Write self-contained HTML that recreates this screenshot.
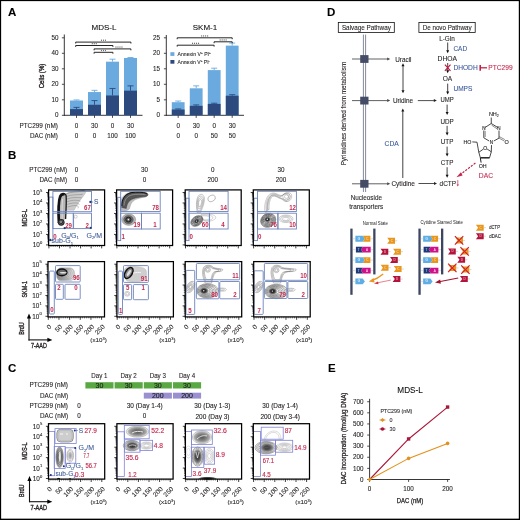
<!DOCTYPE html>
<html><head><meta charset="utf-8"><style>
html,body{margin:0;padding:0;background:#fff;}
#f{position:relative;width:520px;height:520px;overflow:hidden;background:#fff;}
svg{position:absolute;left:0;top:0;font-family:"Liberation Sans", sans-serif;filter:blur(0.3px);}
svg.b{filter:none;}
</style></head><body><div id="f">
<svg width="520" height="520" viewBox="0 0 520 520">
<defs><radialGradient id="gk" cx="50%" cy="50%" r="50%"><stop offset="0" stop-color="#111"/><stop offset="0.45" stop-color="#333"/><stop offset="0.8" stop-color="#888"/><stop offset="1" stop-color="#ccc" stop-opacity="0"/></radialGradient>
<radialGradient id="gm" cx="50%" cy="50%" r="50%"><stop offset="0" stop-color="#444"/><stop offset="0.5" stop-color="#777"/><stop offset="0.85" stop-color="#aaa"/><stop offset="1" stop-color="#ddd" stop-opacity="0"/></radialGradient>
<radialGradient id="gl" cx="50%" cy="50%" r="50%"><stop offset="0" stop-color="#999"/><stop offset="0.6" stop-color="#bbb"/><stop offset="1" stop-color="#eee" stop-opacity="0"/></radialGradient>
<linearGradient id="lgr" x1="0" y1="0" x2="1" y2="0"><stop offset="0" stop-color="#8a8a8a"/><stop offset="0.5" stop-color="#bdbdbd"/><stop offset="1" stop-color="#e6e6e6"/></linearGradient>
</defs>
<text x="8.00" y="15.97" font-size="11.50" fill="#000" font-weight="bold" stroke="#000" stroke-width="0.1">A</text>
<text x="8.00" y="159.47" font-size="11.50" fill="#000" font-weight="bold" stroke="#000" stroke-width="0.1">B</text>
<text x="8.00" y="372.47" font-size="11.50" fill="#000" font-weight="bold" stroke="#000" stroke-width="0.1">C</text>
<text x="327.00" y="15.97" font-size="11.50" fill="#000" font-weight="bold" stroke="#000" stroke-width="0.1">D</text>
<text x="328.00" y="372.47" font-size="11.50" fill="#000" font-weight="bold" stroke="#000" stroke-width="0.1">E</text>
<text x="104.00" y="29.76" font-size="8.00" fill="#111" text-anchor="middle" stroke="#111" stroke-width="0.1">MDS-L</text>
<line x1="64.30" y1="34.50" x2="64.30" y2="115.70" stroke="#231f20" stroke-width="0.9"/>
<line x1="63.90" y1="115.30" x2="142.50" y2="115.30" stroke="#231f20" stroke-width="0.9"/>
<line x1="61.90" y1="115.30" x2="64.30" y2="115.30" stroke="#231f20" stroke-width="0.8"/>
<text x="58.50" y="117.47" font-size="6.30" fill="#231f20" text-anchor="end" stroke="#231f20" stroke-width="0.1">0</text>
<line x1="61.90" y1="99.80" x2="64.30" y2="99.80" stroke="#231f20" stroke-width="0.8"/>
<text x="58.50" y="101.97" font-size="6.30" fill="#231f20" text-anchor="end" stroke="#231f20" stroke-width="0.1">10</text>
<line x1="61.90" y1="84.30" x2="64.30" y2="84.30" stroke="#231f20" stroke-width="0.8"/>
<text x="58.50" y="86.47" font-size="6.30" fill="#231f20" text-anchor="end" stroke="#231f20" stroke-width="0.1">20</text>
<line x1="61.90" y1="68.80" x2="64.30" y2="68.80" stroke="#231f20" stroke-width="0.8"/>
<text x="58.50" y="70.97" font-size="6.30" fill="#231f20" text-anchor="end" stroke="#231f20" stroke-width="0.1">30</text>
<line x1="61.90" y1="53.30" x2="64.30" y2="53.30" stroke="#231f20" stroke-width="0.8"/>
<text x="58.50" y="55.47" font-size="6.30" fill="#231f20" text-anchor="end" stroke="#231f20" stroke-width="0.1">40</text>
<line x1="61.90" y1="37.80" x2="64.30" y2="37.80" stroke="#231f20" stroke-width="0.8"/>
<text x="58.50" y="39.97" font-size="6.30" fill="#231f20" text-anchor="end" stroke="#231f20" stroke-width="0.1">50</text>
<rect x="70.00" y="100.50" width="13.00" height="14.80" fill="#6aaade"/>
<rect x="70.00" y="109.10" width="13.00" height="6.20" fill="#2c4a7e"/>
<line x1="76.50" y1="100.50" x2="76.50" y2="99.95" stroke="#6aaade" stroke-width="0.9"/>
<line x1="73.50" y1="99.95" x2="79.50" y2="99.95" stroke="#6aaade" stroke-width="0.9"/>
<line x1="76.50" y1="109.10" x2="76.50" y2="107.39" stroke="#2c4a7e" stroke-width="0.9"/>
<line x1="73.50" y1="107.39" x2="79.50" y2="107.39" stroke="#2c4a7e" stroke-width="0.9"/>
<line x1="76.50" y1="115.30" x2="76.50" y2="117.90" stroke="#231f20" stroke-width="0.8"/>
<text x="76.50" y="127.67" font-size="6.30" fill="#231f20" text-anchor="middle" stroke="#231f20" stroke-width="0.1">0</text>
<text x="76.50" y="137.77" font-size="6.30" fill="#231f20" text-anchor="middle" stroke="#231f20" stroke-width="0.1">0</text>
<rect x="88.00" y="92.05" width="13.00" height="23.25" fill="#6aaade"/>
<rect x="88.00" y="104.76" width="13.00" height="10.54" fill="#2c4a7e"/>
<line x1="94.50" y1="92.05" x2="94.50" y2="90.34" stroke="#6aaade" stroke-width="0.9"/>
<line x1="91.50" y1="90.34" x2="97.50" y2="90.34" stroke="#6aaade" stroke-width="0.9"/>
<line x1="94.50" y1="104.76" x2="94.50" y2="100.58" stroke="#2c4a7e" stroke-width="0.9"/>
<line x1="91.50" y1="100.58" x2="97.50" y2="100.58" stroke="#2c4a7e" stroke-width="0.9"/>
<line x1="94.50" y1="115.30" x2="94.50" y2="117.90" stroke="#231f20" stroke-width="0.8"/>
<text x="94.50" y="127.67" font-size="6.30" fill="#231f20" text-anchor="middle" stroke="#231f20" stroke-width="0.1">30</text>
<text x="94.50" y="137.77" font-size="6.30" fill="#231f20" text-anchor="middle" stroke="#231f20" stroke-width="0.1">0</text>
<rect x="106.00" y="61.67" width="13.00" height="53.63" fill="#6aaade"/>
<rect x="106.00" y="95.46" width="13.00" height="19.84" fill="#2c4a7e"/>
<line x1="112.50" y1="61.67" x2="112.50" y2="59.19" stroke="#6aaade" stroke-width="0.9"/>
<line x1="109.50" y1="59.19" x2="115.50" y2="59.19" stroke="#6aaade" stroke-width="0.9"/>
<line x1="112.50" y1="95.46" x2="112.50" y2="88.48" stroke="#2c4a7e" stroke-width="0.9"/>
<line x1="109.50" y1="88.48" x2="115.50" y2="88.48" stroke="#2c4a7e" stroke-width="0.9"/>
<line x1="112.50" y1="115.30" x2="112.50" y2="117.90" stroke="#231f20" stroke-width="0.8"/>
<text x="112.50" y="127.67" font-size="6.30" fill="#231f20" text-anchor="middle" stroke="#231f20" stroke-width="0.1">0</text>
<text x="112.50" y="137.77" font-size="6.30" fill="#231f20" text-anchor="middle" stroke="#231f20" stroke-width="0.1">100</text>
<rect x="124.00" y="57.95" width="13.00" height="57.35" fill="#6aaade"/>
<rect x="124.00" y="90.66" width="13.00" height="24.64" fill="#2c4a7e"/>
<line x1="130.50" y1="57.95" x2="130.50" y2="57.48" stroke="#6aaade" stroke-width="0.9"/>
<line x1="127.50" y1="57.48" x2="133.50" y2="57.48" stroke="#6aaade" stroke-width="0.9"/>
<line x1="130.50" y1="90.66" x2="130.50" y2="85.85" stroke="#2c4a7e" stroke-width="0.9"/>
<line x1="127.50" y1="85.85" x2="133.50" y2="85.85" stroke="#2c4a7e" stroke-width="0.9"/>
<line x1="130.50" y1="115.30" x2="130.50" y2="117.90" stroke="#231f20" stroke-width="0.8"/>
<text x="130.50" y="127.67" font-size="6.30" fill="#231f20" text-anchor="middle" stroke="#231f20" stroke-width="0.1">30</text>
<text x="130.50" y="137.77" font-size="6.30" fill="#231f20" text-anchor="middle" stroke="#231f20" stroke-width="0.1">100</text>
<path d="M75.70,43.50 V42.10 H130.90 V43.50" fill="none" stroke="#1a1a1a" stroke-width="0.95"/>
<rect x="100.95" y="39.60" width="1.0" height="1.3" fill="#6a6a6a"/>
<rect x="102.95" y="39.60" width="1.0" height="1.3" fill="#6a6a6a"/>
<rect x="104.95" y="39.60" width="1.0" height="1.3" fill="#6a6a6a"/>
<path d="M75.70,46.90 V45.50 H112.90 V46.90" fill="none" stroke="#1a1a1a" stroke-width="0.95"/>
<rect x="91.75" y="43.00" width="1.0" height="1.3" fill="#6a6a6a"/>
<rect x="93.75" y="43.00" width="1.0" height="1.3" fill="#6a6a6a"/>
<rect x="95.75" y="43.00" width="1.0" height="1.3" fill="#6a6a6a"/>
<path d="M94.10,50.30 V48.90 H130.90 V50.30" fill="none" stroke="#1a1a1a" stroke-width="0.95"/>
<rect x="115.45" y="46.40" width="1.0" height="1.3" fill="#6a6a6a"/>
<rect x="117.45" y="46.40" width="1.0" height="1.3" fill="#6a6a6a"/>
<rect x="119.45" y="46.40" width="1.0" height="1.3" fill="#6a6a6a"/>
<rect x="121.45" y="46.40" width="1.0" height="1.3" fill="#6a6a6a"/>
<path d="M94.10,53.70 V52.30 H112.90 V53.70" fill="none" stroke="#1a1a1a" stroke-width="0.95"/>
<rect x="100.95" y="49.80" width="1.0" height="1.3" fill="#6a6a6a"/>
<rect x="102.95" y="49.80" width="1.0" height="1.3" fill="#6a6a6a"/>
<rect x="104.95" y="49.80" width="1.0" height="1.3" fill="#6a6a6a"/>
<text x="205.00" y="29.76" font-size="8.00" fill="#111" text-anchor="middle" stroke="#111" stroke-width="0.1">SKM-1</text>
<line x1="166.30" y1="35.00" x2="166.30" y2="115.70" stroke="#231f20" stroke-width="0.9"/>
<line x1="165.90" y1="115.30" x2="244.00" y2="115.30" stroke="#231f20" stroke-width="0.9"/>
<line x1="163.90" y1="115.30" x2="166.30" y2="115.30" stroke="#231f20" stroke-width="0.8"/>
<text x="160.00" y="117.47" font-size="6.30" fill="#231f20" text-anchor="end" stroke="#231f20" stroke-width="0.1">0</text>
<line x1="163.90" y1="99.80" x2="166.30" y2="99.80" stroke="#231f20" stroke-width="0.8"/>
<text x="160.00" y="101.97" font-size="6.30" fill="#231f20" text-anchor="end" stroke="#231f20" stroke-width="0.1">5</text>
<line x1="163.90" y1="84.30" x2="166.30" y2="84.30" stroke="#231f20" stroke-width="0.8"/>
<text x="160.00" y="86.47" font-size="6.30" fill="#231f20" text-anchor="end" stroke="#231f20" stroke-width="0.1">10</text>
<line x1="163.90" y1="68.80" x2="166.30" y2="68.80" stroke="#231f20" stroke-width="0.8"/>
<text x="160.00" y="70.97" font-size="6.30" fill="#231f20" text-anchor="end" stroke="#231f20" stroke-width="0.1">15</text>
<line x1="163.90" y1="53.30" x2="166.30" y2="53.30" stroke="#231f20" stroke-width="0.8"/>
<text x="160.00" y="55.47" font-size="6.30" fill="#231f20" text-anchor="end" stroke="#231f20" stroke-width="0.1">20</text>
<line x1="163.90" y1="37.80" x2="166.30" y2="37.80" stroke="#231f20" stroke-width="0.8"/>
<text x="160.00" y="39.97" font-size="6.30" fill="#231f20" text-anchor="end" stroke="#231f20" stroke-width="0.1">25</text>
<rect x="171.80" y="102.19" width="12.80" height="13.11" fill="#6aaade"/>
<rect x="171.80" y="109.50" width="12.80" height="5.80" fill="#2c4a7e"/>
<line x1="178.20" y1="102.19" x2="178.20" y2="101.04" stroke="#6aaade" stroke-width="0.9"/>
<line x1="175.20" y1="101.04" x2="181.20" y2="101.04" stroke="#6aaade" stroke-width="0.9"/>
<line x1="178.20" y1="109.50" x2="178.20" y2="108.94" stroke="#2c4a7e" stroke-width="0.9"/>
<line x1="175.20" y1="108.94" x2="181.20" y2="108.94" stroke="#2c4a7e" stroke-width="0.9"/>
<line x1="178.20" y1="115.30" x2="178.20" y2="117.90" stroke="#231f20" stroke-width="0.8"/>
<text x="178.20" y="127.67" font-size="6.30" fill="#231f20" text-anchor="middle" stroke="#231f20" stroke-width="0.1">0</text>
<text x="178.20" y="137.77" font-size="6.30" fill="#231f20" text-anchor="middle" stroke="#231f20" stroke-width="0.1">0</text>
<rect x="189.80" y="88.30" width="12.80" height="27.00" fill="#6aaade"/>
<rect x="189.80" y="105.81" width="12.80" height="9.49" fill="#2c4a7e"/>
<line x1="196.20" y1="88.30" x2="196.20" y2="85.85" stroke="#6aaade" stroke-width="0.9"/>
<line x1="193.20" y1="85.85" x2="199.20" y2="85.85" stroke="#6aaade" stroke-width="0.9"/>
<line x1="196.20" y1="105.81" x2="196.20" y2="104.91" stroke="#2c4a7e" stroke-width="0.9"/>
<line x1="193.20" y1="104.91" x2="199.20" y2="104.91" stroke="#2c4a7e" stroke-width="0.9"/>
<line x1="196.20" y1="115.30" x2="196.20" y2="117.90" stroke="#231f20" stroke-width="0.8"/>
<text x="196.20" y="127.67" font-size="6.30" fill="#231f20" text-anchor="middle" stroke="#231f20" stroke-width="0.1">30</text>
<text x="196.20" y="137.77" font-size="6.30" fill="#231f20" text-anchor="middle" stroke="#231f20" stroke-width="0.1">0</text>
<rect x="207.80" y="70.10" width="12.80" height="45.20" fill="#6aaade"/>
<rect x="207.80" y="103.89" width="12.80" height="11.41" fill="#2c4a7e"/>
<line x1="214.20" y1="70.10" x2="214.20" y2="68.18" stroke="#6aaade" stroke-width="0.9"/>
<line x1="211.20" y1="68.18" x2="217.20" y2="68.18" stroke="#6aaade" stroke-width="0.9"/>
<line x1="214.20" y1="103.89" x2="214.20" y2="103.21" stroke="#2c4a7e" stroke-width="0.9"/>
<line x1="211.20" y1="103.21" x2="217.20" y2="103.21" stroke="#2c4a7e" stroke-width="0.9"/>
<line x1="214.20" y1="115.30" x2="214.20" y2="117.90" stroke="#231f20" stroke-width="0.8"/>
<text x="214.20" y="127.67" font-size="6.30" fill="#231f20" text-anchor="middle" stroke="#231f20" stroke-width="0.1">0</text>
<text x="214.20" y="137.77" font-size="6.30" fill="#231f20" text-anchor="middle" stroke="#231f20" stroke-width="0.1">50</text>
<rect x="225.80" y="45.61" width="12.80" height="69.69" fill="#6aaade"/>
<rect x="225.80" y="95.71" width="12.80" height="19.59" fill="#2c4a7e"/>
<line x1="232.20" y1="45.61" x2="232.20" y2="43.07" stroke="#6aaade" stroke-width="0.9"/>
<line x1="229.20" y1="43.07" x2="235.20" y2="43.07" stroke="#6aaade" stroke-width="0.9"/>
<line x1="232.20" y1="95.71" x2="232.20" y2="94.69" stroke="#2c4a7e" stroke-width="0.9"/>
<line x1="229.20" y1="94.69" x2="235.20" y2="94.69" stroke="#2c4a7e" stroke-width="0.9"/>
<line x1="232.20" y1="115.30" x2="232.20" y2="117.90" stroke="#231f20" stroke-width="0.8"/>
<text x="232.20" y="127.67" font-size="6.30" fill="#231f20" text-anchor="middle" stroke="#231f20" stroke-width="0.1">30</text>
<text x="232.20" y="137.77" font-size="6.30" fill="#231f20" text-anchor="middle" stroke="#231f20" stroke-width="0.1">50</text>
<path d="M177.20,39.20 V37.80 H232.20 V39.20" fill="none" stroke="#1a1a1a" stroke-width="0.95"/>
<rect x="201.15" y="35.30" width="1.0" height="1.3" fill="#6a6a6a"/>
<rect x="203.15" y="35.30" width="1.0" height="1.3" fill="#6a6a6a"/>
<rect x="205.15" y="35.30" width="1.0" height="1.3" fill="#6a6a6a"/>
<rect x="207.15" y="35.30" width="1.0" height="1.3" fill="#6a6a6a"/>
<path d="M214.10,43.20 V41.80 H232.20 V43.20" fill="none" stroke="#1a1a1a" stroke-width="0.95"/>
<rect x="219.65" y="39.30" width="1.0" height="1.3" fill="#6a6a6a"/>
<rect x="221.65" y="39.30" width="1.0" height="1.3" fill="#6a6a6a"/>
<rect x="223.65" y="39.30" width="1.0" height="1.3" fill="#6a6a6a"/>
<rect x="225.65" y="39.30" width="1.0" height="1.3" fill="#6a6a6a"/>
<path d="M177.20,46.60 V45.20 H214.10 V46.60" fill="none" stroke="#1a1a1a" stroke-width="0.95"/>
<rect x="192.05" y="42.70" width="1.0" height="1.3" fill="#6a6a6a"/>
<rect x="194.05" y="42.70" width="1.0" height="1.3" fill="#6a6a6a"/>
<rect x="196.05" y="42.70" width="1.0" height="1.3" fill="#6a6a6a"/>
<rect x="198.05" y="42.70" width="1.0" height="1.3" fill="#6a6a6a"/>
<text transform="translate(42.00,76.00) rotate(-90)" x="0" y="2.42" font-size="7.00" fill="#231f20" text-anchor="middle" textLength="24.6" lengthAdjust="spacingAndGlyphs" stroke="#231f20" stroke-width="0.35">Cells (%)</text>
<text x="57.90" y="127.67" font-size="6.30" fill="#231f20" text-anchor="end" textLength="38.5" lengthAdjust="spacingAndGlyphs" stroke="#231f20" stroke-width="0.1">PTC299 (nM)</text>
<text x="57.90" y="137.77" font-size="6.30" fill="#231f20" text-anchor="end" textLength="28" lengthAdjust="spacingAndGlyphs" stroke="#231f20" stroke-width="0.1">DAC (nM)</text>
<rect x="170.40" y="52.20" width="4.00" height="3.70" fill="#6aaade"/>
<rect x="170.40" y="60.00" width="4.00" height="3.70" fill="#2c4a7e"/>
<text x="177.60" y="56.07" font-size="6.00" fill="#231f20" textLength="33.2" lengthAdjust="spacingAndGlyphs" stroke="#231f20" stroke-width="0.1">Annexin V<tspan dy="-2.2" font-size="3.6">+</tspan><tspan dy="2.2"> PI</tspan><tspan dy="-2.2" font-size="3.6">+</tspan></text>
<text x="177.60" y="63.87" font-size="6.00" fill="#231f20" textLength="32.0" lengthAdjust="spacingAndGlyphs" stroke="#231f20" stroke-width="0.1">Annexin V<tspan dy="-2.2" font-size="3.6">+</tspan><tspan dy="2.2"> PI</tspan><tspan dy="-2.2" font-size="3.6">-</tspan></text>
<text x="67.00" y="171.67" font-size="6.30" fill="#231f20" text-anchor="end" textLength="37.8" lengthAdjust="spacingAndGlyphs" stroke="#231f20" stroke-width="0.1">PTC299 (nM)</text>
<text x="67.00" y="181.77" font-size="6.30" fill="#231f20" text-anchor="end" textLength="27.6" lengthAdjust="spacingAndGlyphs" stroke="#231f20" stroke-width="0.1">DAC (nM)</text>
<text x="76.50" y="171.57" font-size="6.30" fill="#231f20" text-anchor="middle" stroke="#231f20" stroke-width="0.1">0</text>
<text x="76.50" y="181.77" font-size="6.30" fill="#231f20" text-anchor="middle" stroke="#231f20" stroke-width="0.1">0</text>
<text x="144.60" y="171.57" font-size="6.30" fill="#231f20" text-anchor="middle" stroke="#231f20" stroke-width="0.1">30</text>
<text x="144.60" y="181.77" font-size="6.30" fill="#231f20" text-anchor="middle" stroke="#231f20" stroke-width="0.1">0</text>
<text x="212.80" y="171.57" font-size="6.30" fill="#231f20" text-anchor="middle" stroke="#231f20" stroke-width="0.1">0</text>
<text x="212.80" y="181.77" font-size="6.30" fill="#231f20" text-anchor="middle" stroke="#231f20" stroke-width="0.1">200</text>
<text x="280.90" y="171.57" font-size="6.30" fill="#231f20" text-anchor="middle" stroke="#231f20" stroke-width="0.1">30</text>
<text x="280.90" y="181.77" font-size="6.30" fill="#231f20" text-anchor="middle" stroke="#231f20" stroke-width="0.1">200</text>
<text transform="translate(23.80,217.70) rotate(-90)" x="0" y="2.73" font-size="7.90" fill="#231f20" text-anchor="middle" textLength="17.6" lengthAdjust="spacingAndGlyphs" stroke="#231f20" stroke-width="0.35">MDS-L</text>
<text transform="translate(23.80,289.30) rotate(-90)" x="0" y="2.73" font-size="7.90" fill="#231f20" text-anchor="middle" textLength="16.4" lengthAdjust="spacingAndGlyphs" stroke="#231f20" stroke-width="0.35">SKM-1</text>
<path d="M64.5,201 L66,194 C69,191.5 76,190.8 84.5,190.6 C86.5,191 86,193 83,196.5 C80,200 77,205 74,210.2 L66.5,210.2 Z" fill="#cbcbcb" stroke="#999" stroke-width="0.35"/>
<path d="M66.0,194.0 C71.0,191.5 77.0,192.5 84.0,190.8" fill="none" stroke="#6a6a6a" stroke-width="0.4"/>
<path d="M66.3,196.6 C72.0,194.1 77.5,195.1 82.8,194.3" fill="none" stroke="#6a6a6a" stroke-width="0.4"/>
<path d="M66.6,199.2 C73.0,196.7 78.0,197.7 81.6,197.8" fill="none" stroke="#6a6a6a" stroke-width="0.4"/>
<path d="M66.9,201.8 C74.0,199.3 78.5,200.3 80.4,201.3" fill="none" stroke="#6a6a6a" stroke-width="0.4"/>
<path d="M67.2,204.4 C75.0,201.9 79.0,202.9 79.2,204.8" fill="none" stroke="#6a6a6a" stroke-width="0.4"/>
<path d="M67.5,207.0 C76.0,204.5 79.5,205.5 78.0,208.3" fill="none" stroke="#6a6a6a" stroke-width="0.4"/>
<path d="M58.3,223 C57.6,212 57.8,201 59.6,196 C61,192.8 64.8,192.6 66.0,195.2 C66.6,199 66.2,208 65.6,219" fill="#b8b8b8" stroke="#1a1a1a" stroke-width="1.3"/>
<path d="M59.0,221 C58.6,212 58.8,201 60.4,196.8 C61.4,194.8 63,194.2 64.6,194.6" fill="none" stroke="#111" stroke-width="2.2"/>
<path d="M62.2,219 C62.0,212 62.1,204 62.6,199" fill="none" stroke="#e8e8e8" stroke-width="0.7"/>
<circle cx="61.2" cy="222.3" r="3.4" fill="#222"/>
<circle cx="61.2" cy="222.3" r="2.0" fill="none" stroke="#888" stroke-width="0.5"/>
<circle cx="61.0" cy="222.0" r="0.8" fill="#fff"/>
<circle cx="75.7" cy="216.7" r="1.5" fill="none" stroke="#888" stroke-width="0.4"/>
<path d="M120.4,210 C120,203 121.5,197.5 125,194.5 C129,191.8 136,192 142,192.4 C146,192.7 148.5,193.6 147.8,195.3 C146.5,197.4 141,197.3 135.5,199.6 C131.5,201.5 130.4,205 129.6,208.5 C128.5,211 122,211.5 120.4,210 Z" fill="#bdbdbd" stroke="#888" stroke-width="0.4"/>
<path d="M121.6,207.5 C121.6,199 124.5,194.2 131,192.5 C137,191.5 144,191.8 147.5,193.6 C148.6,195 147.5,196.5 145,196.8 C140,197 134,197.8 130.5,200.2 C127.8,202 126.8,205 126.3,208.5 Z" fill="#555" stroke="#333" stroke-width="0.4"/>
<path d="M121.8,206 C121.8,199 124.6,194.4 131,192.7 C137,191.7 143,191.9 147,193.5" fill="none" stroke="#111" stroke-width="1.0"/>
<path d="M124.0,205.5 C124.3,199.8 127,196.2 132,194.9 C137,194.0 141,194.1 145.5,194.7" fill="none" stroke="#b0b0b0" stroke-width="0.6"/>
<ellipse cx="128.7" cy="219.6" rx="7.0" ry="5.8" fill="#b5b5b5" stroke="#777" stroke-width="0.4"/>
<ellipse cx="128.5" cy="219.6" rx="4.8" ry="4.2" fill="#6a6a6a" stroke="#444" stroke-width="0.4"/>
<ellipse cx="128.4" cy="219.6" rx="2.6" ry="2.4" fill="#555" stroke="#1a1a1a" stroke-width="0.9"/>
<circle cx="128.4" cy="219.6" r="0.8" fill="#eee"/>
<path d="M197.2,212.5 C195.8,205 196.2,197.5 199.2,195 C202.5,193 205,196 204.3,201 C203.6,206 201.5,210 200.3,212.8 Z" fill="none" stroke="#707070" stroke-width="0.400" transform="translate(200,203) scale(1.000) translate(-200,-203)"/>
<path d="M197.2,212.5 C195.8,205 196.2,197.5 199.2,195 C202.5,193 205,196 204.3,201 C203.6,206 201.5,210 200.3,212.8 Z" fill="none" stroke="#707070" stroke-width="0.500" transform="translate(200,203) scale(0.800) translate(-200,-203)"/>
<path d="M197.2,212.5 C195.8,205 196.2,197.5 199.2,195 C202.5,193 205,196 204.3,201 C203.6,206 201.5,210 200.3,212.8 Z" fill="none" stroke="#707070" stroke-width="0.667" transform="translate(200,203) scale(0.600) translate(-200,-203)"/>
<path d="M197.2,212.5 C195.8,205 196.2,197.5 199.2,195 C202.5,193 205,196 204.3,201 C203.6,206 201.5,210 200.3,212.8 Z" fill="none" stroke="#707070" stroke-width="1.000" transform="translate(200,203) scale(0.400) translate(-200,-203)"/>
<ellipse cx="211.6" cy="198.4" rx="3.9" ry="3.0" fill="none" stroke="#777" stroke-width="0.45" transform="rotate(-25 211.6 198.4)"/>
<path d="M201,214.5 C206,213.5 213,214 215.6,216.5 C216.5,219 213,221.2 207,221.4 C203.5,221.5 201,219 201,214.5 Z" fill="none" stroke="#888" stroke-width="0.350" transform="translate(203,218) scale(1.000) translate(-203,-218)"/>
<path d="M201,214.5 C206,213.5 213,214 215.6,216.5 C216.5,219 213,221.2 207,221.4 C203.5,221.5 201,219 201,214.5 Z" fill="none" stroke="#888" stroke-width="0.452" transform="translate(203,218) scale(0.775) translate(-203,-218)"/>
<path d="M201,214.5 C206,213.5 213,214 215.6,216.5 C216.5,219 213,221.2 207,221.4 C203.5,221.5 201,219 201,214.5 Z" fill="none" stroke="#888" stroke-width="0.636" transform="translate(203,218) scale(0.550) translate(-203,-218)"/>
<ellipse cx="196.80" cy="221.00" rx="6.60" ry="4.60" fill="none" stroke="#2a2a2a" stroke-width="0.45" transform="rotate(-35 196.80 221.00)"/>
<ellipse cx="196.80" cy="221.00" rx="5.87" ry="4.09" fill="none" stroke="#2a2a2a" stroke-width="0.45" transform="rotate(-35 196.80 221.00)"/>
<ellipse cx="196.80" cy="221.00" rx="5.15" ry="3.59" fill="none" stroke="#2a2a2a" stroke-width="0.45" transform="rotate(-35 196.80 221.00)"/>
<ellipse cx="196.80" cy="221.00" rx="4.42" ry="3.08" fill="none" stroke="#2a2a2a" stroke-width="0.45" transform="rotate(-35 196.80 221.00)"/>
<ellipse cx="196.80" cy="221.00" rx="3.70" ry="2.58" fill="none" stroke="#2a2a2a" stroke-width="0.45" transform="rotate(-35 196.80 221.00)"/>
<ellipse cx="196.80" cy="221.00" rx="2.97" ry="2.07" fill="none" stroke="#2a2a2a" stroke-width="0.45" transform="rotate(-35 196.80 221.00)"/>
<ellipse cx="196.80" cy="221.00" rx="2.24" ry="1.56" fill="none" stroke="#2a2a2a" stroke-width="0.45" transform="rotate(-35 196.80 221.00)"/>
<ellipse cx="196.80" cy="221.00" rx="1.52" ry="1.06" fill="none" stroke="#2a2a2a" stroke-width="0.45" transform="rotate(-35 196.80 221.00)"/>
<ellipse cx="196.80" cy="221.00" rx="0.79" ry="0.55" fill="none" stroke="#2a2a2a" stroke-width="0.45" transform="rotate(-35 196.80 221.00)"/>
<ellipse cx="196.60" cy="221.10" rx="3.40" ry="2.60" fill="url(#gk)" opacity="1" transform="rotate(-35 196.60 221.10)"/>
<circle cx="196.5" cy="221.1" r="0.7" fill="#eee"/>
<path d="M266.8,212.2 C266.5,206 267.5,200 270,196.5 C272.5,193.8 276,195.5 279,197.2 C282,198.5 284,199 286.5,201.5 C290,202 292.5,198 291.5,194.5 C290,191.8 285.5,192 283.5,194.5 C281.5,196.5 279.5,195 276,193.6 C272,192 268.5,194 266.8,198 C264.5,203 264.3,208 265,212.2 Z" fill="none" stroke="#808080" stroke-width="0.400" transform="translate(277,200) scale(1.000) translate(-277,-200)"/>
<path d="M266.8,212.2 C266.5,206 267.5,200 270,196.5 C272.5,193.8 276,195.5 279,197.2 C282,198.5 284,199 286.5,201.5 C290,202 292.5,198 291.5,194.5 C290,191.8 285.5,192 283.5,194.5 C281.5,196.5 279.5,195 276,193.6 C272,192 268.5,194 266.8,198 C264.5,203 264.3,208 265,212.2 Z" fill="none" stroke="#808080" stroke-width="0.449" transform="translate(277,200) scale(0.890) translate(-277,-200)"/>
<path d="M266.8,212.2 C266.5,206 267.5,200 270,196.5 C272.5,193.8 276,195.5 279,197.2 C282,198.5 284,199 286.5,201.5 C290,202 292.5,198 291.5,194.5 C290,191.8 285.5,192 283.5,194.5 C281.5,196.5 279.5,195 276,193.6 C272,192 268.5,194 266.8,198 C264.5,203 264.3,208 265,212.2 Z" fill="none" stroke="#808080" stroke-width="0.513" transform="translate(277,200) scale(0.780) translate(-277,-200)"/>
<ellipse cx="286.50" cy="196.60" rx="3.80" ry="3.30" fill="none" stroke="#888" stroke-width="0.4" transform="rotate(0 286.50 196.60)"/>
<ellipse cx="286.50" cy="196.60" rx="2.09" ry="1.81" fill="none" stroke="#888" stroke-width="0.4" transform="rotate(0 286.50 196.60)"/>
<ellipse cx="286.00" cy="218.80" rx="7.00" ry="3.80" fill="none" stroke="#888" stroke-width="0.4" transform="rotate(0 286.00 218.80)"/>
<ellipse cx="286.00" cy="218.80" rx="5.48" ry="2.98" fill="none" stroke="#888" stroke-width="0.4" transform="rotate(0 286.00 218.80)"/>
<ellipse cx="286.00" cy="218.80" rx="3.97" ry="2.15" fill="none" stroke="#888" stroke-width="0.4" transform="rotate(0 286.00 218.80)"/>
<ellipse cx="286.00" cy="218.80" rx="2.45" ry="1.33" fill="none" stroke="#888" stroke-width="0.4" transform="rotate(0 286.00 218.80)"/>
<ellipse cx="285.5" cy="218.8" rx="2.2" ry="1.1" fill="#fff"/>
<ellipse cx="268.20" cy="220.30" rx="7.80" ry="6.80" fill="none" stroke="#2a2a2a" stroke-width="0.45" transform="rotate(-30 268.20 220.30)"/>
<ellipse cx="268.12" cy="220.22" rx="7.04" ry="6.14" fill="none" stroke="#2a2a2a" stroke-width="0.45" transform="rotate(-30 268.12 220.22)"/>
<ellipse cx="268.04" cy="220.14" rx="6.27" ry="5.47" fill="none" stroke="#2a2a2a" stroke-width="0.45" transform="rotate(-30 268.04 220.14)"/>
<ellipse cx="267.97" cy="220.07" rx="5.51" ry="4.81" fill="none" stroke="#2a2a2a" stroke-width="0.45" transform="rotate(-30 267.97 220.07)"/>
<ellipse cx="267.89" cy="219.99" rx="4.75" ry="4.14" fill="none" stroke="#2a2a2a" stroke-width="0.45" transform="rotate(-30 267.89 219.99)"/>
<ellipse cx="267.81" cy="219.91" rx="3.99" ry="3.48" fill="none" stroke="#2a2a2a" stroke-width="0.45" transform="rotate(-30 267.81 219.91)"/>
<ellipse cx="267.73" cy="219.83" rx="3.22" ry="2.81" fill="none" stroke="#2a2a2a" stroke-width="0.45" transform="rotate(-30 267.73 219.83)"/>
<ellipse cx="267.65" cy="219.75" rx="2.46" ry="2.15" fill="none" stroke="#2a2a2a" stroke-width="0.45" transform="rotate(-30 267.65 219.75)"/>
<ellipse cx="267.57" cy="219.67" rx="1.70" ry="1.48" fill="none" stroke="#2a2a2a" stroke-width="0.45" transform="rotate(-30 267.57 219.67)"/>
<ellipse cx="267.50" cy="219.60" rx="0.94" ry="0.82" fill="none" stroke="#2a2a2a" stroke-width="0.45" transform="rotate(-30 267.50 219.60)"/>
<ellipse cx="267.40" cy="219.40" rx="3.60" ry="3.00" fill="url(#gk)" opacity="1" transform="rotate(0 267.40 219.40)"/>
<circle cx="267.3" cy="219.3" r="0.75" fill="#eee"/>
<rect x="49.10" y="197.10" width="3.80" height="43.40" fill="none" stroke="#6d85bb" stroke-width="0.9"/>
<rect x="52.90" y="191.40" width="38.60" height="20.30" fill="none" stroke="#6d85bb" stroke-width="0.9"/>
<rect x="52.90" y="213.20" width="20.30" height="15.40" fill="none" stroke="#6d85bb" stroke-width="0.9"/>
<rect x="73.60" y="213.20" width="17.90" height="15.40" fill="none" stroke="#6d85bb" stroke-width="0.9"/>
<rect x="117.80" y="197.30" width="2.90" height="43.30" fill="none" stroke="#6d85bb" stroke-width="0.9"/>
<rect x="120.70" y="191.30" width="39.50" height="20.20" fill="none" stroke="#6d85bb" stroke-width="0.9"/>
<rect x="120.70" y="213.20" width="20.80" height="15.80" fill="none" stroke="#6d85bb" stroke-width="0.9"/>
<rect x="141.50" y="213.20" width="18.70" height="15.80" fill="none" stroke="#6d85bb" stroke-width="0.9"/>
<rect x="186.00" y="198.20" width="3.00" height="42.40" fill="none" stroke="#6d85bb" stroke-width="0.9"/>
<rect x="189.00" y="191.30" width="39.10" height="20.20" fill="none" stroke="#6d85bb" stroke-width="0.9"/>
<rect x="189.00" y="213.20" width="20.40" height="15.80" fill="none" stroke="#6d85bb" stroke-width="0.9"/>
<rect x="209.40" y="213.20" width="18.70" height="15.80" fill="none" stroke="#6d85bb" stroke-width="0.9"/>
<rect x="254.00" y="198.20" width="3.50" height="42.40" fill="none" stroke="#6d85bb" stroke-width="0.9"/>
<rect x="257.50" y="191.30" width="38.90" height="20.20" fill="none" stroke="#6d85bb" stroke-width="0.9"/>
<rect x="257.50" y="213.20" width="20.40" height="15.80" fill="none" stroke="#6d85bb" stroke-width="0.9"/>
<rect x="277.90" y="213.20" width="18.50" height="15.80" fill="none" stroke="#6d85bb" stroke-width="0.9"/>
<rect x="48.60" y="189.90" width="56.00" height="55.60" fill="none" stroke="#000" stroke-width="1.25"/>
<line x1="46.00" y1="244.90" x2="48.60" y2="244.90" stroke="#000" stroke-width="0.75"/>
<line x1="47.20" y1="241.75" x2="48.60" y2="241.75" stroke="#000" stroke-width="0.5"/>
<line x1="47.20" y1="239.90" x2="48.60" y2="239.90" stroke="#000" stroke-width="0.5"/>
<line x1="47.20" y1="238.59" x2="48.60" y2="238.59" stroke="#000" stroke-width="0.5"/>
<line x1="47.20" y1="237.57" x2="48.60" y2="237.57" stroke="#000" stroke-width="0.5"/>
<line x1="47.20" y1="236.74" x2="48.60" y2="236.74" stroke="#000" stroke-width="0.5"/>
<line x1="47.20" y1="236.04" x2="48.60" y2="236.04" stroke="#000" stroke-width="0.5"/>
<line x1="47.20" y1="235.44" x2="48.60" y2="235.44" stroke="#000" stroke-width="0.5"/>
<line x1="47.20" y1="234.90" x2="48.60" y2="234.90" stroke="#000" stroke-width="0.5"/>
<text x="39.90" y="247.41" font-size="6.40" fill="#231f20" text-anchor="end" stroke="#231f20" stroke-width="0.1">10</text>
<text x="40.00" y="244.01" font-size="4.10" fill="#231f20" stroke="#231f20" stroke-width="0.1">0</text>
<line x1="46.00" y1="234.42" x2="48.60" y2="234.42" stroke="#000" stroke-width="0.75"/>
<line x1="47.20" y1="231.27" x2="48.60" y2="231.27" stroke="#000" stroke-width="0.5"/>
<line x1="47.20" y1="229.42" x2="48.60" y2="229.42" stroke="#000" stroke-width="0.5"/>
<line x1="47.20" y1="228.11" x2="48.60" y2="228.11" stroke="#000" stroke-width="0.5"/>
<line x1="47.20" y1="227.09" x2="48.60" y2="227.09" stroke="#000" stroke-width="0.5"/>
<line x1="47.20" y1="226.26" x2="48.60" y2="226.26" stroke="#000" stroke-width="0.5"/>
<line x1="47.20" y1="225.56" x2="48.60" y2="225.56" stroke="#000" stroke-width="0.5"/>
<line x1="47.20" y1="224.96" x2="48.60" y2="224.96" stroke="#000" stroke-width="0.5"/>
<line x1="47.20" y1="224.42" x2="48.60" y2="224.42" stroke="#000" stroke-width="0.5"/>
<text x="39.90" y="236.93" font-size="6.40" fill="#231f20" text-anchor="end" stroke="#231f20" stroke-width="0.1">10</text>
<text x="40.00" y="233.53" font-size="4.10" fill="#231f20" stroke="#231f20" stroke-width="0.1">1</text>
<line x1="46.00" y1="223.94" x2="48.60" y2="223.94" stroke="#000" stroke-width="0.75"/>
<line x1="47.20" y1="220.79" x2="48.60" y2="220.79" stroke="#000" stroke-width="0.5"/>
<line x1="47.20" y1="218.94" x2="48.60" y2="218.94" stroke="#000" stroke-width="0.5"/>
<line x1="47.20" y1="217.63" x2="48.60" y2="217.63" stroke="#000" stroke-width="0.5"/>
<line x1="47.20" y1="216.61" x2="48.60" y2="216.61" stroke="#000" stroke-width="0.5"/>
<line x1="47.20" y1="215.78" x2="48.60" y2="215.78" stroke="#000" stroke-width="0.5"/>
<line x1="47.20" y1="215.08" x2="48.60" y2="215.08" stroke="#000" stroke-width="0.5"/>
<line x1="47.20" y1="214.48" x2="48.60" y2="214.48" stroke="#000" stroke-width="0.5"/>
<line x1="47.20" y1="213.94" x2="48.60" y2="213.94" stroke="#000" stroke-width="0.5"/>
<text x="39.90" y="226.45" font-size="6.40" fill="#231f20" text-anchor="end" stroke="#231f20" stroke-width="0.1">10</text>
<text x="40.00" y="223.05" font-size="4.10" fill="#231f20" stroke="#231f20" stroke-width="0.1">2</text>
<line x1="46.00" y1="213.46" x2="48.60" y2="213.46" stroke="#000" stroke-width="0.75"/>
<line x1="47.20" y1="210.31" x2="48.60" y2="210.31" stroke="#000" stroke-width="0.5"/>
<line x1="47.20" y1="208.46" x2="48.60" y2="208.46" stroke="#000" stroke-width="0.5"/>
<line x1="47.20" y1="207.15" x2="48.60" y2="207.15" stroke="#000" stroke-width="0.5"/>
<line x1="47.20" y1="206.13" x2="48.60" y2="206.13" stroke="#000" stroke-width="0.5"/>
<line x1="47.20" y1="205.30" x2="48.60" y2="205.30" stroke="#000" stroke-width="0.5"/>
<line x1="47.20" y1="204.60" x2="48.60" y2="204.60" stroke="#000" stroke-width="0.5"/>
<line x1="47.20" y1="204.00" x2="48.60" y2="204.00" stroke="#000" stroke-width="0.5"/>
<line x1="47.20" y1="203.46" x2="48.60" y2="203.46" stroke="#000" stroke-width="0.5"/>
<text x="39.90" y="215.97" font-size="6.40" fill="#231f20" text-anchor="end" stroke="#231f20" stroke-width="0.1">10</text>
<text x="40.00" y="212.57" font-size="4.10" fill="#231f20" stroke="#231f20" stroke-width="0.1">3</text>
<line x1="46.00" y1="202.98" x2="48.60" y2="202.98" stroke="#000" stroke-width="0.75"/>
<line x1="47.20" y1="199.83" x2="48.60" y2="199.83" stroke="#000" stroke-width="0.5"/>
<line x1="47.20" y1="197.98" x2="48.60" y2="197.98" stroke="#000" stroke-width="0.5"/>
<line x1="47.20" y1="196.67" x2="48.60" y2="196.67" stroke="#000" stroke-width="0.5"/>
<line x1="47.20" y1="195.65" x2="48.60" y2="195.65" stroke="#000" stroke-width="0.5"/>
<line x1="47.20" y1="194.82" x2="48.60" y2="194.82" stroke="#000" stroke-width="0.5"/>
<line x1="47.20" y1="194.12" x2="48.60" y2="194.12" stroke="#000" stroke-width="0.5"/>
<line x1="47.20" y1="193.52" x2="48.60" y2="193.52" stroke="#000" stroke-width="0.5"/>
<line x1="47.20" y1="192.98" x2="48.60" y2="192.98" stroke="#000" stroke-width="0.5"/>
<text x="39.90" y="205.49" font-size="6.40" fill="#231f20" text-anchor="end" stroke="#231f20" stroke-width="0.1">10</text>
<text x="40.00" y="202.09" font-size="4.10" fill="#231f20" stroke="#231f20" stroke-width="0.1">4</text>
<line x1="46.00" y1="192.50" x2="48.60" y2="192.50" stroke="#000" stroke-width="0.75"/>
<text x="39.90" y="195.01" font-size="6.40" fill="#231f20" text-anchor="end" stroke="#231f20" stroke-width="0.1">10</text>
<text x="40.00" y="191.61" font-size="4.10" fill="#231f20" stroke="#231f20" stroke-width="0.1">5</text>
<line x1="48.90" y1="245.50" x2="48.90" y2="248.40" stroke="#000" stroke-width="0.75"/>
<line x1="51.01" y1="245.50" x2="51.01" y2="247.00" stroke="#000" stroke-width="0.5"/>
<line x1="53.12" y1="245.50" x2="53.12" y2="247.00" stroke="#000" stroke-width="0.5"/>
<line x1="55.24" y1="245.50" x2="55.24" y2="247.00" stroke="#000" stroke-width="0.5"/>
<line x1="57.35" y1="245.50" x2="57.35" y2="247.00" stroke="#000" stroke-width="0.5"/>
<line x1="59.46" y1="245.50" x2="59.46" y2="248.40" stroke="#000" stroke-width="0.75"/>
<line x1="61.57" y1="245.50" x2="61.57" y2="247.00" stroke="#000" stroke-width="0.5"/>
<line x1="63.68" y1="245.50" x2="63.68" y2="247.00" stroke="#000" stroke-width="0.5"/>
<line x1="65.80" y1="245.50" x2="65.80" y2="247.00" stroke="#000" stroke-width="0.5"/>
<line x1="67.91" y1="245.50" x2="67.91" y2="247.00" stroke="#000" stroke-width="0.5"/>
<line x1="70.02" y1="245.50" x2="70.02" y2="248.40" stroke="#000" stroke-width="0.75"/>
<line x1="72.13" y1="245.50" x2="72.13" y2="247.00" stroke="#000" stroke-width="0.5"/>
<line x1="74.24" y1="245.50" x2="74.24" y2="247.00" stroke="#000" stroke-width="0.5"/>
<line x1="76.36" y1="245.50" x2="76.36" y2="247.00" stroke="#000" stroke-width="0.5"/>
<line x1="78.47" y1="245.50" x2="78.47" y2="247.00" stroke="#000" stroke-width="0.5"/>
<line x1="80.58" y1="245.50" x2="80.58" y2="248.40" stroke="#000" stroke-width="0.75"/>
<line x1="82.69" y1="245.50" x2="82.69" y2="247.00" stroke="#000" stroke-width="0.5"/>
<line x1="84.80" y1="245.50" x2="84.80" y2="247.00" stroke="#000" stroke-width="0.5"/>
<line x1="86.92" y1="245.50" x2="86.92" y2="247.00" stroke="#000" stroke-width="0.5"/>
<line x1="89.03" y1="245.50" x2="89.03" y2="247.00" stroke="#000" stroke-width="0.5"/>
<line x1="91.14" y1="245.50" x2="91.14" y2="248.40" stroke="#000" stroke-width="0.75"/>
<line x1="93.25" y1="245.50" x2="93.25" y2="247.00" stroke="#000" stroke-width="0.5"/>
<line x1="95.36" y1="245.50" x2="95.36" y2="247.00" stroke="#000" stroke-width="0.5"/>
<line x1="97.48" y1="245.50" x2="97.48" y2="247.00" stroke="#000" stroke-width="0.5"/>
<line x1="99.59" y1="245.50" x2="99.59" y2="247.00" stroke="#000" stroke-width="0.5"/>
<line x1="101.70" y1="245.50" x2="101.70" y2="248.40" stroke="#000" stroke-width="0.75"/>
<rect x="116.60" y="189.90" width="56.00" height="55.60" fill="none" stroke="#000" stroke-width="1.25"/>
<line x1="114.00" y1="244.90" x2="116.60" y2="244.90" stroke="#000" stroke-width="0.75"/>
<line x1="115.20" y1="241.75" x2="116.60" y2="241.75" stroke="#000" stroke-width="0.5"/>
<line x1="115.20" y1="239.90" x2="116.60" y2="239.90" stroke="#000" stroke-width="0.5"/>
<line x1="115.20" y1="238.59" x2="116.60" y2="238.59" stroke="#000" stroke-width="0.5"/>
<line x1="115.20" y1="237.57" x2="116.60" y2="237.57" stroke="#000" stroke-width="0.5"/>
<line x1="115.20" y1="236.74" x2="116.60" y2="236.74" stroke="#000" stroke-width="0.5"/>
<line x1="115.20" y1="236.04" x2="116.60" y2="236.04" stroke="#000" stroke-width="0.5"/>
<line x1="115.20" y1="235.44" x2="116.60" y2="235.44" stroke="#000" stroke-width="0.5"/>
<line x1="115.20" y1="234.90" x2="116.60" y2="234.90" stroke="#000" stroke-width="0.5"/>
<line x1="114.00" y1="234.42" x2="116.60" y2="234.42" stroke="#000" stroke-width="0.75"/>
<line x1="115.20" y1="231.27" x2="116.60" y2="231.27" stroke="#000" stroke-width="0.5"/>
<line x1="115.20" y1="229.42" x2="116.60" y2="229.42" stroke="#000" stroke-width="0.5"/>
<line x1="115.20" y1="228.11" x2="116.60" y2="228.11" stroke="#000" stroke-width="0.5"/>
<line x1="115.20" y1="227.09" x2="116.60" y2="227.09" stroke="#000" stroke-width="0.5"/>
<line x1="115.20" y1="226.26" x2="116.60" y2="226.26" stroke="#000" stroke-width="0.5"/>
<line x1="115.20" y1="225.56" x2="116.60" y2="225.56" stroke="#000" stroke-width="0.5"/>
<line x1="115.20" y1="224.96" x2="116.60" y2="224.96" stroke="#000" stroke-width="0.5"/>
<line x1="115.20" y1="224.42" x2="116.60" y2="224.42" stroke="#000" stroke-width="0.5"/>
<line x1="114.00" y1="223.94" x2="116.60" y2="223.94" stroke="#000" stroke-width="0.75"/>
<line x1="115.20" y1="220.79" x2="116.60" y2="220.79" stroke="#000" stroke-width="0.5"/>
<line x1="115.20" y1="218.94" x2="116.60" y2="218.94" stroke="#000" stroke-width="0.5"/>
<line x1="115.20" y1="217.63" x2="116.60" y2="217.63" stroke="#000" stroke-width="0.5"/>
<line x1="115.20" y1="216.61" x2="116.60" y2="216.61" stroke="#000" stroke-width="0.5"/>
<line x1="115.20" y1="215.78" x2="116.60" y2="215.78" stroke="#000" stroke-width="0.5"/>
<line x1="115.20" y1="215.08" x2="116.60" y2="215.08" stroke="#000" stroke-width="0.5"/>
<line x1="115.20" y1="214.48" x2="116.60" y2="214.48" stroke="#000" stroke-width="0.5"/>
<line x1="115.20" y1="213.94" x2="116.60" y2="213.94" stroke="#000" stroke-width="0.5"/>
<line x1="114.00" y1="213.46" x2="116.60" y2="213.46" stroke="#000" stroke-width="0.75"/>
<line x1="115.20" y1="210.31" x2="116.60" y2="210.31" stroke="#000" stroke-width="0.5"/>
<line x1="115.20" y1="208.46" x2="116.60" y2="208.46" stroke="#000" stroke-width="0.5"/>
<line x1="115.20" y1="207.15" x2="116.60" y2="207.15" stroke="#000" stroke-width="0.5"/>
<line x1="115.20" y1="206.13" x2="116.60" y2="206.13" stroke="#000" stroke-width="0.5"/>
<line x1="115.20" y1="205.30" x2="116.60" y2="205.30" stroke="#000" stroke-width="0.5"/>
<line x1="115.20" y1="204.60" x2="116.60" y2="204.60" stroke="#000" stroke-width="0.5"/>
<line x1="115.20" y1="204.00" x2="116.60" y2="204.00" stroke="#000" stroke-width="0.5"/>
<line x1="115.20" y1="203.46" x2="116.60" y2="203.46" stroke="#000" stroke-width="0.5"/>
<line x1="114.00" y1="202.98" x2="116.60" y2="202.98" stroke="#000" stroke-width="0.75"/>
<line x1="115.20" y1="199.83" x2="116.60" y2="199.83" stroke="#000" stroke-width="0.5"/>
<line x1="115.20" y1="197.98" x2="116.60" y2="197.98" stroke="#000" stroke-width="0.5"/>
<line x1="115.20" y1="196.67" x2="116.60" y2="196.67" stroke="#000" stroke-width="0.5"/>
<line x1="115.20" y1="195.65" x2="116.60" y2="195.65" stroke="#000" stroke-width="0.5"/>
<line x1="115.20" y1="194.82" x2="116.60" y2="194.82" stroke="#000" stroke-width="0.5"/>
<line x1="115.20" y1="194.12" x2="116.60" y2="194.12" stroke="#000" stroke-width="0.5"/>
<line x1="115.20" y1="193.52" x2="116.60" y2="193.52" stroke="#000" stroke-width="0.5"/>
<line x1="115.20" y1="192.98" x2="116.60" y2="192.98" stroke="#000" stroke-width="0.5"/>
<line x1="114.00" y1="192.50" x2="116.60" y2="192.50" stroke="#000" stroke-width="0.75"/>
<line x1="116.90" y1="245.50" x2="116.90" y2="248.40" stroke="#000" stroke-width="0.75"/>
<line x1="119.01" y1="245.50" x2="119.01" y2="247.00" stroke="#000" stroke-width="0.5"/>
<line x1="121.12" y1="245.50" x2="121.12" y2="247.00" stroke="#000" stroke-width="0.5"/>
<line x1="123.24" y1="245.50" x2="123.24" y2="247.00" stroke="#000" stroke-width="0.5"/>
<line x1="125.35" y1="245.50" x2="125.35" y2="247.00" stroke="#000" stroke-width="0.5"/>
<line x1="127.46" y1="245.50" x2="127.46" y2="248.40" stroke="#000" stroke-width="0.75"/>
<line x1="129.57" y1="245.50" x2="129.57" y2="247.00" stroke="#000" stroke-width="0.5"/>
<line x1="131.68" y1="245.50" x2="131.68" y2="247.00" stroke="#000" stroke-width="0.5"/>
<line x1="133.80" y1="245.50" x2="133.80" y2="247.00" stroke="#000" stroke-width="0.5"/>
<line x1="135.91" y1="245.50" x2="135.91" y2="247.00" stroke="#000" stroke-width="0.5"/>
<line x1="138.02" y1="245.50" x2="138.02" y2="248.40" stroke="#000" stroke-width="0.75"/>
<line x1="140.13" y1="245.50" x2="140.13" y2="247.00" stroke="#000" stroke-width="0.5"/>
<line x1="142.24" y1="245.50" x2="142.24" y2="247.00" stroke="#000" stroke-width="0.5"/>
<line x1="144.36" y1="245.50" x2="144.36" y2="247.00" stroke="#000" stroke-width="0.5"/>
<line x1="146.47" y1="245.50" x2="146.47" y2="247.00" stroke="#000" stroke-width="0.5"/>
<line x1="148.58" y1="245.50" x2="148.58" y2="248.40" stroke="#000" stroke-width="0.75"/>
<line x1="150.69" y1="245.50" x2="150.69" y2="247.00" stroke="#000" stroke-width="0.5"/>
<line x1="152.80" y1="245.50" x2="152.80" y2="247.00" stroke="#000" stroke-width="0.5"/>
<line x1="154.92" y1="245.50" x2="154.92" y2="247.00" stroke="#000" stroke-width="0.5"/>
<line x1="157.03" y1="245.50" x2="157.03" y2="247.00" stroke="#000" stroke-width="0.5"/>
<line x1="159.14" y1="245.50" x2="159.14" y2="248.40" stroke="#000" stroke-width="0.75"/>
<line x1="161.25" y1="245.50" x2="161.25" y2="247.00" stroke="#000" stroke-width="0.5"/>
<line x1="163.36" y1="245.50" x2="163.36" y2="247.00" stroke="#000" stroke-width="0.5"/>
<line x1="165.48" y1="245.50" x2="165.48" y2="247.00" stroke="#000" stroke-width="0.5"/>
<line x1="167.59" y1="245.50" x2="167.59" y2="247.00" stroke="#000" stroke-width="0.5"/>
<line x1="169.70" y1="245.50" x2="169.70" y2="248.40" stroke="#000" stroke-width="0.75"/>
<rect x="185.20" y="189.90" width="56.00" height="55.60" fill="none" stroke="#000" stroke-width="1.25"/>
<line x1="182.60" y1="244.90" x2="185.20" y2="244.90" stroke="#000" stroke-width="0.75"/>
<line x1="183.80" y1="241.75" x2="185.20" y2="241.75" stroke="#000" stroke-width="0.5"/>
<line x1="183.80" y1="239.90" x2="185.20" y2="239.90" stroke="#000" stroke-width="0.5"/>
<line x1="183.80" y1="238.59" x2="185.20" y2="238.59" stroke="#000" stroke-width="0.5"/>
<line x1="183.80" y1="237.57" x2="185.20" y2="237.57" stroke="#000" stroke-width="0.5"/>
<line x1="183.80" y1="236.74" x2="185.20" y2="236.74" stroke="#000" stroke-width="0.5"/>
<line x1="183.80" y1="236.04" x2="185.20" y2="236.04" stroke="#000" stroke-width="0.5"/>
<line x1="183.80" y1="235.44" x2="185.20" y2="235.44" stroke="#000" stroke-width="0.5"/>
<line x1="183.80" y1="234.90" x2="185.20" y2="234.90" stroke="#000" stroke-width="0.5"/>
<line x1="182.60" y1="234.42" x2="185.20" y2="234.42" stroke="#000" stroke-width="0.75"/>
<line x1="183.80" y1="231.27" x2="185.20" y2="231.27" stroke="#000" stroke-width="0.5"/>
<line x1="183.80" y1="229.42" x2="185.20" y2="229.42" stroke="#000" stroke-width="0.5"/>
<line x1="183.80" y1="228.11" x2="185.20" y2="228.11" stroke="#000" stroke-width="0.5"/>
<line x1="183.80" y1="227.09" x2="185.20" y2="227.09" stroke="#000" stroke-width="0.5"/>
<line x1="183.80" y1="226.26" x2="185.20" y2="226.26" stroke="#000" stroke-width="0.5"/>
<line x1="183.80" y1="225.56" x2="185.20" y2="225.56" stroke="#000" stroke-width="0.5"/>
<line x1="183.80" y1="224.96" x2="185.20" y2="224.96" stroke="#000" stroke-width="0.5"/>
<line x1="183.80" y1="224.42" x2="185.20" y2="224.42" stroke="#000" stroke-width="0.5"/>
<line x1="182.60" y1="223.94" x2="185.20" y2="223.94" stroke="#000" stroke-width="0.75"/>
<line x1="183.80" y1="220.79" x2="185.20" y2="220.79" stroke="#000" stroke-width="0.5"/>
<line x1="183.80" y1="218.94" x2="185.20" y2="218.94" stroke="#000" stroke-width="0.5"/>
<line x1="183.80" y1="217.63" x2="185.20" y2="217.63" stroke="#000" stroke-width="0.5"/>
<line x1="183.80" y1="216.61" x2="185.20" y2="216.61" stroke="#000" stroke-width="0.5"/>
<line x1="183.80" y1="215.78" x2="185.20" y2="215.78" stroke="#000" stroke-width="0.5"/>
<line x1="183.80" y1="215.08" x2="185.20" y2="215.08" stroke="#000" stroke-width="0.5"/>
<line x1="183.80" y1="214.48" x2="185.20" y2="214.48" stroke="#000" stroke-width="0.5"/>
<line x1="183.80" y1="213.94" x2="185.20" y2="213.94" stroke="#000" stroke-width="0.5"/>
<line x1="182.60" y1="213.46" x2="185.20" y2="213.46" stroke="#000" stroke-width="0.75"/>
<line x1="183.80" y1="210.31" x2="185.20" y2="210.31" stroke="#000" stroke-width="0.5"/>
<line x1="183.80" y1="208.46" x2="185.20" y2="208.46" stroke="#000" stroke-width="0.5"/>
<line x1="183.80" y1="207.15" x2="185.20" y2="207.15" stroke="#000" stroke-width="0.5"/>
<line x1="183.80" y1="206.13" x2="185.20" y2="206.13" stroke="#000" stroke-width="0.5"/>
<line x1="183.80" y1="205.30" x2="185.20" y2="205.30" stroke="#000" stroke-width="0.5"/>
<line x1="183.80" y1="204.60" x2="185.20" y2="204.60" stroke="#000" stroke-width="0.5"/>
<line x1="183.80" y1="204.00" x2="185.20" y2="204.00" stroke="#000" stroke-width="0.5"/>
<line x1="183.80" y1="203.46" x2="185.20" y2="203.46" stroke="#000" stroke-width="0.5"/>
<line x1="182.60" y1="202.98" x2="185.20" y2="202.98" stroke="#000" stroke-width="0.75"/>
<line x1="183.80" y1="199.83" x2="185.20" y2="199.83" stroke="#000" stroke-width="0.5"/>
<line x1="183.80" y1="197.98" x2="185.20" y2="197.98" stroke="#000" stroke-width="0.5"/>
<line x1="183.80" y1="196.67" x2="185.20" y2="196.67" stroke="#000" stroke-width="0.5"/>
<line x1="183.80" y1="195.65" x2="185.20" y2="195.65" stroke="#000" stroke-width="0.5"/>
<line x1="183.80" y1="194.82" x2="185.20" y2="194.82" stroke="#000" stroke-width="0.5"/>
<line x1="183.80" y1="194.12" x2="185.20" y2="194.12" stroke="#000" stroke-width="0.5"/>
<line x1="183.80" y1="193.52" x2="185.20" y2="193.52" stroke="#000" stroke-width="0.5"/>
<line x1="183.80" y1="192.98" x2="185.20" y2="192.98" stroke="#000" stroke-width="0.5"/>
<line x1="182.60" y1="192.50" x2="185.20" y2="192.50" stroke="#000" stroke-width="0.75"/>
<line x1="185.50" y1="245.50" x2="185.50" y2="248.40" stroke="#000" stroke-width="0.75"/>
<line x1="187.61" y1="245.50" x2="187.61" y2="247.00" stroke="#000" stroke-width="0.5"/>
<line x1="189.72" y1="245.50" x2="189.72" y2="247.00" stroke="#000" stroke-width="0.5"/>
<line x1="191.84" y1="245.50" x2="191.84" y2="247.00" stroke="#000" stroke-width="0.5"/>
<line x1="193.95" y1="245.50" x2="193.95" y2="247.00" stroke="#000" stroke-width="0.5"/>
<line x1="196.06" y1="245.50" x2="196.06" y2="248.40" stroke="#000" stroke-width="0.75"/>
<line x1="198.17" y1="245.50" x2="198.17" y2="247.00" stroke="#000" stroke-width="0.5"/>
<line x1="200.28" y1="245.50" x2="200.28" y2="247.00" stroke="#000" stroke-width="0.5"/>
<line x1="202.40" y1="245.50" x2="202.40" y2="247.00" stroke="#000" stroke-width="0.5"/>
<line x1="204.51" y1="245.50" x2="204.51" y2="247.00" stroke="#000" stroke-width="0.5"/>
<line x1="206.62" y1="245.50" x2="206.62" y2="248.40" stroke="#000" stroke-width="0.75"/>
<line x1="208.73" y1="245.50" x2="208.73" y2="247.00" stroke="#000" stroke-width="0.5"/>
<line x1="210.84" y1="245.50" x2="210.84" y2="247.00" stroke="#000" stroke-width="0.5"/>
<line x1="212.96" y1="245.50" x2="212.96" y2="247.00" stroke="#000" stroke-width="0.5"/>
<line x1="215.07" y1="245.50" x2="215.07" y2="247.00" stroke="#000" stroke-width="0.5"/>
<line x1="217.18" y1="245.50" x2="217.18" y2="248.40" stroke="#000" stroke-width="0.75"/>
<line x1="219.29" y1="245.50" x2="219.29" y2="247.00" stroke="#000" stroke-width="0.5"/>
<line x1="221.40" y1="245.50" x2="221.40" y2="247.00" stroke="#000" stroke-width="0.5"/>
<line x1="223.52" y1="245.50" x2="223.52" y2="247.00" stroke="#000" stroke-width="0.5"/>
<line x1="225.63" y1="245.50" x2="225.63" y2="247.00" stroke="#000" stroke-width="0.5"/>
<line x1="227.74" y1="245.50" x2="227.74" y2="248.40" stroke="#000" stroke-width="0.75"/>
<line x1="229.85" y1="245.50" x2="229.85" y2="247.00" stroke="#000" stroke-width="0.5"/>
<line x1="231.96" y1="245.50" x2="231.96" y2="247.00" stroke="#000" stroke-width="0.5"/>
<line x1="234.08" y1="245.50" x2="234.08" y2="247.00" stroke="#000" stroke-width="0.5"/>
<line x1="236.19" y1="245.50" x2="236.19" y2="247.00" stroke="#000" stroke-width="0.5"/>
<line x1="238.30" y1="245.50" x2="238.30" y2="248.40" stroke="#000" stroke-width="0.75"/>
<rect x="253.30" y="189.90" width="56.00" height="55.60" fill="none" stroke="#000" stroke-width="1.25"/>
<line x1="250.70" y1="244.90" x2="253.30" y2="244.90" stroke="#000" stroke-width="0.75"/>
<line x1="251.90" y1="241.75" x2="253.30" y2="241.75" stroke="#000" stroke-width="0.5"/>
<line x1="251.90" y1="239.90" x2="253.30" y2="239.90" stroke="#000" stroke-width="0.5"/>
<line x1="251.90" y1="238.59" x2="253.30" y2="238.59" stroke="#000" stroke-width="0.5"/>
<line x1="251.90" y1="237.57" x2="253.30" y2="237.57" stroke="#000" stroke-width="0.5"/>
<line x1="251.90" y1="236.74" x2="253.30" y2="236.74" stroke="#000" stroke-width="0.5"/>
<line x1="251.90" y1="236.04" x2="253.30" y2="236.04" stroke="#000" stroke-width="0.5"/>
<line x1="251.90" y1="235.44" x2="253.30" y2="235.44" stroke="#000" stroke-width="0.5"/>
<line x1="251.90" y1="234.90" x2="253.30" y2="234.90" stroke="#000" stroke-width="0.5"/>
<line x1="250.70" y1="234.42" x2="253.30" y2="234.42" stroke="#000" stroke-width="0.75"/>
<line x1="251.90" y1="231.27" x2="253.30" y2="231.27" stroke="#000" stroke-width="0.5"/>
<line x1="251.90" y1="229.42" x2="253.30" y2="229.42" stroke="#000" stroke-width="0.5"/>
<line x1="251.90" y1="228.11" x2="253.30" y2="228.11" stroke="#000" stroke-width="0.5"/>
<line x1="251.90" y1="227.09" x2="253.30" y2="227.09" stroke="#000" stroke-width="0.5"/>
<line x1="251.90" y1="226.26" x2="253.30" y2="226.26" stroke="#000" stroke-width="0.5"/>
<line x1="251.90" y1="225.56" x2="253.30" y2="225.56" stroke="#000" stroke-width="0.5"/>
<line x1="251.90" y1="224.96" x2="253.30" y2="224.96" stroke="#000" stroke-width="0.5"/>
<line x1="251.90" y1="224.42" x2="253.30" y2="224.42" stroke="#000" stroke-width="0.5"/>
<line x1="250.70" y1="223.94" x2="253.30" y2="223.94" stroke="#000" stroke-width="0.75"/>
<line x1="251.90" y1="220.79" x2="253.30" y2="220.79" stroke="#000" stroke-width="0.5"/>
<line x1="251.90" y1="218.94" x2="253.30" y2="218.94" stroke="#000" stroke-width="0.5"/>
<line x1="251.90" y1="217.63" x2="253.30" y2="217.63" stroke="#000" stroke-width="0.5"/>
<line x1="251.90" y1="216.61" x2="253.30" y2="216.61" stroke="#000" stroke-width="0.5"/>
<line x1="251.90" y1="215.78" x2="253.30" y2="215.78" stroke="#000" stroke-width="0.5"/>
<line x1="251.90" y1="215.08" x2="253.30" y2="215.08" stroke="#000" stroke-width="0.5"/>
<line x1="251.90" y1="214.48" x2="253.30" y2="214.48" stroke="#000" stroke-width="0.5"/>
<line x1="251.90" y1="213.94" x2="253.30" y2="213.94" stroke="#000" stroke-width="0.5"/>
<line x1="250.70" y1="213.46" x2="253.30" y2="213.46" stroke="#000" stroke-width="0.75"/>
<line x1="251.90" y1="210.31" x2="253.30" y2="210.31" stroke="#000" stroke-width="0.5"/>
<line x1="251.90" y1="208.46" x2="253.30" y2="208.46" stroke="#000" stroke-width="0.5"/>
<line x1="251.90" y1="207.15" x2="253.30" y2="207.15" stroke="#000" stroke-width="0.5"/>
<line x1="251.90" y1="206.13" x2="253.30" y2="206.13" stroke="#000" stroke-width="0.5"/>
<line x1="251.90" y1="205.30" x2="253.30" y2="205.30" stroke="#000" stroke-width="0.5"/>
<line x1="251.90" y1="204.60" x2="253.30" y2="204.60" stroke="#000" stroke-width="0.5"/>
<line x1="251.90" y1="204.00" x2="253.30" y2="204.00" stroke="#000" stroke-width="0.5"/>
<line x1="251.90" y1="203.46" x2="253.30" y2="203.46" stroke="#000" stroke-width="0.5"/>
<line x1="250.70" y1="202.98" x2="253.30" y2="202.98" stroke="#000" stroke-width="0.75"/>
<line x1="251.90" y1="199.83" x2="253.30" y2="199.83" stroke="#000" stroke-width="0.5"/>
<line x1="251.90" y1="197.98" x2="253.30" y2="197.98" stroke="#000" stroke-width="0.5"/>
<line x1="251.90" y1="196.67" x2="253.30" y2="196.67" stroke="#000" stroke-width="0.5"/>
<line x1="251.90" y1="195.65" x2="253.30" y2="195.65" stroke="#000" stroke-width="0.5"/>
<line x1="251.90" y1="194.82" x2="253.30" y2="194.82" stroke="#000" stroke-width="0.5"/>
<line x1="251.90" y1="194.12" x2="253.30" y2="194.12" stroke="#000" stroke-width="0.5"/>
<line x1="251.90" y1="193.52" x2="253.30" y2="193.52" stroke="#000" stroke-width="0.5"/>
<line x1="251.90" y1="192.98" x2="253.30" y2="192.98" stroke="#000" stroke-width="0.5"/>
<line x1="250.70" y1="192.50" x2="253.30" y2="192.50" stroke="#000" stroke-width="0.75"/>
<line x1="253.60" y1="245.50" x2="253.60" y2="248.40" stroke="#000" stroke-width="0.75"/>
<line x1="255.71" y1="245.50" x2="255.71" y2="247.00" stroke="#000" stroke-width="0.5"/>
<line x1="257.82" y1="245.50" x2="257.82" y2="247.00" stroke="#000" stroke-width="0.5"/>
<line x1="259.94" y1="245.50" x2="259.94" y2="247.00" stroke="#000" stroke-width="0.5"/>
<line x1="262.05" y1="245.50" x2="262.05" y2="247.00" stroke="#000" stroke-width="0.5"/>
<line x1="264.16" y1="245.50" x2="264.16" y2="248.40" stroke="#000" stroke-width="0.75"/>
<line x1="266.27" y1="245.50" x2="266.27" y2="247.00" stroke="#000" stroke-width="0.5"/>
<line x1="268.38" y1="245.50" x2="268.38" y2="247.00" stroke="#000" stroke-width="0.5"/>
<line x1="270.50" y1="245.50" x2="270.50" y2="247.00" stroke="#000" stroke-width="0.5"/>
<line x1="272.61" y1="245.50" x2="272.61" y2="247.00" stroke="#000" stroke-width="0.5"/>
<line x1="274.72" y1="245.50" x2="274.72" y2="248.40" stroke="#000" stroke-width="0.75"/>
<line x1="276.83" y1="245.50" x2="276.83" y2="247.00" stroke="#000" stroke-width="0.5"/>
<line x1="278.94" y1="245.50" x2="278.94" y2="247.00" stroke="#000" stroke-width="0.5"/>
<line x1="281.06" y1="245.50" x2="281.06" y2="247.00" stroke="#000" stroke-width="0.5"/>
<line x1="283.17" y1="245.50" x2="283.17" y2="247.00" stroke="#000" stroke-width="0.5"/>
<line x1="285.28" y1="245.50" x2="285.28" y2="248.40" stroke="#000" stroke-width="0.75"/>
<line x1="287.39" y1="245.50" x2="287.39" y2="247.00" stroke="#000" stroke-width="0.5"/>
<line x1="289.50" y1="245.50" x2="289.50" y2="247.00" stroke="#000" stroke-width="0.5"/>
<line x1="291.62" y1="245.50" x2="291.62" y2="247.00" stroke="#000" stroke-width="0.5"/>
<line x1="293.73" y1="245.50" x2="293.73" y2="247.00" stroke="#000" stroke-width="0.5"/>
<line x1="295.84" y1="245.50" x2="295.84" y2="248.40" stroke="#000" stroke-width="0.75"/>
<line x1="297.95" y1="245.50" x2="297.95" y2="247.00" stroke="#000" stroke-width="0.5"/>
<line x1="300.06" y1="245.50" x2="300.06" y2="247.00" stroke="#000" stroke-width="0.5"/>
<line x1="302.18" y1="245.50" x2="302.18" y2="247.00" stroke="#000" stroke-width="0.5"/>
<line x1="304.29" y1="245.50" x2="304.29" y2="247.00" stroke="#000" stroke-width="0.5"/>
<line x1="306.40" y1="245.50" x2="306.40" y2="248.40" stroke="#000" stroke-width="0.75"/>
<text x="90.90" y="209.75" font-size="6.80" fill="#c42a4f" text-anchor="end" font-weight="bold" textLength="6.81" lengthAdjust="spacingAndGlyphs">67</text>
<text x="72.00" y="227.55" font-size="6.80" fill="#c42a4f" text-anchor="end" font-weight="bold" textLength="6.81" lengthAdjust="spacingAndGlyphs">29</text>
<text x="88.90" y="227.55" font-size="6.80" fill="#c42a4f" text-anchor="end" font-weight="bold" textLength="3.4" lengthAdjust="spacingAndGlyphs">2</text>
<text x="53.20" y="238.75" font-size="6.80" fill="#c42a4f" font-weight="bold" textLength="3.4" lengthAdjust="spacingAndGlyphs">0</text>
<text x="159.00" y="209.65" font-size="6.80" fill="#c42a4f" text-anchor="end" font-weight="bold" textLength="6.81" lengthAdjust="spacingAndGlyphs">78</text>
<text x="140.30" y="227.35" font-size="6.80" fill="#c42a4f" text-anchor="end" font-weight="bold" textLength="6.81" lengthAdjust="spacingAndGlyphs">19</text>
<text x="156.60" y="227.35" font-size="6.80" fill="#c42a4f" text-anchor="end" font-weight="bold" textLength="3.4" lengthAdjust="spacingAndGlyphs">1</text>
<text x="121.60" y="238.55" font-size="6.80" fill="#c42a4f" font-weight="bold" textLength="3.4" lengthAdjust="spacingAndGlyphs">1</text>
<text x="227.00" y="209.65" font-size="6.80" fill="#c42a4f" text-anchor="end" font-weight="bold" textLength="6.81" lengthAdjust="spacingAndGlyphs">14</text>
<text x="208.60" y="227.35" font-size="6.80" fill="#c42a4f" text-anchor="end" font-weight="bold" textLength="6.81" lengthAdjust="spacingAndGlyphs">60</text>
<text x="224.60" y="227.35" font-size="6.80" fill="#c42a4f" text-anchor="end" font-weight="bold" textLength="3.4" lengthAdjust="spacingAndGlyphs">4</text>
<text x="189.50" y="238.55" font-size="6.80" fill="#c42a4f" font-weight="bold" textLength="3.4" lengthAdjust="spacingAndGlyphs">0</text>
<text x="296.00" y="209.65" font-size="6.80" fill="#c42a4f" text-anchor="end" font-weight="bold" textLength="6.81" lengthAdjust="spacingAndGlyphs">12</text>
<text x="277.00" y="227.35" font-size="6.80" fill="#c42a4f" text-anchor="end" font-weight="bold" textLength="6.81" lengthAdjust="spacingAndGlyphs">76</text>
<text x="296.00" y="227.35" font-size="6.80" fill="#c42a4f" text-anchor="end" font-weight="bold" textLength="6.81" lengthAdjust="spacingAndGlyphs">10</text>
<text x="258.00" y="238.55" font-size="6.80" fill="#c42a4f" font-weight="bold" textLength="3.4" lengthAdjust="spacingAndGlyphs">0</text>
<circle cx="90.4" cy="202.0" r="1.15" fill="#1f3a78"/>
<line x1="91.40" y1="202.00" x2="93.20" y2="202.00" stroke="#3f5c97" stroke-width="0.6"/>
<text x="94.00" y="204.28" font-size="6.60" fill="#3f5c97" stroke="#3f5c97" stroke-width="0.1">S</text>
<circle cx="64.7" cy="228.1" r="1.15" fill="#1f3a78"/>
<circle cx="90.6" cy="227.8" r="1.15" fill="#1f3a78"/>
<circle cx="50.3" cy="240.0" r="1.15" fill="#1f3a78"/>
<text x="61.30" y="237.72" font-size="7.00" fill="#3f5c97" stroke="#3f5c97" stroke-width="0.1">G<tspan dy="1.7" font-size="4.3">0</tspan><tspan dy="-1.7">/G</tspan><tspan dy="1.7" font-size="4.3">1</tspan></text>
<text x="86.50" y="237.72" font-size="7.00" fill="#3f5c97" stroke="#3f5c97" stroke-width="0.1">G<tspan dy="1.7" font-size="4.3">2</tspan><tspan dy="-1.7">/M</tspan></text>
<text x="51.60" y="243.22" font-size="7.00" fill="#3f5c97" stroke="#3f5c97" stroke-width="0.1">sub-G<tspan dy="1.7" font-size="4.3">1</tspan></text>
<rect x="56.6" y="267.8" width="17.8" height="13.0" rx="4.5" fill="url(#lgr)" stroke="#aaa" stroke-width="0.4"/>
<path d="M58,270 C60,268.5 66,268.3 71,268.8 C74,269.5 74.5,273 73.6,276 C72.5,279.5 67,280 62,279.6 C58.5,279.3 57.2,276 57.4,273 Z" fill="none" stroke="#777" stroke-width="0.350" transform="translate(62,273) scale(1.000) translate(-62,-273)"/>
<path d="M58,270 C60,268.5 66,268.3 71,268.8 C74,269.5 74.5,273 73.6,276 C72.5,279.5 67,280 62,279.6 C58.5,279.3 57.2,276 57.4,273 Z" fill="none" stroke="#777" stroke-width="0.412" transform="translate(62,273) scale(0.850) translate(-62,-273)"/>
<path d="M58,270 C60,268.5 66,268.3 71,268.8 C74,269.5 74.5,273 73.6,276 C72.5,279.5 67,280 62,279.6 C58.5,279.3 57.2,276 57.4,273 Z" fill="none" stroke="#777" stroke-width="0.500" transform="translate(62,273) scale(0.700) translate(-62,-273)"/>
<path d="M58,270 C60,268.5 66,268.3 71,268.8 C74,269.5 74.5,273 73.6,276 C72.5,279.5 67,280 62,279.6 C58.5,279.3 57.2,276 57.4,273 Z" fill="none" stroke="#777" stroke-width="0.636" transform="translate(62,273) scale(0.550) translate(-62,-273)"/>
<ellipse cx="61.9" cy="272.4" rx="5.0" ry="3.3" fill="#6a6a6a" stroke="#111" stroke-width="1.5"/>
<ellipse cx="63.2" cy="272.7" rx="3.6" ry="0.75" fill="#eaeaea"/>
<path d="M124.3,272 C124,267.5 127,266.3 132,266.4 C138,266.5 144,267 146,270 C147,273 146.5,278.5 144,280.5 C140,282 132,281.8 127.5,281 C125,280 124.5,276 124.3,272 Z" fill="#cfcfcf" stroke="#aaa" stroke-width="0.4"/>
<ellipse cx="128.7" cy="273.0" rx="3.4" ry="6.0" fill="#8a8a8a" stroke="#111" stroke-width="1.6" transform="rotate(32 128.7 273)"/>
<ellipse cx="128.9" cy="273.0" rx="1.2" ry="3.4" fill="#e0e0e0" transform="rotate(32 128.9 273)"/>
<path d="M133,273.2 C136,272.4 139,272.2 141,272.6" fill="none" stroke="#f4f4f4" stroke-width="1.0"/>
<ellipse cx="127.20" cy="293.80" rx="2.60" ry="2.40" fill="none" stroke="#999" stroke-width="0.5" transform="rotate(0 127.20 293.80)"/>
<ellipse cx="127.20" cy="293.80" rx="1.43" ry="1.32" fill="none" stroke="#999" stroke-width="0.5" transform="rotate(0 127.20 293.80)"/>
<ellipse cx="207.50" cy="290.90" rx="11.00" ry="7.20" fill="none" stroke="#2e2e2e" stroke-width="0.4" transform="rotate(0 207.50 290.90)"/>
<ellipse cx="207.15" cy="290.89" rx="9.90" ry="6.48" fill="none" stroke="#2e2e2e" stroke-width="0.4" transform="rotate(0 207.15 290.89)"/>
<ellipse cx="206.80" cy="290.88" rx="8.80" ry="5.76" fill="none" stroke="#2e2e2e" stroke-width="0.4" transform="rotate(0 206.80 290.88)"/>
<ellipse cx="206.45" cy="290.87" rx="7.70" ry="5.04" fill="none" stroke="#2e2e2e" stroke-width="0.4" transform="rotate(0 206.45 290.87)"/>
<ellipse cx="206.10" cy="290.86" rx="6.60" ry="4.32" fill="none" stroke="#2e2e2e" stroke-width="0.4" transform="rotate(0 206.10 290.86)"/>
<ellipse cx="205.75" cy="290.85" rx="5.50" ry="3.60" fill="none" stroke="#2e2e2e" stroke-width="0.4" transform="rotate(0 205.75 290.85)"/>
<ellipse cx="205.40" cy="290.84" rx="4.40" ry="2.88" fill="none" stroke="#2e2e2e" stroke-width="0.4" transform="rotate(0 205.40 290.84)"/>
<ellipse cx="205.05" cy="290.83" rx="3.30" ry="2.16" fill="none" stroke="#2e2e2e" stroke-width="0.4" transform="rotate(0 205.05 290.83)"/>
<ellipse cx="204.70" cy="290.82" rx="2.20" ry="1.44" fill="none" stroke="#2e2e2e" stroke-width="0.4" transform="rotate(0 204.70 290.82)"/>
<ellipse cx="204.35" cy="290.81" rx="1.10" ry="0.72" fill="none" stroke="#2e2e2e" stroke-width="0.4" transform="rotate(0 204.35 290.81)"/>
<ellipse cx="204.00" cy="290.80" rx="4.60" ry="3.60" fill="url(#gk)" opacity="1" transform="rotate(0 204.00 290.80)"/>
<circle cx="203.8" cy="290.7" r="0.7" fill="#eee"/>
<ellipse cx="222.00" cy="289.60" rx="4.50" ry="1.60" fill="none" stroke="#777" stroke-width="0.4" transform="rotate(0 222.00 289.60)"/>
<ellipse cx="222.00" cy="289.60" rx="2.25" ry="0.80" fill="none" stroke="#777" stroke-width="0.4" transform="rotate(0 222.00 289.60)"/>
<ellipse cx="190.40" cy="287.00" rx="3.60" ry="6.20" fill="none" stroke="#666" stroke-width="0.4" transform="rotate(30 190.40 287.00)"/>
<ellipse cx="190.40" cy="287.00" rx="2.76" ry="4.75" fill="none" stroke="#666" stroke-width="0.4" transform="rotate(30 190.40 287.00)"/>
<ellipse cx="190.40" cy="287.00" rx="1.92" ry="3.31" fill="none" stroke="#666" stroke-width="0.4" transform="rotate(30 190.40 287.00)"/>
<ellipse cx="190.40" cy="287.00" rx="1.08" ry="1.86" fill="none" stroke="#666" stroke-width="0.4" transform="rotate(30 190.40 287.00)"/>
<path d="M205.2,283 C203,278 201.5,272 203.5,267.5 C205.5,264.5 211,264.5 213.5,267.5 C216,268.5 219,268.5 222.5,269.2 C223.5,270.5 221,271.8 217.5,271.6 C215.5,272 214.5,273.5 213.5,276 C212.5,279 212,281.5 211.6,283 Z" fill="none" stroke="#666" stroke-width="0.420" transform="translate(209,271) scale(1.000) translate(-209,-271)"/>
<path d="M205.2,283 C203,278 201.5,272 203.5,267.5 C205.5,264.5 211,264.5 213.5,267.5 C216,268.5 219,268.5 222.5,269.2 C223.5,270.5 221,271.8 217.5,271.6 C215.5,272 214.5,273.5 213.5,276 C212.5,279 212,281.5 211.6,283 Z" fill="none" stroke="#666" stroke-width="0.488" transform="translate(209,271) scale(0.860) translate(-209,-271)"/>
<path d="M205.2,283 C203,278 201.5,272 203.5,267.5 C205.5,264.5 211,264.5 213.5,267.5 C216,268.5 219,268.5 222.5,269.2 C223.5,270.5 221,271.8 217.5,271.6 C215.5,272 214.5,273.5 213.5,276 C212.5,279 212,281.5 211.6,283 Z" fill="none" stroke="#666" stroke-width="0.583" transform="translate(209,271) scale(0.720) translate(-209,-271)"/>
<ellipse cx="207.80" cy="269.80" rx="2.60" ry="2.40" fill="none" stroke="#666" stroke-width="0.4" transform="rotate(0 207.80 269.80)"/>
<ellipse cx="207.80" cy="269.80" rx="1.43" ry="1.32" fill="none" stroke="#666" stroke-width="0.4" transform="rotate(0 207.80 269.80)"/>
<ellipse cx="276.30" cy="291.50" rx="11.50" ry="7.20" fill="none" stroke="#2e2e2e" stroke-width="0.4" transform="rotate(0 276.30 291.50)"/>
<ellipse cx="275.93" cy="291.47" rx="10.35" ry="6.48" fill="none" stroke="#2e2e2e" stroke-width="0.4" transform="rotate(0 275.93 291.47)"/>
<ellipse cx="275.56" cy="291.44" rx="9.20" ry="5.76" fill="none" stroke="#2e2e2e" stroke-width="0.4" transform="rotate(0 275.56 291.44)"/>
<ellipse cx="275.19" cy="291.41" rx="8.05" ry="5.04" fill="none" stroke="#2e2e2e" stroke-width="0.4" transform="rotate(0 275.19 291.41)"/>
<ellipse cx="274.82" cy="291.38" rx="6.90" ry="4.32" fill="none" stroke="#2e2e2e" stroke-width="0.4" transform="rotate(0 274.82 291.38)"/>
<ellipse cx="274.45" cy="291.35" rx="5.75" ry="3.60" fill="none" stroke="#2e2e2e" stroke-width="0.4" transform="rotate(0 274.45 291.35)"/>
<ellipse cx="274.08" cy="291.32" rx="4.60" ry="2.88" fill="none" stroke="#2e2e2e" stroke-width="0.4" transform="rotate(0 274.08 291.32)"/>
<ellipse cx="273.71" cy="291.29" rx="3.45" ry="2.16" fill="none" stroke="#2e2e2e" stroke-width="0.4" transform="rotate(0 273.71 291.29)"/>
<ellipse cx="273.34" cy="291.26" rx="2.30" ry="1.44" fill="none" stroke="#2e2e2e" stroke-width="0.4" transform="rotate(0 273.34 291.26)"/>
<ellipse cx="272.97" cy="291.23" rx="1.15" ry="0.72" fill="none" stroke="#2e2e2e" stroke-width="0.4" transform="rotate(0 272.97 291.23)"/>
<ellipse cx="272.60" cy="291.20" rx="4.60" ry="3.60" fill="url(#gk)" opacity="1" transform="rotate(0 272.60 291.20)"/>
<circle cx="272.4" cy="291.1" r="0.7" fill="#eee"/>
<ellipse cx="290.80" cy="289.80" rx="4.50" ry="1.60" fill="none" stroke="#777" stroke-width="0.4" transform="rotate(0 290.80 289.80)"/>
<ellipse cx="290.80" cy="289.80" rx="2.25" ry="0.80" fill="none" stroke="#777" stroke-width="0.4" transform="rotate(0 290.80 289.80)"/>
<ellipse cx="258.60" cy="287.00" rx="3.60" ry="6.20" fill="none" stroke="#666" stroke-width="0.4" transform="rotate(30 258.60 287.00)"/>
<ellipse cx="258.60" cy="287.00" rx="2.76" ry="4.75" fill="none" stroke="#666" stroke-width="0.4" transform="rotate(30 258.60 287.00)"/>
<ellipse cx="258.60" cy="287.00" rx="1.92" ry="3.31" fill="none" stroke="#666" stroke-width="0.4" transform="rotate(30 258.60 287.00)"/>
<ellipse cx="258.60" cy="287.00" rx="1.08" ry="1.86" fill="none" stroke="#666" stroke-width="0.4" transform="rotate(30 258.60 287.00)"/>
<path d="M273.5,283 C271.5,278 270,272 272,267.5 C274,264.5 279.5,264.5 282,267.5 C285,268.5 290,268.2 296,269.2 C297,270.5 294.5,271.8 289,271.6 C285.5,272 283.5,273.5 282.5,276 C281.5,279 281,281.5 280.6,283 Z" fill="none" stroke="#666" stroke-width="0.420" transform="translate(278,271) scale(1.000) translate(-278,-271)"/>
<path d="M273.5,283 C271.5,278 270,272 272,267.5 C274,264.5 279.5,264.5 282,267.5 C285,268.5 290,268.2 296,269.2 C297,270.5 294.5,271.8 289,271.6 C285.5,272 283.5,273.5 282.5,276 C281.5,279 281,281.5 280.6,283 Z" fill="none" stroke="#666" stroke-width="0.488" transform="translate(278,271) scale(0.860) translate(-278,-271)"/>
<path d="M273.5,283 C271.5,278 270,272 272,267.5 C274,264.5 279.5,264.5 282,267.5 C285,268.5 290,268.2 296,269.2 C297,270.5 294.5,271.8 289,271.6 C285.5,272 283.5,273.5 282.5,276 C281.5,279 281,281.5 280.6,283 Z" fill="none" stroke="#666" stroke-width="0.583" transform="translate(278,271) scale(0.720) translate(-278,-271)"/>
<ellipse cx="276.40" cy="270.20" rx="2.60" ry="2.40" fill="none" stroke="#666" stroke-width="0.4" transform="rotate(0 276.40 270.20)"/>
<ellipse cx="276.40" cy="270.20" rx="1.43" ry="1.32" fill="none" stroke="#666" stroke-width="0.4" transform="rotate(0 276.40 270.20)"/>
<rect x="49.40" y="271.10" width="4.90" height="42.90" fill="none" stroke="#6d85bb" stroke-width="0.9" rx="0.8"/>
<rect x="55.50" y="265.60" width="24.70" height="16.40" fill="none" stroke="#6d85bb" stroke-width="0.9" rx="0.8"/>
<rect x="55.50" y="284.30" width="7.80" height="15.00" fill="none" stroke="#6d85bb" stroke-width="0.9" rx="0.8"/>
<rect x="65.00" y="284.30" width="15.20" height="15.00" fill="none" stroke="#6d85bb" stroke-width="0.9" rx="0.8"/>
<rect x="118.30" y="271.10" width="4.20" height="43.30" fill="none" stroke="#6d85bb" stroke-width="0.9" rx="0.8"/>
<rect x="123.50" y="265.60" width="24.90" height="16.80" fill="none" stroke="#6d85bb" stroke-width="0.9" rx="0.8"/>
<rect x="123.50" y="284.60" width="8.10" height="15.10" fill="none" stroke="#6d85bb" stroke-width="0.9" rx="0.8"/>
<rect x="133.40" y="284.60" width="15.00" height="15.10" fill="none" stroke="#6d85bb" stroke-width="0.9" rx="0.8"/>
<rect x="186.00" y="270.40" width="8.70" height="44.00" fill="none" stroke="#6d85bb" stroke-width="0.9" rx="0.8"/>
<rect x="196.40" y="263.50" width="43.30" height="16.30" fill="none" stroke="#6d85bb" stroke-width="0.9" rx="0.8"/>
<rect x="196.40" y="281.50" width="22.50" height="17.30" fill="none" stroke="#6d85bb" stroke-width="0.9" rx="0.8"/>
<rect x="219.80" y="281.50" width="19.90" height="17.30" fill="none" stroke="#6d85bb" stroke-width="0.9" rx="0.8"/>
<rect x="254.00" y="270.80" width="9.20" height="43.60" fill="none" stroke="#6d85bb" stroke-width="0.9" rx="0.8"/>
<rect x="264.40" y="263.50" width="43.30" height="16.80" fill="none" stroke="#6d85bb" stroke-width="0.9" rx="0.8"/>
<rect x="264.40" y="281.50" width="22.50" height="17.00" fill="none" stroke="#6d85bb" stroke-width="0.9" rx="0.8"/>
<rect x="287.90" y="281.50" width="19.80" height="17.00" fill="none" stroke="#6d85bb" stroke-width="0.9" rx="0.8"/>
<rect x="48.00" y="261.60" width="56.50" height="55.30" fill="none" stroke="#000" stroke-width="1.25"/>
<line x1="45.40" y1="316.30" x2="48.00" y2="316.30" stroke="#000" stroke-width="0.75"/>
<line x1="46.60" y1="313.16" x2="48.00" y2="313.16" stroke="#000" stroke-width="0.5"/>
<line x1="46.60" y1="311.33" x2="48.00" y2="311.33" stroke="#000" stroke-width="0.5"/>
<line x1="46.60" y1="310.03" x2="48.00" y2="310.03" stroke="#000" stroke-width="0.5"/>
<line x1="46.60" y1="309.02" x2="48.00" y2="309.02" stroke="#000" stroke-width="0.5"/>
<line x1="46.60" y1="308.19" x2="48.00" y2="308.19" stroke="#000" stroke-width="0.5"/>
<line x1="46.60" y1="307.49" x2="48.00" y2="307.49" stroke="#000" stroke-width="0.5"/>
<line x1="46.60" y1="306.89" x2="48.00" y2="306.89" stroke="#000" stroke-width="0.5"/>
<line x1="46.60" y1="306.36" x2="48.00" y2="306.36" stroke="#000" stroke-width="0.5"/>
<text x="39.30" y="318.81" font-size="6.40" fill="#231f20" text-anchor="end" stroke="#231f20" stroke-width="0.1">10</text>
<text x="39.40" y="315.41" font-size="4.10" fill="#231f20" stroke="#231f20" stroke-width="0.1">0</text>
<line x1="45.40" y1="305.88" x2="48.00" y2="305.88" stroke="#000" stroke-width="0.75"/>
<line x1="46.60" y1="302.74" x2="48.00" y2="302.74" stroke="#000" stroke-width="0.5"/>
<line x1="46.60" y1="300.91" x2="48.00" y2="300.91" stroke="#000" stroke-width="0.5"/>
<line x1="46.60" y1="299.61" x2="48.00" y2="299.61" stroke="#000" stroke-width="0.5"/>
<line x1="46.60" y1="298.60" x2="48.00" y2="298.60" stroke="#000" stroke-width="0.5"/>
<line x1="46.60" y1="297.77" x2="48.00" y2="297.77" stroke="#000" stroke-width="0.5"/>
<line x1="46.60" y1="297.07" x2="48.00" y2="297.07" stroke="#000" stroke-width="0.5"/>
<line x1="46.60" y1="296.47" x2="48.00" y2="296.47" stroke="#000" stroke-width="0.5"/>
<line x1="46.60" y1="295.94" x2="48.00" y2="295.94" stroke="#000" stroke-width="0.5"/>
<text x="39.30" y="308.39" font-size="6.40" fill="#231f20" text-anchor="end" stroke="#231f20" stroke-width="0.1">10</text>
<text x="39.40" y="304.99" font-size="4.10" fill="#231f20" stroke="#231f20" stroke-width="0.1">1</text>
<line x1="45.40" y1="295.46" x2="48.00" y2="295.46" stroke="#000" stroke-width="0.75"/>
<line x1="46.60" y1="292.32" x2="48.00" y2="292.32" stroke="#000" stroke-width="0.5"/>
<line x1="46.60" y1="290.49" x2="48.00" y2="290.49" stroke="#000" stroke-width="0.5"/>
<line x1="46.60" y1="289.19" x2="48.00" y2="289.19" stroke="#000" stroke-width="0.5"/>
<line x1="46.60" y1="288.18" x2="48.00" y2="288.18" stroke="#000" stroke-width="0.5"/>
<line x1="46.60" y1="287.35" x2="48.00" y2="287.35" stroke="#000" stroke-width="0.5"/>
<line x1="46.60" y1="286.65" x2="48.00" y2="286.65" stroke="#000" stroke-width="0.5"/>
<line x1="46.60" y1="286.05" x2="48.00" y2="286.05" stroke="#000" stroke-width="0.5"/>
<line x1="46.60" y1="285.52" x2="48.00" y2="285.52" stroke="#000" stroke-width="0.5"/>
<text x="39.30" y="297.97" font-size="6.40" fill="#231f20" text-anchor="end" stroke="#231f20" stroke-width="0.1">10</text>
<text x="39.40" y="294.57" font-size="4.10" fill="#231f20" stroke="#231f20" stroke-width="0.1">2</text>
<line x1="45.40" y1="285.04" x2="48.00" y2="285.04" stroke="#000" stroke-width="0.75"/>
<line x1="46.60" y1="281.90" x2="48.00" y2="281.90" stroke="#000" stroke-width="0.5"/>
<line x1="46.60" y1="280.07" x2="48.00" y2="280.07" stroke="#000" stroke-width="0.5"/>
<line x1="46.60" y1="278.77" x2="48.00" y2="278.77" stroke="#000" stroke-width="0.5"/>
<line x1="46.60" y1="277.76" x2="48.00" y2="277.76" stroke="#000" stroke-width="0.5"/>
<line x1="46.60" y1="276.93" x2="48.00" y2="276.93" stroke="#000" stroke-width="0.5"/>
<line x1="46.60" y1="276.23" x2="48.00" y2="276.23" stroke="#000" stroke-width="0.5"/>
<line x1="46.60" y1="275.63" x2="48.00" y2="275.63" stroke="#000" stroke-width="0.5"/>
<line x1="46.60" y1="275.10" x2="48.00" y2="275.10" stroke="#000" stroke-width="0.5"/>
<text x="39.30" y="287.55" font-size="6.40" fill="#231f20" text-anchor="end" stroke="#231f20" stroke-width="0.1">10</text>
<text x="39.40" y="284.15" font-size="4.10" fill="#231f20" stroke="#231f20" stroke-width="0.1">3</text>
<line x1="45.40" y1="274.62" x2="48.00" y2="274.62" stroke="#000" stroke-width="0.75"/>
<line x1="46.60" y1="271.48" x2="48.00" y2="271.48" stroke="#000" stroke-width="0.5"/>
<line x1="46.60" y1="269.65" x2="48.00" y2="269.65" stroke="#000" stroke-width="0.5"/>
<line x1="46.60" y1="268.35" x2="48.00" y2="268.35" stroke="#000" stroke-width="0.5"/>
<line x1="46.60" y1="267.34" x2="48.00" y2="267.34" stroke="#000" stroke-width="0.5"/>
<line x1="46.60" y1="266.51" x2="48.00" y2="266.51" stroke="#000" stroke-width="0.5"/>
<line x1="46.60" y1="265.81" x2="48.00" y2="265.81" stroke="#000" stroke-width="0.5"/>
<line x1="46.60" y1="265.21" x2="48.00" y2="265.21" stroke="#000" stroke-width="0.5"/>
<line x1="46.60" y1="264.68" x2="48.00" y2="264.68" stroke="#000" stroke-width="0.5"/>
<text x="39.30" y="277.13" font-size="6.40" fill="#231f20" text-anchor="end" stroke="#231f20" stroke-width="0.1">10</text>
<text x="39.40" y="273.73" font-size="4.10" fill="#231f20" stroke="#231f20" stroke-width="0.1">4</text>
<line x1="45.40" y1="264.20" x2="48.00" y2="264.20" stroke="#000" stroke-width="0.75"/>
<text x="39.30" y="266.71" font-size="6.40" fill="#231f20" text-anchor="end" stroke="#231f20" stroke-width="0.1">10</text>
<text x="39.40" y="263.31" font-size="4.10" fill="#231f20" stroke="#231f20" stroke-width="0.1">5</text>
<line x1="48.30" y1="316.90" x2="48.30" y2="319.80" stroke="#000" stroke-width="0.75"/>
<line x1="50.43" y1="316.90" x2="50.43" y2="318.40" stroke="#000" stroke-width="0.5"/>
<line x1="52.56" y1="316.90" x2="52.56" y2="318.40" stroke="#000" stroke-width="0.5"/>
<line x1="54.70" y1="316.90" x2="54.70" y2="318.40" stroke="#000" stroke-width="0.5"/>
<line x1="56.83" y1="316.90" x2="56.83" y2="318.40" stroke="#000" stroke-width="0.5"/>
<text transform="translate(51.90,327.30) rotate(-45)" x="0" y="0" font-size="6.5" text-anchor="end" fill="#231f20" stroke="#231f20" stroke-width="0.1">0</text>
<line x1="58.96" y1="316.90" x2="58.96" y2="319.80" stroke="#000" stroke-width="0.75"/>
<line x1="61.09" y1="316.90" x2="61.09" y2="318.40" stroke="#000" stroke-width="0.5"/>
<line x1="63.22" y1="316.90" x2="63.22" y2="318.40" stroke="#000" stroke-width="0.5"/>
<line x1="65.36" y1="316.90" x2="65.36" y2="318.40" stroke="#000" stroke-width="0.5"/>
<line x1="67.49" y1="316.90" x2="67.49" y2="318.40" stroke="#000" stroke-width="0.5"/>
<text transform="translate(62.56,327.30) rotate(-45)" x="0" y="0" font-size="6.5" text-anchor="end" fill="#231f20" stroke="#231f20" stroke-width="0.1">50</text>
<line x1="69.62" y1="316.90" x2="69.62" y2="319.80" stroke="#000" stroke-width="0.75"/>
<line x1="71.75" y1="316.90" x2="71.75" y2="318.40" stroke="#000" stroke-width="0.5"/>
<line x1="73.88" y1="316.90" x2="73.88" y2="318.40" stroke="#000" stroke-width="0.5"/>
<line x1="76.02" y1="316.90" x2="76.02" y2="318.40" stroke="#000" stroke-width="0.5"/>
<line x1="78.15" y1="316.90" x2="78.15" y2="318.40" stroke="#000" stroke-width="0.5"/>
<text transform="translate(73.22,327.30) rotate(-45)" x="0" y="0" font-size="6.5" text-anchor="end" fill="#231f20" stroke="#231f20" stroke-width="0.1">100</text>
<line x1="80.28" y1="316.90" x2="80.28" y2="319.80" stroke="#000" stroke-width="0.75"/>
<line x1="82.41" y1="316.90" x2="82.41" y2="318.40" stroke="#000" stroke-width="0.5"/>
<line x1="84.54" y1="316.90" x2="84.54" y2="318.40" stroke="#000" stroke-width="0.5"/>
<line x1="86.68" y1="316.90" x2="86.68" y2="318.40" stroke="#000" stroke-width="0.5"/>
<line x1="88.81" y1="316.90" x2="88.81" y2="318.40" stroke="#000" stroke-width="0.5"/>
<text transform="translate(83.88,327.30) rotate(-45)" x="0" y="0" font-size="6.5" text-anchor="end" fill="#231f20" stroke="#231f20" stroke-width="0.1">150</text>
<line x1="90.94" y1="316.90" x2="90.94" y2="319.80" stroke="#000" stroke-width="0.75"/>
<line x1="93.07" y1="316.90" x2="93.07" y2="318.40" stroke="#000" stroke-width="0.5"/>
<line x1="95.20" y1="316.90" x2="95.20" y2="318.40" stroke="#000" stroke-width="0.5"/>
<line x1="97.34" y1="316.90" x2="97.34" y2="318.40" stroke="#000" stroke-width="0.5"/>
<line x1="99.47" y1="316.90" x2="99.47" y2="318.40" stroke="#000" stroke-width="0.5"/>
<text transform="translate(94.54,327.30) rotate(-45)" x="0" y="0" font-size="6.5" text-anchor="end" fill="#231f20" stroke="#231f20" stroke-width="0.1">200</text>
<line x1="101.60" y1="316.90" x2="101.60" y2="319.80" stroke="#000" stroke-width="0.75"/>
<text transform="translate(105.20,327.30) rotate(-45)" x="0" y="0" font-size="6.5" text-anchor="end" fill="#231f20" stroke="#231f20" stroke-width="0.1">250</text>
<text x="106.70" y="342.24" font-size="6.20" fill="#231f20" text-anchor="end" stroke="#231f20" stroke-width="0.1">(x10<tspan dy="-2.4" font-size="4.0">3</tspan><tspan dy="2.4">)</tspan></text>
<rect x="116.90" y="261.60" width="56.50" height="55.30" fill="none" stroke="#000" stroke-width="1.25"/>
<line x1="114.30" y1="316.30" x2="116.90" y2="316.30" stroke="#000" stroke-width="0.75"/>
<line x1="115.50" y1="313.16" x2="116.90" y2="313.16" stroke="#000" stroke-width="0.5"/>
<line x1="115.50" y1="311.33" x2="116.90" y2="311.33" stroke="#000" stroke-width="0.5"/>
<line x1="115.50" y1="310.03" x2="116.90" y2="310.03" stroke="#000" stroke-width="0.5"/>
<line x1="115.50" y1="309.02" x2="116.90" y2="309.02" stroke="#000" stroke-width="0.5"/>
<line x1="115.50" y1="308.19" x2="116.90" y2="308.19" stroke="#000" stroke-width="0.5"/>
<line x1="115.50" y1="307.49" x2="116.90" y2="307.49" stroke="#000" stroke-width="0.5"/>
<line x1="115.50" y1="306.89" x2="116.90" y2="306.89" stroke="#000" stroke-width="0.5"/>
<line x1="115.50" y1="306.36" x2="116.90" y2="306.36" stroke="#000" stroke-width="0.5"/>
<line x1="114.30" y1="305.88" x2="116.90" y2="305.88" stroke="#000" stroke-width="0.75"/>
<line x1="115.50" y1="302.74" x2="116.90" y2="302.74" stroke="#000" stroke-width="0.5"/>
<line x1="115.50" y1="300.91" x2="116.90" y2="300.91" stroke="#000" stroke-width="0.5"/>
<line x1="115.50" y1="299.61" x2="116.90" y2="299.61" stroke="#000" stroke-width="0.5"/>
<line x1="115.50" y1="298.60" x2="116.90" y2="298.60" stroke="#000" stroke-width="0.5"/>
<line x1="115.50" y1="297.77" x2="116.90" y2="297.77" stroke="#000" stroke-width="0.5"/>
<line x1="115.50" y1="297.07" x2="116.90" y2="297.07" stroke="#000" stroke-width="0.5"/>
<line x1="115.50" y1="296.47" x2="116.90" y2="296.47" stroke="#000" stroke-width="0.5"/>
<line x1="115.50" y1="295.94" x2="116.90" y2="295.94" stroke="#000" stroke-width="0.5"/>
<line x1="114.30" y1="295.46" x2="116.90" y2="295.46" stroke="#000" stroke-width="0.75"/>
<line x1="115.50" y1="292.32" x2="116.90" y2="292.32" stroke="#000" stroke-width="0.5"/>
<line x1="115.50" y1="290.49" x2="116.90" y2="290.49" stroke="#000" stroke-width="0.5"/>
<line x1="115.50" y1="289.19" x2="116.90" y2="289.19" stroke="#000" stroke-width="0.5"/>
<line x1="115.50" y1="288.18" x2="116.90" y2="288.18" stroke="#000" stroke-width="0.5"/>
<line x1="115.50" y1="287.35" x2="116.90" y2="287.35" stroke="#000" stroke-width="0.5"/>
<line x1="115.50" y1="286.65" x2="116.90" y2="286.65" stroke="#000" stroke-width="0.5"/>
<line x1="115.50" y1="286.05" x2="116.90" y2="286.05" stroke="#000" stroke-width="0.5"/>
<line x1="115.50" y1="285.52" x2="116.90" y2="285.52" stroke="#000" stroke-width="0.5"/>
<line x1="114.30" y1="285.04" x2="116.90" y2="285.04" stroke="#000" stroke-width="0.75"/>
<line x1="115.50" y1="281.90" x2="116.90" y2="281.90" stroke="#000" stroke-width="0.5"/>
<line x1="115.50" y1="280.07" x2="116.90" y2="280.07" stroke="#000" stroke-width="0.5"/>
<line x1="115.50" y1="278.77" x2="116.90" y2="278.77" stroke="#000" stroke-width="0.5"/>
<line x1="115.50" y1="277.76" x2="116.90" y2="277.76" stroke="#000" stroke-width="0.5"/>
<line x1="115.50" y1="276.93" x2="116.90" y2="276.93" stroke="#000" stroke-width="0.5"/>
<line x1="115.50" y1="276.23" x2="116.90" y2="276.23" stroke="#000" stroke-width="0.5"/>
<line x1="115.50" y1="275.63" x2="116.90" y2="275.63" stroke="#000" stroke-width="0.5"/>
<line x1="115.50" y1="275.10" x2="116.90" y2="275.10" stroke="#000" stroke-width="0.5"/>
<line x1="114.30" y1="274.62" x2="116.90" y2="274.62" stroke="#000" stroke-width="0.75"/>
<line x1="115.50" y1="271.48" x2="116.90" y2="271.48" stroke="#000" stroke-width="0.5"/>
<line x1="115.50" y1="269.65" x2="116.90" y2="269.65" stroke="#000" stroke-width="0.5"/>
<line x1="115.50" y1="268.35" x2="116.90" y2="268.35" stroke="#000" stroke-width="0.5"/>
<line x1="115.50" y1="267.34" x2="116.90" y2="267.34" stroke="#000" stroke-width="0.5"/>
<line x1="115.50" y1="266.51" x2="116.90" y2="266.51" stroke="#000" stroke-width="0.5"/>
<line x1="115.50" y1="265.81" x2="116.90" y2="265.81" stroke="#000" stroke-width="0.5"/>
<line x1="115.50" y1="265.21" x2="116.90" y2="265.21" stroke="#000" stroke-width="0.5"/>
<line x1="115.50" y1="264.68" x2="116.90" y2="264.68" stroke="#000" stroke-width="0.5"/>
<line x1="114.30" y1="264.20" x2="116.90" y2="264.20" stroke="#000" stroke-width="0.75"/>
<line x1="117.20" y1="316.90" x2="117.20" y2="319.80" stroke="#000" stroke-width="0.75"/>
<line x1="119.33" y1="316.90" x2="119.33" y2="318.40" stroke="#000" stroke-width="0.5"/>
<line x1="121.46" y1="316.90" x2="121.46" y2="318.40" stroke="#000" stroke-width="0.5"/>
<line x1="123.60" y1="316.90" x2="123.60" y2="318.40" stroke="#000" stroke-width="0.5"/>
<line x1="125.73" y1="316.90" x2="125.73" y2="318.40" stroke="#000" stroke-width="0.5"/>
<text transform="translate(120.80,327.30) rotate(-45)" x="0" y="0" font-size="6.5" text-anchor="end" fill="#231f20" stroke="#231f20" stroke-width="0.1">0</text>
<line x1="127.86" y1="316.90" x2="127.86" y2="319.80" stroke="#000" stroke-width="0.75"/>
<line x1="129.99" y1="316.90" x2="129.99" y2="318.40" stroke="#000" stroke-width="0.5"/>
<line x1="132.12" y1="316.90" x2="132.12" y2="318.40" stroke="#000" stroke-width="0.5"/>
<line x1="134.26" y1="316.90" x2="134.26" y2="318.40" stroke="#000" stroke-width="0.5"/>
<line x1="136.39" y1="316.90" x2="136.39" y2="318.40" stroke="#000" stroke-width="0.5"/>
<text transform="translate(131.46,327.30) rotate(-45)" x="0" y="0" font-size="6.5" text-anchor="end" fill="#231f20" stroke="#231f20" stroke-width="0.1">50</text>
<line x1="138.52" y1="316.90" x2="138.52" y2="319.80" stroke="#000" stroke-width="0.75"/>
<line x1="140.65" y1="316.90" x2="140.65" y2="318.40" stroke="#000" stroke-width="0.5"/>
<line x1="142.78" y1="316.90" x2="142.78" y2="318.40" stroke="#000" stroke-width="0.5"/>
<line x1="144.92" y1="316.90" x2="144.92" y2="318.40" stroke="#000" stroke-width="0.5"/>
<line x1="147.05" y1="316.90" x2="147.05" y2="318.40" stroke="#000" stroke-width="0.5"/>
<text transform="translate(142.12,327.30) rotate(-45)" x="0" y="0" font-size="6.5" text-anchor="end" fill="#231f20" stroke="#231f20" stroke-width="0.1">100</text>
<line x1="149.18" y1="316.90" x2="149.18" y2="319.80" stroke="#000" stroke-width="0.75"/>
<line x1="151.31" y1="316.90" x2="151.31" y2="318.40" stroke="#000" stroke-width="0.5"/>
<line x1="153.44" y1="316.90" x2="153.44" y2="318.40" stroke="#000" stroke-width="0.5"/>
<line x1="155.58" y1="316.90" x2="155.58" y2="318.40" stroke="#000" stroke-width="0.5"/>
<line x1="157.71" y1="316.90" x2="157.71" y2="318.40" stroke="#000" stroke-width="0.5"/>
<text transform="translate(152.78,327.30) rotate(-45)" x="0" y="0" font-size="6.5" text-anchor="end" fill="#231f20" stroke="#231f20" stroke-width="0.1">150</text>
<line x1="159.84" y1="316.90" x2="159.84" y2="319.80" stroke="#000" stroke-width="0.75"/>
<line x1="161.97" y1="316.90" x2="161.97" y2="318.40" stroke="#000" stroke-width="0.5"/>
<line x1="164.10" y1="316.90" x2="164.10" y2="318.40" stroke="#000" stroke-width="0.5"/>
<line x1="166.24" y1="316.90" x2="166.24" y2="318.40" stroke="#000" stroke-width="0.5"/>
<line x1="168.37" y1="316.90" x2="168.37" y2="318.40" stroke="#000" stroke-width="0.5"/>
<text transform="translate(163.44,327.30) rotate(-45)" x="0" y="0" font-size="6.5" text-anchor="end" fill="#231f20" stroke="#231f20" stroke-width="0.1">200</text>
<line x1="170.50" y1="316.90" x2="170.50" y2="319.80" stroke="#000" stroke-width="0.75"/>
<text transform="translate(174.10,327.30) rotate(-45)" x="0" y="0" font-size="6.5" text-anchor="end" fill="#231f20" stroke="#231f20" stroke-width="0.1">250</text>
<text x="175.60" y="342.24" font-size="6.20" fill="#231f20" text-anchor="end" stroke="#231f20" stroke-width="0.1">(x10<tspan dy="-2.4" font-size="4.0">3</tspan><tspan dy="2.4">)</tspan></text>
<rect x="185.20" y="261.60" width="56.50" height="55.30" fill="none" stroke="#000" stroke-width="1.25"/>
<line x1="182.60" y1="316.30" x2="185.20" y2="316.30" stroke="#000" stroke-width="0.75"/>
<line x1="183.80" y1="313.16" x2="185.20" y2="313.16" stroke="#000" stroke-width="0.5"/>
<line x1="183.80" y1="311.33" x2="185.20" y2="311.33" stroke="#000" stroke-width="0.5"/>
<line x1="183.80" y1="310.03" x2="185.20" y2="310.03" stroke="#000" stroke-width="0.5"/>
<line x1="183.80" y1="309.02" x2="185.20" y2="309.02" stroke="#000" stroke-width="0.5"/>
<line x1="183.80" y1="308.19" x2="185.20" y2="308.19" stroke="#000" stroke-width="0.5"/>
<line x1="183.80" y1="307.49" x2="185.20" y2="307.49" stroke="#000" stroke-width="0.5"/>
<line x1="183.80" y1="306.89" x2="185.20" y2="306.89" stroke="#000" stroke-width="0.5"/>
<line x1="183.80" y1="306.36" x2="185.20" y2="306.36" stroke="#000" stroke-width="0.5"/>
<line x1="182.60" y1="305.88" x2="185.20" y2="305.88" stroke="#000" stroke-width="0.75"/>
<line x1="183.80" y1="302.74" x2="185.20" y2="302.74" stroke="#000" stroke-width="0.5"/>
<line x1="183.80" y1="300.91" x2="185.20" y2="300.91" stroke="#000" stroke-width="0.5"/>
<line x1="183.80" y1="299.61" x2="185.20" y2="299.61" stroke="#000" stroke-width="0.5"/>
<line x1="183.80" y1="298.60" x2="185.20" y2="298.60" stroke="#000" stroke-width="0.5"/>
<line x1="183.80" y1="297.77" x2="185.20" y2="297.77" stroke="#000" stroke-width="0.5"/>
<line x1="183.80" y1="297.07" x2="185.20" y2="297.07" stroke="#000" stroke-width="0.5"/>
<line x1="183.80" y1="296.47" x2="185.20" y2="296.47" stroke="#000" stroke-width="0.5"/>
<line x1="183.80" y1="295.94" x2="185.20" y2="295.94" stroke="#000" stroke-width="0.5"/>
<line x1="182.60" y1="295.46" x2="185.20" y2="295.46" stroke="#000" stroke-width="0.75"/>
<line x1="183.80" y1="292.32" x2="185.20" y2="292.32" stroke="#000" stroke-width="0.5"/>
<line x1="183.80" y1="290.49" x2="185.20" y2="290.49" stroke="#000" stroke-width="0.5"/>
<line x1="183.80" y1="289.19" x2="185.20" y2="289.19" stroke="#000" stroke-width="0.5"/>
<line x1="183.80" y1="288.18" x2="185.20" y2="288.18" stroke="#000" stroke-width="0.5"/>
<line x1="183.80" y1="287.35" x2="185.20" y2="287.35" stroke="#000" stroke-width="0.5"/>
<line x1="183.80" y1="286.65" x2="185.20" y2="286.65" stroke="#000" stroke-width="0.5"/>
<line x1="183.80" y1="286.05" x2="185.20" y2="286.05" stroke="#000" stroke-width="0.5"/>
<line x1="183.80" y1="285.52" x2="185.20" y2="285.52" stroke="#000" stroke-width="0.5"/>
<line x1="182.60" y1="285.04" x2="185.20" y2="285.04" stroke="#000" stroke-width="0.75"/>
<line x1="183.80" y1="281.90" x2="185.20" y2="281.90" stroke="#000" stroke-width="0.5"/>
<line x1="183.80" y1="280.07" x2="185.20" y2="280.07" stroke="#000" stroke-width="0.5"/>
<line x1="183.80" y1="278.77" x2="185.20" y2="278.77" stroke="#000" stroke-width="0.5"/>
<line x1="183.80" y1="277.76" x2="185.20" y2="277.76" stroke="#000" stroke-width="0.5"/>
<line x1="183.80" y1="276.93" x2="185.20" y2="276.93" stroke="#000" stroke-width="0.5"/>
<line x1="183.80" y1="276.23" x2="185.20" y2="276.23" stroke="#000" stroke-width="0.5"/>
<line x1="183.80" y1="275.63" x2="185.20" y2="275.63" stroke="#000" stroke-width="0.5"/>
<line x1="183.80" y1="275.10" x2="185.20" y2="275.10" stroke="#000" stroke-width="0.5"/>
<line x1="182.60" y1="274.62" x2="185.20" y2="274.62" stroke="#000" stroke-width="0.75"/>
<line x1="183.80" y1="271.48" x2="185.20" y2="271.48" stroke="#000" stroke-width="0.5"/>
<line x1="183.80" y1="269.65" x2="185.20" y2="269.65" stroke="#000" stroke-width="0.5"/>
<line x1="183.80" y1="268.35" x2="185.20" y2="268.35" stroke="#000" stroke-width="0.5"/>
<line x1="183.80" y1="267.34" x2="185.20" y2="267.34" stroke="#000" stroke-width="0.5"/>
<line x1="183.80" y1="266.51" x2="185.20" y2="266.51" stroke="#000" stroke-width="0.5"/>
<line x1="183.80" y1="265.81" x2="185.20" y2="265.81" stroke="#000" stroke-width="0.5"/>
<line x1="183.80" y1="265.21" x2="185.20" y2="265.21" stroke="#000" stroke-width="0.5"/>
<line x1="183.80" y1="264.68" x2="185.20" y2="264.68" stroke="#000" stroke-width="0.5"/>
<line x1="182.60" y1="264.20" x2="185.20" y2="264.20" stroke="#000" stroke-width="0.75"/>
<line x1="185.50" y1="316.90" x2="185.50" y2="319.80" stroke="#000" stroke-width="0.75"/>
<line x1="187.63" y1="316.90" x2="187.63" y2="318.40" stroke="#000" stroke-width="0.5"/>
<line x1="189.76" y1="316.90" x2="189.76" y2="318.40" stroke="#000" stroke-width="0.5"/>
<line x1="191.90" y1="316.90" x2="191.90" y2="318.40" stroke="#000" stroke-width="0.5"/>
<line x1="194.03" y1="316.90" x2="194.03" y2="318.40" stroke="#000" stroke-width="0.5"/>
<text transform="translate(189.10,327.30) rotate(-45)" x="0" y="0" font-size="6.5" text-anchor="end" fill="#231f20" stroke="#231f20" stroke-width="0.1">0</text>
<line x1="196.16" y1="316.90" x2="196.16" y2="319.80" stroke="#000" stroke-width="0.75"/>
<line x1="198.29" y1="316.90" x2="198.29" y2="318.40" stroke="#000" stroke-width="0.5"/>
<line x1="200.42" y1="316.90" x2="200.42" y2="318.40" stroke="#000" stroke-width="0.5"/>
<line x1="202.56" y1="316.90" x2="202.56" y2="318.40" stroke="#000" stroke-width="0.5"/>
<line x1="204.69" y1="316.90" x2="204.69" y2="318.40" stroke="#000" stroke-width="0.5"/>
<text transform="translate(199.76,327.30) rotate(-45)" x="0" y="0" font-size="6.5" text-anchor="end" fill="#231f20" stroke="#231f20" stroke-width="0.1">50</text>
<line x1="206.82" y1="316.90" x2="206.82" y2="319.80" stroke="#000" stroke-width="0.75"/>
<line x1="208.95" y1="316.90" x2="208.95" y2="318.40" stroke="#000" stroke-width="0.5"/>
<line x1="211.08" y1="316.90" x2="211.08" y2="318.40" stroke="#000" stroke-width="0.5"/>
<line x1="213.22" y1="316.90" x2="213.22" y2="318.40" stroke="#000" stroke-width="0.5"/>
<line x1="215.35" y1="316.90" x2="215.35" y2="318.40" stroke="#000" stroke-width="0.5"/>
<text transform="translate(210.42,327.30) rotate(-45)" x="0" y="0" font-size="6.5" text-anchor="end" fill="#231f20" stroke="#231f20" stroke-width="0.1">100</text>
<line x1="217.48" y1="316.90" x2="217.48" y2="319.80" stroke="#000" stroke-width="0.75"/>
<line x1="219.61" y1="316.90" x2="219.61" y2="318.40" stroke="#000" stroke-width="0.5"/>
<line x1="221.74" y1="316.90" x2="221.74" y2="318.40" stroke="#000" stroke-width="0.5"/>
<line x1="223.88" y1="316.90" x2="223.88" y2="318.40" stroke="#000" stroke-width="0.5"/>
<line x1="226.01" y1="316.90" x2="226.01" y2="318.40" stroke="#000" stroke-width="0.5"/>
<text transform="translate(221.08,327.30) rotate(-45)" x="0" y="0" font-size="6.5" text-anchor="end" fill="#231f20" stroke="#231f20" stroke-width="0.1">150</text>
<line x1="228.14" y1="316.90" x2="228.14" y2="319.80" stroke="#000" stroke-width="0.75"/>
<line x1="230.27" y1="316.90" x2="230.27" y2="318.40" stroke="#000" stroke-width="0.5"/>
<line x1="232.40" y1="316.90" x2="232.40" y2="318.40" stroke="#000" stroke-width="0.5"/>
<line x1="234.54" y1="316.90" x2="234.54" y2="318.40" stroke="#000" stroke-width="0.5"/>
<line x1="236.67" y1="316.90" x2="236.67" y2="318.40" stroke="#000" stroke-width="0.5"/>
<text transform="translate(231.74,327.30) rotate(-45)" x="0" y="0" font-size="6.5" text-anchor="end" fill="#231f20" stroke="#231f20" stroke-width="0.1">200</text>
<line x1="238.80" y1="316.90" x2="238.80" y2="319.80" stroke="#000" stroke-width="0.75"/>
<text transform="translate(242.40,327.30) rotate(-45)" x="0" y="0" font-size="6.5" text-anchor="end" fill="#231f20" stroke="#231f20" stroke-width="0.1">250</text>
<text x="243.90" y="342.24" font-size="6.20" fill="#231f20" text-anchor="end" stroke="#231f20" stroke-width="0.1">(x10<tspan dy="-2.4" font-size="4.0">3</tspan><tspan dy="2.4">)</tspan></text>
<rect x="253.70" y="261.60" width="56.50" height="55.30" fill="none" stroke="#000" stroke-width="1.25"/>
<line x1="251.10" y1="316.30" x2="253.70" y2="316.30" stroke="#000" stroke-width="0.75"/>
<line x1="252.30" y1="313.16" x2="253.70" y2="313.16" stroke="#000" stroke-width="0.5"/>
<line x1="252.30" y1="311.33" x2="253.70" y2="311.33" stroke="#000" stroke-width="0.5"/>
<line x1="252.30" y1="310.03" x2="253.70" y2="310.03" stroke="#000" stroke-width="0.5"/>
<line x1="252.30" y1="309.02" x2="253.70" y2="309.02" stroke="#000" stroke-width="0.5"/>
<line x1="252.30" y1="308.19" x2="253.70" y2="308.19" stroke="#000" stroke-width="0.5"/>
<line x1="252.30" y1="307.49" x2="253.70" y2="307.49" stroke="#000" stroke-width="0.5"/>
<line x1="252.30" y1="306.89" x2="253.70" y2="306.89" stroke="#000" stroke-width="0.5"/>
<line x1="252.30" y1="306.36" x2="253.70" y2="306.36" stroke="#000" stroke-width="0.5"/>
<line x1="251.10" y1="305.88" x2="253.70" y2="305.88" stroke="#000" stroke-width="0.75"/>
<line x1="252.30" y1="302.74" x2="253.70" y2="302.74" stroke="#000" stroke-width="0.5"/>
<line x1="252.30" y1="300.91" x2="253.70" y2="300.91" stroke="#000" stroke-width="0.5"/>
<line x1="252.30" y1="299.61" x2="253.70" y2="299.61" stroke="#000" stroke-width="0.5"/>
<line x1="252.30" y1="298.60" x2="253.70" y2="298.60" stroke="#000" stroke-width="0.5"/>
<line x1="252.30" y1="297.77" x2="253.70" y2="297.77" stroke="#000" stroke-width="0.5"/>
<line x1="252.30" y1="297.07" x2="253.70" y2="297.07" stroke="#000" stroke-width="0.5"/>
<line x1="252.30" y1="296.47" x2="253.70" y2="296.47" stroke="#000" stroke-width="0.5"/>
<line x1="252.30" y1="295.94" x2="253.70" y2="295.94" stroke="#000" stroke-width="0.5"/>
<line x1="251.10" y1="295.46" x2="253.70" y2="295.46" stroke="#000" stroke-width="0.75"/>
<line x1="252.30" y1="292.32" x2="253.70" y2="292.32" stroke="#000" stroke-width="0.5"/>
<line x1="252.30" y1="290.49" x2="253.70" y2="290.49" stroke="#000" stroke-width="0.5"/>
<line x1="252.30" y1="289.19" x2="253.70" y2="289.19" stroke="#000" stroke-width="0.5"/>
<line x1="252.30" y1="288.18" x2="253.70" y2="288.18" stroke="#000" stroke-width="0.5"/>
<line x1="252.30" y1="287.35" x2="253.70" y2="287.35" stroke="#000" stroke-width="0.5"/>
<line x1="252.30" y1="286.65" x2="253.70" y2="286.65" stroke="#000" stroke-width="0.5"/>
<line x1="252.30" y1="286.05" x2="253.70" y2="286.05" stroke="#000" stroke-width="0.5"/>
<line x1="252.30" y1="285.52" x2="253.70" y2="285.52" stroke="#000" stroke-width="0.5"/>
<line x1="251.10" y1="285.04" x2="253.70" y2="285.04" stroke="#000" stroke-width="0.75"/>
<line x1="252.30" y1="281.90" x2="253.70" y2="281.90" stroke="#000" stroke-width="0.5"/>
<line x1="252.30" y1="280.07" x2="253.70" y2="280.07" stroke="#000" stroke-width="0.5"/>
<line x1="252.30" y1="278.77" x2="253.70" y2="278.77" stroke="#000" stroke-width="0.5"/>
<line x1="252.30" y1="277.76" x2="253.70" y2="277.76" stroke="#000" stroke-width="0.5"/>
<line x1="252.30" y1="276.93" x2="253.70" y2="276.93" stroke="#000" stroke-width="0.5"/>
<line x1="252.30" y1="276.23" x2="253.70" y2="276.23" stroke="#000" stroke-width="0.5"/>
<line x1="252.30" y1="275.63" x2="253.70" y2="275.63" stroke="#000" stroke-width="0.5"/>
<line x1="252.30" y1="275.10" x2="253.70" y2="275.10" stroke="#000" stroke-width="0.5"/>
<line x1="251.10" y1="274.62" x2="253.70" y2="274.62" stroke="#000" stroke-width="0.75"/>
<line x1="252.30" y1="271.48" x2="253.70" y2="271.48" stroke="#000" stroke-width="0.5"/>
<line x1="252.30" y1="269.65" x2="253.70" y2="269.65" stroke="#000" stroke-width="0.5"/>
<line x1="252.30" y1="268.35" x2="253.70" y2="268.35" stroke="#000" stroke-width="0.5"/>
<line x1="252.30" y1="267.34" x2="253.70" y2="267.34" stroke="#000" stroke-width="0.5"/>
<line x1="252.30" y1="266.51" x2="253.70" y2="266.51" stroke="#000" stroke-width="0.5"/>
<line x1="252.30" y1="265.81" x2="253.70" y2="265.81" stroke="#000" stroke-width="0.5"/>
<line x1="252.30" y1="265.21" x2="253.70" y2="265.21" stroke="#000" stroke-width="0.5"/>
<line x1="252.30" y1="264.68" x2="253.70" y2="264.68" stroke="#000" stroke-width="0.5"/>
<line x1="251.10" y1="264.20" x2="253.70" y2="264.20" stroke="#000" stroke-width="0.75"/>
<line x1="254.00" y1="316.90" x2="254.00" y2="319.80" stroke="#000" stroke-width="0.75"/>
<line x1="256.13" y1="316.90" x2="256.13" y2="318.40" stroke="#000" stroke-width="0.5"/>
<line x1="258.26" y1="316.90" x2="258.26" y2="318.40" stroke="#000" stroke-width="0.5"/>
<line x1="260.40" y1="316.90" x2="260.40" y2="318.40" stroke="#000" stroke-width="0.5"/>
<line x1="262.53" y1="316.90" x2="262.53" y2="318.40" stroke="#000" stroke-width="0.5"/>
<text transform="translate(257.60,327.30) rotate(-45)" x="0" y="0" font-size="6.5" text-anchor="end" fill="#231f20" stroke="#231f20" stroke-width="0.1">0</text>
<line x1="264.66" y1="316.90" x2="264.66" y2="319.80" stroke="#000" stroke-width="0.75"/>
<line x1="266.79" y1="316.90" x2="266.79" y2="318.40" stroke="#000" stroke-width="0.5"/>
<line x1="268.92" y1="316.90" x2="268.92" y2="318.40" stroke="#000" stroke-width="0.5"/>
<line x1="271.06" y1="316.90" x2="271.06" y2="318.40" stroke="#000" stroke-width="0.5"/>
<line x1="273.19" y1="316.90" x2="273.19" y2="318.40" stroke="#000" stroke-width="0.5"/>
<text transform="translate(268.26,327.30) rotate(-45)" x="0" y="0" font-size="6.5" text-anchor="end" fill="#231f20" stroke="#231f20" stroke-width="0.1">50</text>
<line x1="275.32" y1="316.90" x2="275.32" y2="319.80" stroke="#000" stroke-width="0.75"/>
<line x1="277.45" y1="316.90" x2="277.45" y2="318.40" stroke="#000" stroke-width="0.5"/>
<line x1="279.58" y1="316.90" x2="279.58" y2="318.40" stroke="#000" stroke-width="0.5"/>
<line x1="281.72" y1="316.90" x2="281.72" y2="318.40" stroke="#000" stroke-width="0.5"/>
<line x1="283.85" y1="316.90" x2="283.85" y2="318.40" stroke="#000" stroke-width="0.5"/>
<text transform="translate(278.92,327.30) rotate(-45)" x="0" y="0" font-size="6.5" text-anchor="end" fill="#231f20" stroke="#231f20" stroke-width="0.1">100</text>
<line x1="285.98" y1="316.90" x2="285.98" y2="319.80" stroke="#000" stroke-width="0.75"/>
<line x1="288.11" y1="316.90" x2="288.11" y2="318.40" stroke="#000" stroke-width="0.5"/>
<line x1="290.24" y1="316.90" x2="290.24" y2="318.40" stroke="#000" stroke-width="0.5"/>
<line x1="292.38" y1="316.90" x2="292.38" y2="318.40" stroke="#000" stroke-width="0.5"/>
<line x1="294.51" y1="316.90" x2="294.51" y2="318.40" stroke="#000" stroke-width="0.5"/>
<text transform="translate(289.58,327.30) rotate(-45)" x="0" y="0" font-size="6.5" text-anchor="end" fill="#231f20" stroke="#231f20" stroke-width="0.1">150</text>
<line x1="296.64" y1="316.90" x2="296.64" y2="319.80" stroke="#000" stroke-width="0.75"/>
<line x1="298.77" y1="316.90" x2="298.77" y2="318.40" stroke="#000" stroke-width="0.5"/>
<line x1="300.90" y1="316.90" x2="300.90" y2="318.40" stroke="#000" stroke-width="0.5"/>
<line x1="303.04" y1="316.90" x2="303.04" y2="318.40" stroke="#000" stroke-width="0.5"/>
<line x1="305.17" y1="316.90" x2="305.17" y2="318.40" stroke="#000" stroke-width="0.5"/>
<text transform="translate(300.24,327.30) rotate(-45)" x="0" y="0" font-size="6.5" text-anchor="end" fill="#231f20" stroke="#231f20" stroke-width="0.1">200</text>
<line x1="307.30" y1="316.90" x2="307.30" y2="319.80" stroke="#000" stroke-width="0.75"/>
<text transform="translate(310.90,327.30) rotate(-45)" x="0" y="0" font-size="6.5" text-anchor="end" fill="#231f20" stroke="#231f20" stroke-width="0.1">250</text>
<text x="312.40" y="342.24" font-size="6.20" fill="#231f20" text-anchor="end" stroke="#231f20" stroke-width="0.1">(x10<tspan dy="-2.4" font-size="4.0">3</tspan><tspan dy="2.4">)</tspan></text>
<text x="79.70" y="280.35" font-size="6.80" fill="#c42a4f" text-anchor="end" font-weight="bold" textLength="6.81" lengthAdjust="spacingAndGlyphs">96</text>
<text x="57.20" y="290.35" font-size="6.80" fill="#c42a4f" font-weight="bold" textLength="3.4" lengthAdjust="spacingAndGlyphs">2</text>
<text x="74.20" y="290.35" font-size="6.80" fill="#c42a4f" font-weight="bold" textLength="3.4" lengthAdjust="spacingAndGlyphs">0</text>
<text x="50.30" y="312.05" font-size="6.80" fill="#c42a4f" font-weight="bold" textLength="3.4" lengthAdjust="spacingAndGlyphs">0</text>
<text x="147.60" y="280.95" font-size="6.80" fill="#c42a4f" text-anchor="end" font-weight="bold" textLength="6.81" lengthAdjust="spacingAndGlyphs">91</text>
<text x="125.90" y="290.05" font-size="6.80" fill="#c42a4f" font-weight="bold" textLength="3.4" lengthAdjust="spacingAndGlyphs">5</text>
<text x="145.00" y="290.05" font-size="6.80" fill="#c42a4f" text-anchor="end" font-weight="bold" textLength="3.4" lengthAdjust="spacingAndGlyphs">1</text>
<text x="119.00" y="312.55" font-size="6.80" fill="#c42a4f" font-weight="bold" textLength="3.4" lengthAdjust="spacingAndGlyphs">1</text>
<text x="238.60" y="278.35" font-size="6.80" fill="#c42a4f" text-anchor="end" font-weight="bold" textLength="6.47" lengthAdjust="spacingAndGlyphs">11</text>
<text x="218.00" y="297.05" font-size="6.80" fill="#c42a4f" text-anchor="end" font-weight="bold" textLength="6.81" lengthAdjust="spacingAndGlyphs">80</text>
<text x="236.60" y="297.05" font-size="6.80" fill="#c42a4f" text-anchor="end" font-weight="bold" textLength="3.4" lengthAdjust="spacingAndGlyphs">2</text>
<text x="188.30" y="312.55" font-size="6.80" fill="#c42a4f" font-weight="bold" textLength="3.4" lengthAdjust="spacingAndGlyphs">5</text>
<text x="307.00" y="278.35" font-size="6.80" fill="#c42a4f" text-anchor="end" font-weight="bold" textLength="6.81" lengthAdjust="spacingAndGlyphs">10</text>
<text x="286.00" y="297.05" font-size="6.80" fill="#c42a4f" text-anchor="end" font-weight="bold" textLength="6.81" lengthAdjust="spacingAndGlyphs">79</text>
<text x="305.00" y="297.05" font-size="6.80" fill="#c42a4f" text-anchor="end" font-weight="bold" textLength="3.4" lengthAdjust="spacingAndGlyphs">2</text>
<text x="257.50" y="312.55" font-size="6.80" fill="#c42a4f" font-weight="bold" textLength="3.4" lengthAdjust="spacingAndGlyphs">7</text>
<line x1="29.00" y1="317.60" x2="29.00" y2="340.40" stroke="#111" stroke-width="1.1"/>
<line x1="28.50" y1="339.90" x2="48.40" y2="339.90" stroke="#111" stroke-width="1.1"/>
<path d="M26.9,318.6 L29.0,313.6 L31.1,318.6 Z" fill="#000"/>
<path d="M47.4,337.79999999999995 L52.4,339.9 L47.4,342.0 Z" fill="#000"/>
<text transform="translate(21.20,328.50) rotate(-90)" x="0" y="2.59" font-size="7.50" fill="#231f20" text-anchor="middle" textLength="12.4" lengthAdjust="spacingAndGlyphs" stroke="#231f20" stroke-width="0.35">BrdU</text>
<text x="38.90" y="347.85" font-size="7.40" fill="#231f20" text-anchor="middle" textLength="16.0" lengthAdjust="spacingAndGlyphs" stroke="#231f20" stroke-width="0.35">7-AAD</text>
<text x="99.40" y="377.76" font-size="7.13" fill="#231f20" text-anchor="middle" textLength="16.2" lengthAdjust="spacingAndGlyphs" stroke="#231f20" stroke-width="0.1">Day 1</text>
<rect x="85.40" y="382.20" width="28.10" height="6.30" fill="#5aa843"/>
<text x="99.40" y="387.81" font-size="7.00" fill="#1a1a1a" text-anchor="middle" stroke="#1a1a1a" stroke-width="0.1">30</text>
<text x="128.60" y="377.76" font-size="7.13" fill="#231f20" text-anchor="middle" textLength="16.2" lengthAdjust="spacingAndGlyphs" stroke="#231f20" stroke-width="0.1">Day 2</text>
<rect x="114.60" y="382.20" width="28.10" height="6.30" fill="#5aa843"/>
<text x="128.60" y="387.81" font-size="7.00" fill="#1a1a1a" text-anchor="middle" stroke="#1a1a1a" stroke-width="0.1">30</text>
<text x="157.80" y="377.76" font-size="7.13" fill="#231f20" text-anchor="middle" textLength="16.2" lengthAdjust="spacingAndGlyphs" stroke="#231f20" stroke-width="0.1">Day 3</text>
<rect x="143.80" y="382.20" width="28.10" height="6.30" fill="#5aa843"/>
<text x="157.80" y="387.81" font-size="7.00" fill="#1a1a1a" text-anchor="middle" stroke="#1a1a1a" stroke-width="0.1">30</text>
<rect x="143.80" y="392.70" width="28.10" height="5.90" fill="#9a90d0"/>
<text x="157.80" y="398.12" font-size="7.00" fill="#1a1a1a" text-anchor="middle" stroke="#1a1a1a" stroke-width="0.1">200</text>
<text x="187.00" y="377.76" font-size="7.13" fill="#231f20" text-anchor="middle" textLength="16.2" lengthAdjust="spacingAndGlyphs" stroke="#231f20" stroke-width="0.1">Day 4</text>
<rect x="173.00" y="382.20" width="28.10" height="6.30" fill="#5aa843"/>
<text x="187.00" y="387.81" font-size="7.00" fill="#1a1a1a" text-anchor="middle" stroke="#1a1a1a" stroke-width="0.1">30</text>
<rect x="173.00" y="392.70" width="28.10" height="5.90" fill="#9a90d0"/>
<text x="187.00" y="398.12" font-size="7.00" fill="#1a1a1a" text-anchor="middle" stroke="#1a1a1a" stroke-width="0.1">200</text>
<text x="68.00" y="387.37" font-size="6.30" fill="#231f20" text-anchor="end" textLength="38.6" lengthAdjust="spacingAndGlyphs" stroke="#231f20" stroke-width="0.1">PTC299 (nM)</text>
<text x="68.00" y="397.97" font-size="6.30" fill="#231f20" text-anchor="end" textLength="28.0" lengthAdjust="spacingAndGlyphs" stroke="#231f20" stroke-width="0.1">DAC (nM)</text>
<text x="68.00" y="408.07" font-size="6.30" fill="#231f20" text-anchor="end" textLength="38.6" lengthAdjust="spacingAndGlyphs" stroke="#231f20" stroke-width="0.1">PTC299 (nM)</text>
<text x="68.00" y="418.47" font-size="6.30" fill="#231f20" text-anchor="end" textLength="28.0" lengthAdjust="spacingAndGlyphs" stroke="#231f20" stroke-width="0.1">DAC (nM)</text>
<text x="79.00" y="408.07" font-size="6.30" fill="#231f20" text-anchor="middle" stroke="#231f20" stroke-width="0.1">0</text>
<text x="79.00" y="418.47" font-size="6.30" fill="#231f20" text-anchor="middle" stroke="#231f20" stroke-width="0.1">0</text>
<text x="144.70" y="408.37" font-size="6.30" fill="#231f20" text-anchor="middle" textLength="36.0" lengthAdjust="spacingAndGlyphs" stroke="#231f20" stroke-width="0.1">30 (Day 1-4)</text>
<text x="144.40" y="418.47" font-size="6.30" fill="#231f20" text-anchor="middle" stroke="#231f20" stroke-width="0.1">0</text>
<text x="212.30" y="408.47" font-size="6.30" fill="#231f20" text-anchor="middle" textLength="36.2" lengthAdjust="spacingAndGlyphs" stroke="#231f20" stroke-width="0.1">30 (Day 1-3)</text>
<text x="212.50" y="418.67" font-size="6.30" fill="#231f20" text-anchor="middle" textLength="34.0" lengthAdjust="spacingAndGlyphs" stroke="#231f20" stroke-width="0.1">200 (Day 3)</text>
<text x="280.10" y="408.47" font-size="6.30" fill="#231f20" text-anchor="middle" textLength="35.6" lengthAdjust="spacingAndGlyphs" stroke="#231f20" stroke-width="0.1">30 (Day 1-4)</text>
<text x="280.20" y="418.67" font-size="6.30" fill="#231f20" text-anchor="middle" textLength="39.6" lengthAdjust="spacingAndGlyphs" stroke="#231f20" stroke-width="0.1">200 (Day 3-4)</text>
<text transform="translate(23.80,451.10) rotate(-90)" x="0" y="2.73" font-size="7.90" fill="#231f20" text-anchor="middle" textLength="17.4" lengthAdjust="spacingAndGlyphs" stroke="#231f20" stroke-width="0.35">MDS-L</text>
<rect x="56.8" y="429.2" width="16.5" height="12.8" rx="4" fill="#d6d6d6" stroke="#555" stroke-width="0.55" opacity="1"/>
<rect x="58.0" y="430.3" width="14.1" height="10.6" rx="3.5" fill="#cdcdcd" stroke="#999" stroke-width="0.35" opacity="1"/>
<path d="M60,434 h3 M66,434 h2" stroke="#fff" stroke-width="0.9"/>
<ellipse cx="59.6" cy="457.2" rx="3.8" ry="10.4" fill="#c2c2c2" stroke="#666" stroke-width="0.5"/>
<ellipse cx="59.60" cy="457.20" rx="3.00" ry="9.00" fill="none" stroke="#333" stroke-width="0.45" transform="rotate(0 59.60 457.20)"/>
<ellipse cx="59.60" cy="457.20" rx="2.45" ry="7.35" fill="none" stroke="#333" stroke-width="0.45" transform="rotate(0 59.60 457.20)"/>
<ellipse cx="59.60" cy="457.20" rx="1.90" ry="5.70" fill="none" stroke="#333" stroke-width="0.45" transform="rotate(0 59.60 457.20)"/>
<ellipse cx="59.60" cy="457.20" rx="1.35" ry="4.05" fill="none" stroke="#333" stroke-width="0.45" transform="rotate(0 59.60 457.20)"/>
<ellipse cx="59.9" cy="456.5" rx="0.8" ry="5.0" fill="#eee"/>
<ellipse cx="70.20" cy="455.60" rx="3.40" ry="6.40" fill="none" stroke="#777" stroke-width="0.4" transform="rotate(0 70.20 455.60)"/>
<ellipse cx="70.20" cy="455.60" rx="2.66" ry="5.01" fill="none" stroke="#777" stroke-width="0.4" transform="rotate(0 70.20 455.60)"/>
<ellipse cx="70.20" cy="455.60" rx="1.93" ry="3.63" fill="none" stroke="#777" stroke-width="0.4" transform="rotate(0 70.20 455.60)"/>
<ellipse cx="70.20" cy="455.60" rx="1.19" ry="2.24" fill="none" stroke="#777" stroke-width="0.4" transform="rotate(0 70.20 455.60)"/>
<ellipse cx="70.20" cy="455.60" rx="2.40" ry="5.00" fill="url(#gl)" opacity="1" transform="rotate(0 70.20 455.60)"/>
<ellipse cx="58.60" cy="478.40" rx="2.00" ry="1.00" fill="url(#gk)" opacity="1" transform="rotate(0 58.60 478.40)"/>
<ellipse cx="70.00" cy="478.70" rx="1.60" ry="0.90" fill="url(#gm)" opacity="1" transform="rotate(0 70.00 478.70)"/>
<ellipse cx="137.50" cy="431.60" rx="11.20" ry="5.60" fill="none" stroke="#666" stroke-width="0.4" transform="rotate(0 137.50 431.60)"/>
<ellipse cx="137.50" cy="431.60" rx="9.63" ry="4.82" fill="none" stroke="#666" stroke-width="0.4" transform="rotate(0 137.50 431.60)"/>
<ellipse cx="137.50" cy="431.60" rx="8.06" ry="4.03" fill="none" stroke="#666" stroke-width="0.4" transform="rotate(0 137.50 431.60)"/>
<ellipse cx="137.50" cy="431.60" rx="6.50" ry="3.25" fill="none" stroke="#666" stroke-width="0.4" transform="rotate(0 137.50 431.60)"/>
<ellipse cx="137.50" cy="431.60" rx="4.93" ry="2.46" fill="none" stroke="#666" stroke-width="0.4" transform="rotate(0 137.50 431.60)"/>
<ellipse cx="137.50" cy="431.60" rx="3.36" ry="1.68" fill="none" stroke="#666" stroke-width="0.4" transform="rotate(0 137.50 431.60)"/>
<ellipse cx="137.50" cy="431.60" rx="10.50" ry="5.20" fill="url(#gm)" opacity="0.9" transform="rotate(0 137.50 431.60)"/>
<path d="M132,433 C135,431 140,431 143,432" stroke="#f4f4f4" stroke-width="0.9" fill="none"/>
<ellipse cx="146.50" cy="445.60" rx="6.50" ry="3.60" fill="none" stroke="#888" stroke-width="0.35" transform="rotate(0 146.50 445.60)"/>
<ellipse cx="146.50" cy="445.60" rx="5.20" ry="2.88" fill="none" stroke="#888" stroke-width="0.35" transform="rotate(0 146.50 445.60)"/>
<ellipse cx="146.50" cy="445.60" rx="3.90" ry="2.16" fill="none" stroke="#888" stroke-width="0.35" transform="rotate(0 146.50 445.60)"/>
<ellipse cx="146.50" cy="445.60" rx="2.60" ry="1.44" fill="none" stroke="#888" stroke-width="0.35" transform="rotate(0 146.50 445.60)"/>
<ellipse cx="131.80" cy="445.60" rx="8.50" ry="5.20" fill="none" stroke="#333" stroke-width="0.4" transform="rotate(0 131.80 445.60)"/>
<ellipse cx="131.80" cy="445.60" rx="7.44" ry="4.55" fill="none" stroke="#333" stroke-width="0.4" transform="rotate(0 131.80 445.60)"/>
<ellipse cx="131.80" cy="445.60" rx="6.38" ry="3.90" fill="none" stroke="#333" stroke-width="0.4" transform="rotate(0 131.80 445.60)"/>
<ellipse cx="131.80" cy="445.60" rx="5.31" ry="3.25" fill="none" stroke="#333" stroke-width="0.4" transform="rotate(0 131.80 445.60)"/>
<ellipse cx="131.80" cy="445.60" rx="4.25" ry="2.60" fill="none" stroke="#333" stroke-width="0.4" transform="rotate(0 131.80 445.60)"/>
<ellipse cx="131.80" cy="445.60" rx="3.19" ry="1.95" fill="none" stroke="#333" stroke-width="0.4" transform="rotate(0 131.80 445.60)"/>
<ellipse cx="131.80" cy="445.60" rx="2.12" ry="1.30" fill="none" stroke="#333" stroke-width="0.4" transform="rotate(0 131.80 445.60)"/>
<ellipse cx="132.30" cy="445.60" rx="6.50" ry="4.00" fill="url(#gk)" opacity="0.85" transform="rotate(0 132.30 445.60)"/>
<path d="M129,446 C131,444.5 134,444.5 136,446" stroke="#eee" stroke-width="0.8" fill="none"/>
<ellipse cx="202.00" cy="437.20" rx="9.60" ry="6.60" fill="none" stroke="#666" stroke-width="0.4" transform="rotate(0 202.00 437.20)"/>
<ellipse cx="202.00" cy="437.20" rx="8.26" ry="5.68" fill="none" stroke="#666" stroke-width="0.4" transform="rotate(0 202.00 437.20)"/>
<ellipse cx="202.00" cy="437.20" rx="6.91" ry="4.75" fill="none" stroke="#666" stroke-width="0.4" transform="rotate(0 202.00 437.20)"/>
<ellipse cx="202.00" cy="437.20" rx="5.57" ry="3.83" fill="none" stroke="#666" stroke-width="0.4" transform="rotate(0 202.00 437.20)"/>
<ellipse cx="202.00" cy="437.20" rx="4.22" ry="2.90" fill="none" stroke="#666" stroke-width="0.4" transform="rotate(0 202.00 437.20)"/>
<ellipse cx="202.00" cy="437.20" rx="2.88" ry="1.98" fill="none" stroke="#666" stroke-width="0.4" transform="rotate(0 202.00 437.20)"/>
<ellipse cx="202.00" cy="437.20" rx="9.00" ry="6.00" fill="url(#gm)" opacity="0.9" transform="rotate(0 202.00 437.20)"/>
<path d="M197,439 C200,436 204,435 207,436" stroke="#f4f4f4" stroke-width="0.8" fill="none"/>
<ellipse cx="188.50" cy="452.00" rx="3.20" ry="6.00" fill="none" stroke="#aaa" stroke-width="0.35" transform="rotate(0 188.50 452.00)"/>
<ellipse cx="188.50" cy="452.00" rx="1.92" ry="3.60" fill="none" stroke="#aaa" stroke-width="0.35" transform="rotate(0 188.50 452.00)"/>
<ellipse cx="209.30" cy="456.00" rx="5.00" ry="7.40" fill="none" stroke="#888" stroke-width="0.35" transform="rotate(0 209.30 456.00)"/>
<ellipse cx="209.30" cy="456.00" rx="3.92" ry="5.80" fill="none" stroke="#888" stroke-width="0.35" transform="rotate(0 209.30 456.00)"/>
<ellipse cx="209.30" cy="456.00" rx="2.83" ry="4.19" fill="none" stroke="#888" stroke-width="0.35" transform="rotate(0 209.30 456.00)"/>
<ellipse cx="209.30" cy="456.00" rx="1.75" ry="2.59" fill="none" stroke="#888" stroke-width="0.35" transform="rotate(0 209.30 456.00)"/>
<ellipse cx="197.60" cy="456.60" rx="6.00" ry="9.60" fill="none" stroke="#333" stroke-width="0.4" transform="rotate(0 197.60 456.60)"/>
<ellipse cx="197.60" cy="456.60" rx="5.25" ry="8.40" fill="none" stroke="#333" stroke-width="0.4" transform="rotate(0 197.60 456.60)"/>
<ellipse cx="197.60" cy="456.60" rx="4.50" ry="7.20" fill="none" stroke="#333" stroke-width="0.4" transform="rotate(0 197.60 456.60)"/>
<ellipse cx="197.60" cy="456.60" rx="3.75" ry="6.00" fill="none" stroke="#333" stroke-width="0.4" transform="rotate(0 197.60 456.60)"/>
<ellipse cx="197.60" cy="456.60" rx="3.00" ry="4.80" fill="none" stroke="#333" stroke-width="0.4" transform="rotate(0 197.60 456.60)"/>
<ellipse cx="197.60" cy="456.60" rx="2.25" ry="3.60" fill="none" stroke="#333" stroke-width="0.4" transform="rotate(0 197.60 456.60)"/>
<ellipse cx="197.60" cy="456.60" rx="1.50" ry="2.40" fill="none" stroke="#333" stroke-width="0.4" transform="rotate(0 197.60 456.60)"/>
<ellipse cx="197.60" cy="456.60" rx="4.60" ry="8.00" fill="url(#gk)" opacity="0.8" transform="rotate(0 197.60 456.60)"/>
<path d="M196,452 L197.5,458 L199,452" stroke="#eee" stroke-width="0.7" fill="none"/>
<ellipse cx="207.50" cy="478.30" rx="10.00" ry="1.60" fill="url(#gk)" opacity="1" transform="rotate(0 207.50 478.30)"/>
<path d="M264,440 C265,434 270,431 274,431 C279,431 281,435 281,440" fill="none" stroke="#999" stroke-width="0.350" transform="translate(272,438) scale(1.000) translate(-272,-438)"/>
<path d="M264,440 C265,434 270,431 274,431 C279,431 281,435 281,440" fill="none" stroke="#999" stroke-width="0.437" transform="translate(272,438) scale(0.800) translate(-272,-438)"/>
<ellipse cx="284.50" cy="447.20" rx="8.50" ry="4.20" fill="none" stroke="#888" stroke-width="0.35" transform="rotate(0 284.50 447.20)"/>
<ellipse cx="284.50" cy="447.20" rx="7.01" ry="3.46" fill="none" stroke="#888" stroke-width="0.35" transform="rotate(0 284.50 447.20)"/>
<ellipse cx="284.50" cy="447.20" rx="5.53" ry="2.73" fill="none" stroke="#888" stroke-width="0.35" transform="rotate(0 284.50 447.20)"/>
<ellipse cx="284.50" cy="447.20" rx="4.04" ry="2.00" fill="none" stroke="#888" stroke-width="0.35" transform="rotate(0 284.50 447.20)"/>
<ellipse cx="284.50" cy="447.20" rx="2.55" ry="1.26" fill="none" stroke="#888" stroke-width="0.35" transform="rotate(0 284.50 447.20)"/>
<ellipse cx="266.00" cy="447.60" rx="11.00" ry="6.20" fill="none" stroke="#333" stroke-width="0.4" transform="rotate(0 266.00 447.60)"/>
<ellipse cx="266.11" cy="447.60" rx="9.74" ry="5.49" fill="none" stroke="#333" stroke-width="0.4" transform="rotate(0 266.11 447.60)"/>
<ellipse cx="266.23" cy="447.60" rx="8.49" ry="4.78" fill="none" stroke="#333" stroke-width="0.4" transform="rotate(0 266.23 447.60)"/>
<ellipse cx="266.34" cy="447.60" rx="7.23" ry="4.07" fill="none" stroke="#333" stroke-width="0.4" transform="rotate(0 266.34 447.60)"/>
<ellipse cx="266.46" cy="447.60" rx="5.97" ry="3.37" fill="none" stroke="#333" stroke-width="0.4" transform="rotate(0 266.46 447.60)"/>
<ellipse cx="266.57" cy="447.60" rx="4.71" ry="2.66" fill="none" stroke="#333" stroke-width="0.4" transform="rotate(0 266.57 447.60)"/>
<ellipse cx="266.69" cy="447.60" rx="3.46" ry="1.95" fill="none" stroke="#333" stroke-width="0.4" transform="rotate(0 266.69 447.60)"/>
<ellipse cx="266.80" cy="447.60" rx="2.20" ry="1.24" fill="none" stroke="#333" stroke-width="0.4" transform="rotate(0 266.80 447.60)"/>
<ellipse cx="267.00" cy="447.60" rx="7.50" ry="4.60" fill="url(#gk)" opacity="0.75" transform="rotate(0 267.00 447.60)"/>
<rect x="48.60" y="431.50" width="6.00" height="44.20" fill="none" stroke="#7f84d2" stroke-width="0.8"/>
<rect x="55.00" y="428.60" width="21.20" height="14.80" fill="none" stroke="#7f84d2" stroke-width="0.8"/>
<rect x="54.20" y="446.50" width="11.00" height="21.90" fill="none" stroke="#7f84d2" stroke-width="0.8"/>
<rect x="65.20" y="447.80" width="10.60" height="15.40" fill="none" stroke="#7f84d2" stroke-width="0.8"/>
<rect x="117.00" y="431.80" width="7.30" height="44.70" fill="none" stroke="#7f84d2" stroke-width="0.8"/>
<rect x="124.30" y="425.40" width="24.90" height="13.40" fill="none" stroke="#7f84d2" stroke-width="0.8"/>
<rect x="124.60" y="439.80" width="15.40" height="12.40" fill="none" stroke="#7f84d2" stroke-width="0.8"/>
<rect x="140.00" y="440.30" width="12.60" height="10.30" fill="none" stroke="#7f84d2" stroke-width="0.8"/>
<rect x="185.50" y="431.50" width="6.00" height="45.00" fill="none" stroke="#7f84d2" stroke-width="0.8"/>
<rect x="191.50" y="430.00" width="20.80" height="14.50" fill="none" stroke="#7f84d2" stroke-width="0.8"/>
<rect x="191.50" y="447.20" width="12.30" height="20.30" fill="none" stroke="#7f84d2" stroke-width="0.8"/>
<rect x="204.30" y="447.20" width="10.30" height="17.00" fill="none" stroke="#7f84d2" stroke-width="0.8"/>
<rect x="253.30" y="431.50" width="7.10" height="45.00" fill="none" stroke="#7f84d2" stroke-width="0.8"/>
<rect x="261.20" y="427.20" width="22.00" height="12.00" fill="none" stroke="#7f84d2" stroke-width="0.8"/>
<rect x="260.40" y="440.30" width="15.10" height="14.90" fill="none" stroke="#7f84d2" stroke-width="0.8"/>
<rect x="275.50" y="440.30" width="17.20" height="11.90" fill="none" stroke="#7f84d2" stroke-width="0.8"/>
<rect x="48.50" y="423.70" width="56.20" height="55.40" fill="none" stroke="#000" stroke-width="1.25"/>
<line x1="45.90" y1="478.50" x2="48.50" y2="478.50" stroke="#000" stroke-width="0.75"/>
<line x1="47.10" y1="475.36" x2="48.50" y2="475.36" stroke="#000" stroke-width="0.5"/>
<line x1="47.10" y1="473.52" x2="48.50" y2="473.52" stroke="#000" stroke-width="0.5"/>
<line x1="47.10" y1="472.21" x2="48.50" y2="472.21" stroke="#000" stroke-width="0.5"/>
<line x1="47.10" y1="471.20" x2="48.50" y2="471.20" stroke="#000" stroke-width="0.5"/>
<line x1="47.10" y1="470.38" x2="48.50" y2="470.38" stroke="#000" stroke-width="0.5"/>
<line x1="47.10" y1="469.68" x2="48.50" y2="469.68" stroke="#000" stroke-width="0.5"/>
<line x1="47.10" y1="469.07" x2="48.50" y2="469.07" stroke="#000" stroke-width="0.5"/>
<line x1="47.10" y1="468.54" x2="48.50" y2="468.54" stroke="#000" stroke-width="0.5"/>
<text x="39.80" y="481.01" font-size="6.40" fill="#231f20" text-anchor="end" stroke="#231f20" stroke-width="0.1">10</text>
<text x="39.90" y="477.61" font-size="4.10" fill="#231f20" stroke="#231f20" stroke-width="0.1">0</text>
<line x1="45.90" y1="468.06" x2="48.50" y2="468.06" stroke="#000" stroke-width="0.75"/>
<line x1="47.10" y1="464.92" x2="48.50" y2="464.92" stroke="#000" stroke-width="0.5"/>
<line x1="47.10" y1="463.08" x2="48.50" y2="463.08" stroke="#000" stroke-width="0.5"/>
<line x1="47.10" y1="461.77" x2="48.50" y2="461.77" stroke="#000" stroke-width="0.5"/>
<line x1="47.10" y1="460.76" x2="48.50" y2="460.76" stroke="#000" stroke-width="0.5"/>
<line x1="47.10" y1="459.94" x2="48.50" y2="459.94" stroke="#000" stroke-width="0.5"/>
<line x1="47.10" y1="459.24" x2="48.50" y2="459.24" stroke="#000" stroke-width="0.5"/>
<line x1="47.10" y1="458.63" x2="48.50" y2="458.63" stroke="#000" stroke-width="0.5"/>
<line x1="47.10" y1="458.10" x2="48.50" y2="458.10" stroke="#000" stroke-width="0.5"/>
<text x="39.80" y="470.57" font-size="6.40" fill="#231f20" text-anchor="end" stroke="#231f20" stroke-width="0.1">10</text>
<text x="39.90" y="467.17" font-size="4.10" fill="#231f20" stroke="#231f20" stroke-width="0.1">1</text>
<line x1="45.90" y1="457.62" x2="48.50" y2="457.62" stroke="#000" stroke-width="0.75"/>
<line x1="47.10" y1="454.48" x2="48.50" y2="454.48" stroke="#000" stroke-width="0.5"/>
<line x1="47.10" y1="452.64" x2="48.50" y2="452.64" stroke="#000" stroke-width="0.5"/>
<line x1="47.10" y1="451.33" x2="48.50" y2="451.33" stroke="#000" stroke-width="0.5"/>
<line x1="47.10" y1="450.32" x2="48.50" y2="450.32" stroke="#000" stroke-width="0.5"/>
<line x1="47.10" y1="449.50" x2="48.50" y2="449.50" stroke="#000" stroke-width="0.5"/>
<line x1="47.10" y1="448.80" x2="48.50" y2="448.80" stroke="#000" stroke-width="0.5"/>
<line x1="47.10" y1="448.19" x2="48.50" y2="448.19" stroke="#000" stroke-width="0.5"/>
<line x1="47.10" y1="447.66" x2="48.50" y2="447.66" stroke="#000" stroke-width="0.5"/>
<text x="39.80" y="460.13" font-size="6.40" fill="#231f20" text-anchor="end" stroke="#231f20" stroke-width="0.1">10</text>
<text x="39.90" y="456.73" font-size="4.10" fill="#231f20" stroke="#231f20" stroke-width="0.1">2</text>
<line x1="45.90" y1="447.18" x2="48.50" y2="447.18" stroke="#000" stroke-width="0.75"/>
<line x1="47.10" y1="444.04" x2="48.50" y2="444.04" stroke="#000" stroke-width="0.5"/>
<line x1="47.10" y1="442.20" x2="48.50" y2="442.20" stroke="#000" stroke-width="0.5"/>
<line x1="47.10" y1="440.89" x2="48.50" y2="440.89" stroke="#000" stroke-width="0.5"/>
<line x1="47.10" y1="439.88" x2="48.50" y2="439.88" stroke="#000" stroke-width="0.5"/>
<line x1="47.10" y1="439.06" x2="48.50" y2="439.06" stroke="#000" stroke-width="0.5"/>
<line x1="47.10" y1="438.36" x2="48.50" y2="438.36" stroke="#000" stroke-width="0.5"/>
<line x1="47.10" y1="437.75" x2="48.50" y2="437.75" stroke="#000" stroke-width="0.5"/>
<line x1="47.10" y1="437.22" x2="48.50" y2="437.22" stroke="#000" stroke-width="0.5"/>
<text x="39.80" y="449.69" font-size="6.40" fill="#231f20" text-anchor="end" stroke="#231f20" stroke-width="0.1">10</text>
<text x="39.90" y="446.29" font-size="4.10" fill="#231f20" stroke="#231f20" stroke-width="0.1">3</text>
<line x1="45.90" y1="436.74" x2="48.50" y2="436.74" stroke="#000" stroke-width="0.75"/>
<line x1="47.10" y1="433.60" x2="48.50" y2="433.60" stroke="#000" stroke-width="0.5"/>
<line x1="47.10" y1="431.76" x2="48.50" y2="431.76" stroke="#000" stroke-width="0.5"/>
<line x1="47.10" y1="430.45" x2="48.50" y2="430.45" stroke="#000" stroke-width="0.5"/>
<line x1="47.10" y1="429.44" x2="48.50" y2="429.44" stroke="#000" stroke-width="0.5"/>
<line x1="47.10" y1="428.62" x2="48.50" y2="428.62" stroke="#000" stroke-width="0.5"/>
<line x1="47.10" y1="427.92" x2="48.50" y2="427.92" stroke="#000" stroke-width="0.5"/>
<line x1="47.10" y1="427.31" x2="48.50" y2="427.31" stroke="#000" stroke-width="0.5"/>
<line x1="47.10" y1="426.78" x2="48.50" y2="426.78" stroke="#000" stroke-width="0.5"/>
<text x="39.80" y="439.25" font-size="6.40" fill="#231f20" text-anchor="end" stroke="#231f20" stroke-width="0.1">10</text>
<text x="39.90" y="435.85" font-size="4.10" fill="#231f20" stroke="#231f20" stroke-width="0.1">4</text>
<line x1="45.90" y1="426.30" x2="48.50" y2="426.30" stroke="#000" stroke-width="0.75"/>
<text x="39.80" y="428.81" font-size="6.40" fill="#231f20" text-anchor="end" stroke="#231f20" stroke-width="0.1">10</text>
<text x="39.90" y="425.41" font-size="4.10" fill="#231f20" stroke="#231f20" stroke-width="0.1">5</text>
<line x1="48.80" y1="479.10" x2="48.80" y2="482.00" stroke="#000" stroke-width="0.75"/>
<line x1="50.92" y1="479.10" x2="50.92" y2="480.60" stroke="#000" stroke-width="0.5"/>
<line x1="53.04" y1="479.10" x2="53.04" y2="480.60" stroke="#000" stroke-width="0.5"/>
<line x1="55.16" y1="479.10" x2="55.16" y2="480.60" stroke="#000" stroke-width="0.5"/>
<line x1="57.28" y1="479.10" x2="57.28" y2="480.60" stroke="#000" stroke-width="0.5"/>
<text transform="translate(52.40,489.50) rotate(-45)" x="0" y="0" font-size="6.5" text-anchor="end" fill="#231f20" stroke="#231f20" stroke-width="0.1">0</text>
<line x1="59.40" y1="479.10" x2="59.40" y2="482.00" stroke="#000" stroke-width="0.75"/>
<line x1="61.52" y1="479.10" x2="61.52" y2="480.60" stroke="#000" stroke-width="0.5"/>
<line x1="63.64" y1="479.10" x2="63.64" y2="480.60" stroke="#000" stroke-width="0.5"/>
<line x1="65.76" y1="479.10" x2="65.76" y2="480.60" stroke="#000" stroke-width="0.5"/>
<line x1="67.88" y1="479.10" x2="67.88" y2="480.60" stroke="#000" stroke-width="0.5"/>
<text transform="translate(63.00,489.50) rotate(-45)" x="0" y="0" font-size="6.5" text-anchor="end" fill="#231f20" stroke="#231f20" stroke-width="0.1">50</text>
<line x1="70.00" y1="479.10" x2="70.00" y2="482.00" stroke="#000" stroke-width="0.75"/>
<line x1="72.12" y1="479.10" x2="72.12" y2="480.60" stroke="#000" stroke-width="0.5"/>
<line x1="74.24" y1="479.10" x2="74.24" y2="480.60" stroke="#000" stroke-width="0.5"/>
<line x1="76.36" y1="479.10" x2="76.36" y2="480.60" stroke="#000" stroke-width="0.5"/>
<line x1="78.48" y1="479.10" x2="78.48" y2="480.60" stroke="#000" stroke-width="0.5"/>
<text transform="translate(73.60,489.50) rotate(-45)" x="0" y="0" font-size="6.5" text-anchor="end" fill="#231f20" stroke="#231f20" stroke-width="0.1">100</text>
<line x1="80.60" y1="479.10" x2="80.60" y2="482.00" stroke="#000" stroke-width="0.75"/>
<line x1="82.72" y1="479.10" x2="82.72" y2="480.60" stroke="#000" stroke-width="0.5"/>
<line x1="84.84" y1="479.10" x2="84.84" y2="480.60" stroke="#000" stroke-width="0.5"/>
<line x1="86.96" y1="479.10" x2="86.96" y2="480.60" stroke="#000" stroke-width="0.5"/>
<line x1="89.08" y1="479.10" x2="89.08" y2="480.60" stroke="#000" stroke-width="0.5"/>
<text transform="translate(84.20,489.50) rotate(-45)" x="0" y="0" font-size="6.5" text-anchor="end" fill="#231f20" stroke="#231f20" stroke-width="0.1">150</text>
<line x1="91.20" y1="479.10" x2="91.20" y2="482.00" stroke="#000" stroke-width="0.75"/>
<line x1="93.32" y1="479.10" x2="93.32" y2="480.60" stroke="#000" stroke-width="0.5"/>
<line x1="95.44" y1="479.10" x2="95.44" y2="480.60" stroke="#000" stroke-width="0.5"/>
<line x1="97.56" y1="479.10" x2="97.56" y2="480.60" stroke="#000" stroke-width="0.5"/>
<line x1="99.68" y1="479.10" x2="99.68" y2="480.60" stroke="#000" stroke-width="0.5"/>
<text transform="translate(94.80,489.50) rotate(-45)" x="0" y="0" font-size="6.5" text-anchor="end" fill="#231f20" stroke="#231f20" stroke-width="0.1">200</text>
<line x1="101.80" y1="479.10" x2="101.80" y2="482.00" stroke="#000" stroke-width="0.75"/>
<text transform="translate(105.40,489.50) rotate(-45)" x="0" y="0" font-size="6.5" text-anchor="end" fill="#231f20" stroke="#231f20" stroke-width="0.1">250</text>
<text x="106.90" y="504.44" font-size="6.20" fill="#231f20" text-anchor="end" stroke="#231f20" stroke-width="0.1">(x10<tspan dy="-2.4" font-size="4.0">3</tspan><tspan dy="2.4">)</tspan></text>
<rect x="116.90" y="423.70" width="56.20" height="55.40" fill="none" stroke="#000" stroke-width="1.25"/>
<line x1="114.30" y1="478.50" x2="116.90" y2="478.50" stroke="#000" stroke-width="0.75"/>
<line x1="115.50" y1="475.36" x2="116.90" y2="475.36" stroke="#000" stroke-width="0.5"/>
<line x1="115.50" y1="473.52" x2="116.90" y2="473.52" stroke="#000" stroke-width="0.5"/>
<line x1="115.50" y1="472.21" x2="116.90" y2="472.21" stroke="#000" stroke-width="0.5"/>
<line x1="115.50" y1="471.20" x2="116.90" y2="471.20" stroke="#000" stroke-width="0.5"/>
<line x1="115.50" y1="470.38" x2="116.90" y2="470.38" stroke="#000" stroke-width="0.5"/>
<line x1="115.50" y1="469.68" x2="116.90" y2="469.68" stroke="#000" stroke-width="0.5"/>
<line x1="115.50" y1="469.07" x2="116.90" y2="469.07" stroke="#000" stroke-width="0.5"/>
<line x1="115.50" y1="468.54" x2="116.90" y2="468.54" stroke="#000" stroke-width="0.5"/>
<line x1="114.30" y1="468.06" x2="116.90" y2="468.06" stroke="#000" stroke-width="0.75"/>
<line x1="115.50" y1="464.92" x2="116.90" y2="464.92" stroke="#000" stroke-width="0.5"/>
<line x1="115.50" y1="463.08" x2="116.90" y2="463.08" stroke="#000" stroke-width="0.5"/>
<line x1="115.50" y1="461.77" x2="116.90" y2="461.77" stroke="#000" stroke-width="0.5"/>
<line x1="115.50" y1="460.76" x2="116.90" y2="460.76" stroke="#000" stroke-width="0.5"/>
<line x1="115.50" y1="459.94" x2="116.90" y2="459.94" stroke="#000" stroke-width="0.5"/>
<line x1="115.50" y1="459.24" x2="116.90" y2="459.24" stroke="#000" stroke-width="0.5"/>
<line x1="115.50" y1="458.63" x2="116.90" y2="458.63" stroke="#000" stroke-width="0.5"/>
<line x1="115.50" y1="458.10" x2="116.90" y2="458.10" stroke="#000" stroke-width="0.5"/>
<line x1="114.30" y1="457.62" x2="116.90" y2="457.62" stroke="#000" stroke-width="0.75"/>
<line x1="115.50" y1="454.48" x2="116.90" y2="454.48" stroke="#000" stroke-width="0.5"/>
<line x1="115.50" y1="452.64" x2="116.90" y2="452.64" stroke="#000" stroke-width="0.5"/>
<line x1="115.50" y1="451.33" x2="116.90" y2="451.33" stroke="#000" stroke-width="0.5"/>
<line x1="115.50" y1="450.32" x2="116.90" y2="450.32" stroke="#000" stroke-width="0.5"/>
<line x1="115.50" y1="449.50" x2="116.90" y2="449.50" stroke="#000" stroke-width="0.5"/>
<line x1="115.50" y1="448.80" x2="116.90" y2="448.80" stroke="#000" stroke-width="0.5"/>
<line x1="115.50" y1="448.19" x2="116.90" y2="448.19" stroke="#000" stroke-width="0.5"/>
<line x1="115.50" y1="447.66" x2="116.90" y2="447.66" stroke="#000" stroke-width="0.5"/>
<line x1="114.30" y1="447.18" x2="116.90" y2="447.18" stroke="#000" stroke-width="0.75"/>
<line x1="115.50" y1="444.04" x2="116.90" y2="444.04" stroke="#000" stroke-width="0.5"/>
<line x1="115.50" y1="442.20" x2="116.90" y2="442.20" stroke="#000" stroke-width="0.5"/>
<line x1="115.50" y1="440.89" x2="116.90" y2="440.89" stroke="#000" stroke-width="0.5"/>
<line x1="115.50" y1="439.88" x2="116.90" y2="439.88" stroke="#000" stroke-width="0.5"/>
<line x1="115.50" y1="439.06" x2="116.90" y2="439.06" stroke="#000" stroke-width="0.5"/>
<line x1="115.50" y1="438.36" x2="116.90" y2="438.36" stroke="#000" stroke-width="0.5"/>
<line x1="115.50" y1="437.75" x2="116.90" y2="437.75" stroke="#000" stroke-width="0.5"/>
<line x1="115.50" y1="437.22" x2="116.90" y2="437.22" stroke="#000" stroke-width="0.5"/>
<line x1="114.30" y1="436.74" x2="116.90" y2="436.74" stroke="#000" stroke-width="0.75"/>
<line x1="115.50" y1="433.60" x2="116.90" y2="433.60" stroke="#000" stroke-width="0.5"/>
<line x1="115.50" y1="431.76" x2="116.90" y2="431.76" stroke="#000" stroke-width="0.5"/>
<line x1="115.50" y1="430.45" x2="116.90" y2="430.45" stroke="#000" stroke-width="0.5"/>
<line x1="115.50" y1="429.44" x2="116.90" y2="429.44" stroke="#000" stroke-width="0.5"/>
<line x1="115.50" y1="428.62" x2="116.90" y2="428.62" stroke="#000" stroke-width="0.5"/>
<line x1="115.50" y1="427.92" x2="116.90" y2="427.92" stroke="#000" stroke-width="0.5"/>
<line x1="115.50" y1="427.31" x2="116.90" y2="427.31" stroke="#000" stroke-width="0.5"/>
<line x1="115.50" y1="426.78" x2="116.90" y2="426.78" stroke="#000" stroke-width="0.5"/>
<line x1="114.30" y1="426.30" x2="116.90" y2="426.30" stroke="#000" stroke-width="0.75"/>
<line x1="117.20" y1="479.10" x2="117.20" y2="482.00" stroke="#000" stroke-width="0.75"/>
<line x1="119.32" y1="479.10" x2="119.32" y2="480.60" stroke="#000" stroke-width="0.5"/>
<line x1="121.44" y1="479.10" x2="121.44" y2="480.60" stroke="#000" stroke-width="0.5"/>
<line x1="123.56" y1="479.10" x2="123.56" y2="480.60" stroke="#000" stroke-width="0.5"/>
<line x1="125.68" y1="479.10" x2="125.68" y2="480.60" stroke="#000" stroke-width="0.5"/>
<text transform="translate(120.80,489.50) rotate(-45)" x="0" y="0" font-size="6.5" text-anchor="end" fill="#231f20" stroke="#231f20" stroke-width="0.1">0</text>
<line x1="127.80" y1="479.10" x2="127.80" y2="482.00" stroke="#000" stroke-width="0.75"/>
<line x1="129.92" y1="479.10" x2="129.92" y2="480.60" stroke="#000" stroke-width="0.5"/>
<line x1="132.04" y1="479.10" x2="132.04" y2="480.60" stroke="#000" stroke-width="0.5"/>
<line x1="134.16" y1="479.10" x2="134.16" y2="480.60" stroke="#000" stroke-width="0.5"/>
<line x1="136.28" y1="479.10" x2="136.28" y2="480.60" stroke="#000" stroke-width="0.5"/>
<text transform="translate(131.40,489.50) rotate(-45)" x="0" y="0" font-size="6.5" text-anchor="end" fill="#231f20" stroke="#231f20" stroke-width="0.1">50</text>
<line x1="138.40" y1="479.10" x2="138.40" y2="482.00" stroke="#000" stroke-width="0.75"/>
<line x1="140.52" y1="479.10" x2="140.52" y2="480.60" stroke="#000" stroke-width="0.5"/>
<line x1="142.64" y1="479.10" x2="142.64" y2="480.60" stroke="#000" stroke-width="0.5"/>
<line x1="144.76" y1="479.10" x2="144.76" y2="480.60" stroke="#000" stroke-width="0.5"/>
<line x1="146.88" y1="479.10" x2="146.88" y2="480.60" stroke="#000" stroke-width="0.5"/>
<text transform="translate(142.00,489.50) rotate(-45)" x="0" y="0" font-size="6.5" text-anchor="end" fill="#231f20" stroke="#231f20" stroke-width="0.1">100</text>
<line x1="149.00" y1="479.10" x2="149.00" y2="482.00" stroke="#000" stroke-width="0.75"/>
<line x1="151.12" y1="479.10" x2="151.12" y2="480.60" stroke="#000" stroke-width="0.5"/>
<line x1="153.24" y1="479.10" x2="153.24" y2="480.60" stroke="#000" stroke-width="0.5"/>
<line x1="155.36" y1="479.10" x2="155.36" y2="480.60" stroke="#000" stroke-width="0.5"/>
<line x1="157.48" y1="479.10" x2="157.48" y2="480.60" stroke="#000" stroke-width="0.5"/>
<text transform="translate(152.60,489.50) rotate(-45)" x="0" y="0" font-size="6.5" text-anchor="end" fill="#231f20" stroke="#231f20" stroke-width="0.1">150</text>
<line x1="159.60" y1="479.10" x2="159.60" y2="482.00" stroke="#000" stroke-width="0.75"/>
<line x1="161.72" y1="479.10" x2="161.72" y2="480.60" stroke="#000" stroke-width="0.5"/>
<line x1="163.84" y1="479.10" x2="163.84" y2="480.60" stroke="#000" stroke-width="0.5"/>
<line x1="165.96" y1="479.10" x2="165.96" y2="480.60" stroke="#000" stroke-width="0.5"/>
<line x1="168.08" y1="479.10" x2="168.08" y2="480.60" stroke="#000" stroke-width="0.5"/>
<text transform="translate(163.20,489.50) rotate(-45)" x="0" y="0" font-size="6.5" text-anchor="end" fill="#231f20" stroke="#231f20" stroke-width="0.1">200</text>
<line x1="170.20" y1="479.10" x2="170.20" y2="482.00" stroke="#000" stroke-width="0.75"/>
<text transform="translate(173.80,489.50) rotate(-45)" x="0" y="0" font-size="6.5" text-anchor="end" fill="#231f20" stroke="#231f20" stroke-width="0.1">250</text>
<text x="175.30" y="504.44" font-size="6.20" fill="#231f20" text-anchor="end" stroke="#231f20" stroke-width="0.1">(x10<tspan dy="-2.4" font-size="4.0">3</tspan><tspan dy="2.4">)</tspan></text>
<rect x="185.40" y="423.70" width="56.20" height="55.40" fill="none" stroke="#000" stroke-width="1.25"/>
<line x1="182.80" y1="478.50" x2="185.40" y2="478.50" stroke="#000" stroke-width="0.75"/>
<line x1="184.00" y1="475.36" x2="185.40" y2="475.36" stroke="#000" stroke-width="0.5"/>
<line x1="184.00" y1="473.52" x2="185.40" y2="473.52" stroke="#000" stroke-width="0.5"/>
<line x1="184.00" y1="472.21" x2="185.40" y2="472.21" stroke="#000" stroke-width="0.5"/>
<line x1="184.00" y1="471.20" x2="185.40" y2="471.20" stroke="#000" stroke-width="0.5"/>
<line x1="184.00" y1="470.38" x2="185.40" y2="470.38" stroke="#000" stroke-width="0.5"/>
<line x1="184.00" y1="469.68" x2="185.40" y2="469.68" stroke="#000" stroke-width="0.5"/>
<line x1="184.00" y1="469.07" x2="185.40" y2="469.07" stroke="#000" stroke-width="0.5"/>
<line x1="184.00" y1="468.54" x2="185.40" y2="468.54" stroke="#000" stroke-width="0.5"/>
<line x1="182.80" y1="468.06" x2="185.40" y2="468.06" stroke="#000" stroke-width="0.75"/>
<line x1="184.00" y1="464.92" x2="185.40" y2="464.92" stroke="#000" stroke-width="0.5"/>
<line x1="184.00" y1="463.08" x2="185.40" y2="463.08" stroke="#000" stroke-width="0.5"/>
<line x1="184.00" y1="461.77" x2="185.40" y2="461.77" stroke="#000" stroke-width="0.5"/>
<line x1="184.00" y1="460.76" x2="185.40" y2="460.76" stroke="#000" stroke-width="0.5"/>
<line x1="184.00" y1="459.94" x2="185.40" y2="459.94" stroke="#000" stroke-width="0.5"/>
<line x1="184.00" y1="459.24" x2="185.40" y2="459.24" stroke="#000" stroke-width="0.5"/>
<line x1="184.00" y1="458.63" x2="185.40" y2="458.63" stroke="#000" stroke-width="0.5"/>
<line x1="184.00" y1="458.10" x2="185.40" y2="458.10" stroke="#000" stroke-width="0.5"/>
<line x1="182.80" y1="457.62" x2="185.40" y2="457.62" stroke="#000" stroke-width="0.75"/>
<line x1="184.00" y1="454.48" x2="185.40" y2="454.48" stroke="#000" stroke-width="0.5"/>
<line x1="184.00" y1="452.64" x2="185.40" y2="452.64" stroke="#000" stroke-width="0.5"/>
<line x1="184.00" y1="451.33" x2="185.40" y2="451.33" stroke="#000" stroke-width="0.5"/>
<line x1="184.00" y1="450.32" x2="185.40" y2="450.32" stroke="#000" stroke-width="0.5"/>
<line x1="184.00" y1="449.50" x2="185.40" y2="449.50" stroke="#000" stroke-width="0.5"/>
<line x1="184.00" y1="448.80" x2="185.40" y2="448.80" stroke="#000" stroke-width="0.5"/>
<line x1="184.00" y1="448.19" x2="185.40" y2="448.19" stroke="#000" stroke-width="0.5"/>
<line x1="184.00" y1="447.66" x2="185.40" y2="447.66" stroke="#000" stroke-width="0.5"/>
<line x1="182.80" y1="447.18" x2="185.40" y2="447.18" stroke="#000" stroke-width="0.75"/>
<line x1="184.00" y1="444.04" x2="185.40" y2="444.04" stroke="#000" stroke-width="0.5"/>
<line x1="184.00" y1="442.20" x2="185.40" y2="442.20" stroke="#000" stroke-width="0.5"/>
<line x1="184.00" y1="440.89" x2="185.40" y2="440.89" stroke="#000" stroke-width="0.5"/>
<line x1="184.00" y1="439.88" x2="185.40" y2="439.88" stroke="#000" stroke-width="0.5"/>
<line x1="184.00" y1="439.06" x2="185.40" y2="439.06" stroke="#000" stroke-width="0.5"/>
<line x1="184.00" y1="438.36" x2="185.40" y2="438.36" stroke="#000" stroke-width="0.5"/>
<line x1="184.00" y1="437.75" x2="185.40" y2="437.75" stroke="#000" stroke-width="0.5"/>
<line x1="184.00" y1="437.22" x2="185.40" y2="437.22" stroke="#000" stroke-width="0.5"/>
<line x1="182.80" y1="436.74" x2="185.40" y2="436.74" stroke="#000" stroke-width="0.75"/>
<line x1="184.00" y1="433.60" x2="185.40" y2="433.60" stroke="#000" stroke-width="0.5"/>
<line x1="184.00" y1="431.76" x2="185.40" y2="431.76" stroke="#000" stroke-width="0.5"/>
<line x1="184.00" y1="430.45" x2="185.40" y2="430.45" stroke="#000" stroke-width="0.5"/>
<line x1="184.00" y1="429.44" x2="185.40" y2="429.44" stroke="#000" stroke-width="0.5"/>
<line x1="184.00" y1="428.62" x2="185.40" y2="428.62" stroke="#000" stroke-width="0.5"/>
<line x1="184.00" y1="427.92" x2="185.40" y2="427.92" stroke="#000" stroke-width="0.5"/>
<line x1="184.00" y1="427.31" x2="185.40" y2="427.31" stroke="#000" stroke-width="0.5"/>
<line x1="184.00" y1="426.78" x2="185.40" y2="426.78" stroke="#000" stroke-width="0.5"/>
<line x1="182.80" y1="426.30" x2="185.40" y2="426.30" stroke="#000" stroke-width="0.75"/>
<line x1="185.70" y1="479.10" x2="185.70" y2="482.00" stroke="#000" stroke-width="0.75"/>
<line x1="187.82" y1="479.10" x2="187.82" y2="480.60" stroke="#000" stroke-width="0.5"/>
<line x1="189.94" y1="479.10" x2="189.94" y2="480.60" stroke="#000" stroke-width="0.5"/>
<line x1="192.06" y1="479.10" x2="192.06" y2="480.60" stroke="#000" stroke-width="0.5"/>
<line x1="194.18" y1="479.10" x2="194.18" y2="480.60" stroke="#000" stroke-width="0.5"/>
<text transform="translate(189.30,489.50) rotate(-45)" x="0" y="0" font-size="6.5" text-anchor="end" fill="#231f20" stroke="#231f20" stroke-width="0.1">0</text>
<line x1="196.30" y1="479.10" x2="196.30" y2="482.00" stroke="#000" stroke-width="0.75"/>
<line x1="198.42" y1="479.10" x2="198.42" y2="480.60" stroke="#000" stroke-width="0.5"/>
<line x1="200.54" y1="479.10" x2="200.54" y2="480.60" stroke="#000" stroke-width="0.5"/>
<line x1="202.66" y1="479.10" x2="202.66" y2="480.60" stroke="#000" stroke-width="0.5"/>
<line x1="204.78" y1="479.10" x2="204.78" y2="480.60" stroke="#000" stroke-width="0.5"/>
<text transform="translate(199.90,489.50) rotate(-45)" x="0" y="0" font-size="6.5" text-anchor="end" fill="#231f20" stroke="#231f20" stroke-width="0.1">50</text>
<line x1="206.90" y1="479.10" x2="206.90" y2="482.00" stroke="#000" stroke-width="0.75"/>
<line x1="209.02" y1="479.10" x2="209.02" y2="480.60" stroke="#000" stroke-width="0.5"/>
<line x1="211.14" y1="479.10" x2="211.14" y2="480.60" stroke="#000" stroke-width="0.5"/>
<line x1="213.26" y1="479.10" x2="213.26" y2="480.60" stroke="#000" stroke-width="0.5"/>
<line x1="215.38" y1="479.10" x2="215.38" y2="480.60" stroke="#000" stroke-width="0.5"/>
<text transform="translate(210.50,489.50) rotate(-45)" x="0" y="0" font-size="6.5" text-anchor="end" fill="#231f20" stroke="#231f20" stroke-width="0.1">100</text>
<line x1="217.50" y1="479.10" x2="217.50" y2="482.00" stroke="#000" stroke-width="0.75"/>
<line x1="219.62" y1="479.10" x2="219.62" y2="480.60" stroke="#000" stroke-width="0.5"/>
<line x1="221.74" y1="479.10" x2="221.74" y2="480.60" stroke="#000" stroke-width="0.5"/>
<line x1="223.86" y1="479.10" x2="223.86" y2="480.60" stroke="#000" stroke-width="0.5"/>
<line x1="225.98" y1="479.10" x2="225.98" y2="480.60" stroke="#000" stroke-width="0.5"/>
<text transform="translate(221.10,489.50) rotate(-45)" x="0" y="0" font-size="6.5" text-anchor="end" fill="#231f20" stroke="#231f20" stroke-width="0.1">150</text>
<line x1="228.10" y1="479.10" x2="228.10" y2="482.00" stroke="#000" stroke-width="0.75"/>
<line x1="230.22" y1="479.10" x2="230.22" y2="480.60" stroke="#000" stroke-width="0.5"/>
<line x1="232.34" y1="479.10" x2="232.34" y2="480.60" stroke="#000" stroke-width="0.5"/>
<line x1="234.46" y1="479.10" x2="234.46" y2="480.60" stroke="#000" stroke-width="0.5"/>
<line x1="236.58" y1="479.10" x2="236.58" y2="480.60" stroke="#000" stroke-width="0.5"/>
<text transform="translate(231.70,489.50) rotate(-45)" x="0" y="0" font-size="6.5" text-anchor="end" fill="#231f20" stroke="#231f20" stroke-width="0.1">200</text>
<line x1="238.70" y1="479.10" x2="238.70" y2="482.00" stroke="#000" stroke-width="0.75"/>
<text transform="translate(242.30,489.50) rotate(-45)" x="0" y="0" font-size="6.5" text-anchor="end" fill="#231f20" stroke="#231f20" stroke-width="0.1">250</text>
<text x="243.80" y="504.44" font-size="6.20" fill="#231f20" text-anchor="end" stroke="#231f20" stroke-width="0.1">(x10<tspan dy="-2.4" font-size="4.0">3</tspan><tspan dy="2.4">)</tspan></text>
<rect x="253.30" y="423.70" width="56.20" height="55.40" fill="none" stroke="#000" stroke-width="1.25"/>
<line x1="250.70" y1="478.50" x2="253.30" y2="478.50" stroke="#000" stroke-width="0.75"/>
<line x1="251.90" y1="475.36" x2="253.30" y2="475.36" stroke="#000" stroke-width="0.5"/>
<line x1="251.90" y1="473.52" x2="253.30" y2="473.52" stroke="#000" stroke-width="0.5"/>
<line x1="251.90" y1="472.21" x2="253.30" y2="472.21" stroke="#000" stroke-width="0.5"/>
<line x1="251.90" y1="471.20" x2="253.30" y2="471.20" stroke="#000" stroke-width="0.5"/>
<line x1="251.90" y1="470.38" x2="253.30" y2="470.38" stroke="#000" stroke-width="0.5"/>
<line x1="251.90" y1="469.68" x2="253.30" y2="469.68" stroke="#000" stroke-width="0.5"/>
<line x1="251.90" y1="469.07" x2="253.30" y2="469.07" stroke="#000" stroke-width="0.5"/>
<line x1="251.90" y1="468.54" x2="253.30" y2="468.54" stroke="#000" stroke-width="0.5"/>
<line x1="250.70" y1="468.06" x2="253.30" y2="468.06" stroke="#000" stroke-width="0.75"/>
<line x1="251.90" y1="464.92" x2="253.30" y2="464.92" stroke="#000" stroke-width="0.5"/>
<line x1="251.90" y1="463.08" x2="253.30" y2="463.08" stroke="#000" stroke-width="0.5"/>
<line x1="251.90" y1="461.77" x2="253.30" y2="461.77" stroke="#000" stroke-width="0.5"/>
<line x1="251.90" y1="460.76" x2="253.30" y2="460.76" stroke="#000" stroke-width="0.5"/>
<line x1="251.90" y1="459.94" x2="253.30" y2="459.94" stroke="#000" stroke-width="0.5"/>
<line x1="251.90" y1="459.24" x2="253.30" y2="459.24" stroke="#000" stroke-width="0.5"/>
<line x1="251.90" y1="458.63" x2="253.30" y2="458.63" stroke="#000" stroke-width="0.5"/>
<line x1="251.90" y1="458.10" x2="253.30" y2="458.10" stroke="#000" stroke-width="0.5"/>
<line x1="250.70" y1="457.62" x2="253.30" y2="457.62" stroke="#000" stroke-width="0.75"/>
<line x1="251.90" y1="454.48" x2="253.30" y2="454.48" stroke="#000" stroke-width="0.5"/>
<line x1="251.90" y1="452.64" x2="253.30" y2="452.64" stroke="#000" stroke-width="0.5"/>
<line x1="251.90" y1="451.33" x2="253.30" y2="451.33" stroke="#000" stroke-width="0.5"/>
<line x1="251.90" y1="450.32" x2="253.30" y2="450.32" stroke="#000" stroke-width="0.5"/>
<line x1="251.90" y1="449.50" x2="253.30" y2="449.50" stroke="#000" stroke-width="0.5"/>
<line x1="251.90" y1="448.80" x2="253.30" y2="448.80" stroke="#000" stroke-width="0.5"/>
<line x1="251.90" y1="448.19" x2="253.30" y2="448.19" stroke="#000" stroke-width="0.5"/>
<line x1="251.90" y1="447.66" x2="253.30" y2="447.66" stroke="#000" stroke-width="0.5"/>
<line x1="250.70" y1="447.18" x2="253.30" y2="447.18" stroke="#000" stroke-width="0.75"/>
<line x1="251.90" y1="444.04" x2="253.30" y2="444.04" stroke="#000" stroke-width="0.5"/>
<line x1="251.90" y1="442.20" x2="253.30" y2="442.20" stroke="#000" stroke-width="0.5"/>
<line x1="251.90" y1="440.89" x2="253.30" y2="440.89" stroke="#000" stroke-width="0.5"/>
<line x1="251.90" y1="439.88" x2="253.30" y2="439.88" stroke="#000" stroke-width="0.5"/>
<line x1="251.90" y1="439.06" x2="253.30" y2="439.06" stroke="#000" stroke-width="0.5"/>
<line x1="251.90" y1="438.36" x2="253.30" y2="438.36" stroke="#000" stroke-width="0.5"/>
<line x1="251.90" y1="437.75" x2="253.30" y2="437.75" stroke="#000" stroke-width="0.5"/>
<line x1="251.90" y1="437.22" x2="253.30" y2="437.22" stroke="#000" stroke-width="0.5"/>
<line x1="250.70" y1="436.74" x2="253.30" y2="436.74" stroke="#000" stroke-width="0.75"/>
<line x1="251.90" y1="433.60" x2="253.30" y2="433.60" stroke="#000" stroke-width="0.5"/>
<line x1="251.90" y1="431.76" x2="253.30" y2="431.76" stroke="#000" stroke-width="0.5"/>
<line x1="251.90" y1="430.45" x2="253.30" y2="430.45" stroke="#000" stroke-width="0.5"/>
<line x1="251.90" y1="429.44" x2="253.30" y2="429.44" stroke="#000" stroke-width="0.5"/>
<line x1="251.90" y1="428.62" x2="253.30" y2="428.62" stroke="#000" stroke-width="0.5"/>
<line x1="251.90" y1="427.92" x2="253.30" y2="427.92" stroke="#000" stroke-width="0.5"/>
<line x1="251.90" y1="427.31" x2="253.30" y2="427.31" stroke="#000" stroke-width="0.5"/>
<line x1="251.90" y1="426.78" x2="253.30" y2="426.78" stroke="#000" stroke-width="0.5"/>
<line x1="250.70" y1="426.30" x2="253.30" y2="426.30" stroke="#000" stroke-width="0.75"/>
<line x1="253.60" y1="479.10" x2="253.60" y2="482.00" stroke="#000" stroke-width="0.75"/>
<line x1="255.72" y1="479.10" x2="255.72" y2="480.60" stroke="#000" stroke-width="0.5"/>
<line x1="257.84" y1="479.10" x2="257.84" y2="480.60" stroke="#000" stroke-width="0.5"/>
<line x1="259.96" y1="479.10" x2="259.96" y2="480.60" stroke="#000" stroke-width="0.5"/>
<line x1="262.08" y1="479.10" x2="262.08" y2="480.60" stroke="#000" stroke-width="0.5"/>
<text transform="translate(257.20,489.50) rotate(-45)" x="0" y="0" font-size="6.5" text-anchor="end" fill="#231f20" stroke="#231f20" stroke-width="0.1">0</text>
<line x1="264.20" y1="479.10" x2="264.20" y2="482.00" stroke="#000" stroke-width="0.75"/>
<line x1="266.32" y1="479.10" x2="266.32" y2="480.60" stroke="#000" stroke-width="0.5"/>
<line x1="268.44" y1="479.10" x2="268.44" y2="480.60" stroke="#000" stroke-width="0.5"/>
<line x1="270.56" y1="479.10" x2="270.56" y2="480.60" stroke="#000" stroke-width="0.5"/>
<line x1="272.68" y1="479.10" x2="272.68" y2="480.60" stroke="#000" stroke-width="0.5"/>
<text transform="translate(267.80,489.50) rotate(-45)" x="0" y="0" font-size="6.5" text-anchor="end" fill="#231f20" stroke="#231f20" stroke-width="0.1">50</text>
<line x1="274.80" y1="479.10" x2="274.80" y2="482.00" stroke="#000" stroke-width="0.75"/>
<line x1="276.92" y1="479.10" x2="276.92" y2="480.60" stroke="#000" stroke-width="0.5"/>
<line x1="279.04" y1="479.10" x2="279.04" y2="480.60" stroke="#000" stroke-width="0.5"/>
<line x1="281.16" y1="479.10" x2="281.16" y2="480.60" stroke="#000" stroke-width="0.5"/>
<line x1="283.28" y1="479.10" x2="283.28" y2="480.60" stroke="#000" stroke-width="0.5"/>
<text transform="translate(278.40,489.50) rotate(-45)" x="0" y="0" font-size="6.5" text-anchor="end" fill="#231f20" stroke="#231f20" stroke-width="0.1">100</text>
<line x1="285.40" y1="479.10" x2="285.40" y2="482.00" stroke="#000" stroke-width="0.75"/>
<line x1="287.52" y1="479.10" x2="287.52" y2="480.60" stroke="#000" stroke-width="0.5"/>
<line x1="289.64" y1="479.10" x2="289.64" y2="480.60" stroke="#000" stroke-width="0.5"/>
<line x1="291.76" y1="479.10" x2="291.76" y2="480.60" stroke="#000" stroke-width="0.5"/>
<line x1="293.88" y1="479.10" x2="293.88" y2="480.60" stroke="#000" stroke-width="0.5"/>
<text transform="translate(289.00,489.50) rotate(-45)" x="0" y="0" font-size="6.5" text-anchor="end" fill="#231f20" stroke="#231f20" stroke-width="0.1">150</text>
<line x1="296.00" y1="479.10" x2="296.00" y2="482.00" stroke="#000" stroke-width="0.75"/>
<line x1="298.12" y1="479.10" x2="298.12" y2="480.60" stroke="#000" stroke-width="0.5"/>
<line x1="300.24" y1="479.10" x2="300.24" y2="480.60" stroke="#000" stroke-width="0.5"/>
<line x1="302.36" y1="479.10" x2="302.36" y2="480.60" stroke="#000" stroke-width="0.5"/>
<line x1="304.48" y1="479.10" x2="304.48" y2="480.60" stroke="#000" stroke-width="0.5"/>
<text transform="translate(299.60,489.50) rotate(-45)" x="0" y="0" font-size="6.5" text-anchor="end" fill="#231f20" stroke="#231f20" stroke-width="0.1">200</text>
<line x1="306.60" y1="479.10" x2="306.60" y2="482.00" stroke="#000" stroke-width="0.75"/>
<text transform="translate(310.20,489.50) rotate(-45)" x="0" y="0" font-size="6.5" text-anchor="end" fill="#231f20" stroke="#231f20" stroke-width="0.1">250</text>
<text x="311.70" y="504.44" font-size="6.20" fill="#231f20" text-anchor="end" stroke="#231f20" stroke-width="0.1">(x10<tspan dy="-2.4" font-size="4.0">3</tspan><tspan dy="2.4">)</tspan></text>
<text x="90.65" y="432.88" font-size="6.90" fill="#c42a4f" text-anchor="middle" textLength="12.5" lengthAdjust="spacingAndGlyphs" stroke="#c42a4f" stroke-width="0.15">27.9</text>
<text x="86.35" y="458.38" font-size="6.90" fill="#c42a4f" text-anchor="middle" textLength="5.7" lengthAdjust="spacingAndGlyphs" stroke="#c42a4f" stroke-width="0.15">7.7</text>
<text x="91.15" y="468.38" font-size="6.90" fill="#c42a4f" text-anchor="middle" textLength="11.5" lengthAdjust="spacingAndGlyphs" stroke="#c42a4f" stroke-width="0.15">56.7</text>
<text x="79.60" y="476.58" font-size="6.90" fill="#c42a4f" text-anchor="middle" textLength="9.6" lengthAdjust="spacingAndGlyphs" stroke="#c42a4f" stroke-width="0.15">0.3</text>
<text x="157.70" y="432.68" font-size="6.90" fill="#c42a4f" text-anchor="middle" textLength="13.0" lengthAdjust="spacingAndGlyphs" stroke="#c42a4f" stroke-width="0.15">52.2</text>
<text x="158.40" y="448.38" font-size="6.90" fill="#c42a4f" text-anchor="middle" textLength="9.2" lengthAdjust="spacingAndGlyphs" stroke="#c42a4f" stroke-width="0.15">4.8</text>
<text x="131.95" y="460.08" font-size="6.90" fill="#c42a4f" text-anchor="middle" textLength="13.1" lengthAdjust="spacingAndGlyphs" stroke="#c42a4f" stroke-width="0.15">35.6</text>
<text x="132.35" y="477.28" font-size="6.90" fill="#c42a4f" text-anchor="middle" textLength="8.3" lengthAdjust="spacingAndGlyphs" stroke="#c42a4f" stroke-width="0.15">1.2</text>
<text x="220.20" y="432.68" font-size="6.90" fill="#c42a4f" text-anchor="middle" textLength="13.4" lengthAdjust="spacingAndGlyphs" stroke="#c42a4f" stroke-width="0.15">32.6</text>
<text x="220.30" y="457.28" font-size="6.90" fill="#c42a4f" text-anchor="middle" textLength="9.2" lengthAdjust="spacingAndGlyphs" stroke="#c42a4f" stroke-width="0.15">8.9</text>
<text x="210.00" y="472.98" font-size="6.90" fill="#c42a4f" text-anchor="middle" textLength="12.4" lengthAdjust="spacingAndGlyphs" stroke="#c42a4f" stroke-width="0.15">37.9</text>
<text x="197.05" y="476.08" font-size="6.90" fill="#c42a4f" text-anchor="middle" textLength="8.9" lengthAdjust="spacingAndGlyphs" stroke="#c42a4f" stroke-width="0.15">3.6</text>
<text x="288.30" y="432.68" font-size="6.90" fill="#c42a4f" text-anchor="middle" textLength="7.2" lengthAdjust="spacingAndGlyphs" stroke="#c42a4f" stroke-width="0.15">87</text>
<text x="300.35" y="449.58" font-size="6.90" fill="#c42a4f" text-anchor="middle" textLength="12.3" lengthAdjust="spacingAndGlyphs" stroke="#c42a4f" stroke-width="0.15">14.9</text>
<text x="268.30" y="462.68" font-size="6.90" fill="#c42a4f" text-anchor="middle" textLength="11.2" lengthAdjust="spacingAndGlyphs" stroke="#c42a4f" stroke-width="0.15">67.1</text>
<text x="266.50" y="476.98" font-size="6.90" fill="#c42a4f" text-anchor="middle" textLength="8.6" lengthAdjust="spacingAndGlyphs" stroke="#c42a4f" stroke-width="0.15">4.5</text>
<circle cx="74.8" cy="430.5" r="1.0" fill="#1d2f80"/>
<line x1="75.60" y1="430.50" x2="78.00" y2="430.50" stroke="#3f5c97" stroke-width="0.5"/>
<text x="78.70" y="432.78" font-size="6.60" fill="#3f5c97" stroke="#3f5c97" stroke-width="0.1">S</text>
<circle cx="75.2" cy="448.0" r="1.0" fill="#1d2f80"/>
<text x="78.50" y="450.22" font-size="7.00" fill="#3f5c97" stroke="#3f5c97" stroke-width="0.1">G<tspan dy="1.7" font-size="4.3">2</tspan><tspan dy="-1.7">/M</tspan></text>
<circle cx="63.8" cy="466.2" r="1.0" fill="#1d2f80"/>
<text x="65.70" y="468.42" font-size="7.00" fill="#3f5c97" stroke="#3f5c97" stroke-width="0.1">G<tspan dy="1.7" font-size="4.3">0</tspan><tspan dy="-1.7">/G</tspan><tspan dy="1.7" font-size="4.3">1</tspan></text>
<circle cx="50.8" cy="475.0" r="1.0" fill="#1d2f80"/>
<text x="55.50" y="476.44" font-size="6.50" fill="#3f5c97" stroke="#3f5c97" stroke-width="0.1">sub-G<tspan dy="1.6" font-size="4.0">1</tspan></text>
<line x1="29.50" y1="479.90" x2="29.50" y2="502.20" stroke="#111" stroke-width="1.1"/>
<line x1="29.00" y1="501.70" x2="48.30" y2="501.70" stroke="#111" stroke-width="1.1"/>
<path d="M27.4,480.9 L29.5,475.9 L31.6,480.9 Z" fill="#000"/>
<path d="M47.3,499.59999999999997 L52.3,501.7 L47.3,503.8 Z" fill="#000"/>
<text transform="translate(21.20,490.80) rotate(-90)" x="0" y="2.59" font-size="7.50" fill="#231f20" text-anchor="middle" textLength="12.4" lengthAdjust="spacingAndGlyphs" stroke="#231f20" stroke-width="0.35">BrdU</text>
<text x="38.90" y="510.05" font-size="7.40" fill="#231f20" text-anchor="middle" textLength="16.6" lengthAdjust="spacingAndGlyphs" stroke="#231f20" stroke-width="0.35">7-AAD</text>
<rect x="338.30" y="22.50" width="56.00" height="10.10" fill="none" stroke="#111" stroke-width="0.8"/>
<text x="366.40" y="30.13" font-size="7.32" fill="#231f20" text-anchor="middle" textLength="49.0" lengthAdjust="spacingAndGlyphs" stroke="#231f20" stroke-width="0.1">Salvage Pathway</text>
<rect x="418.90" y="22.50" width="56.30" height="9.90" fill="none" stroke="#111" stroke-width="0.8"/>
<text x="447.20" y="30.03" font-size="7.32" fill="#231f20" text-anchor="middle" textLength="49.0" lengthAdjust="spacingAndGlyphs" stroke="#231f20" stroke-width="0.1">De novo Pathway</text>
<line x1="363.40" y1="34.60" x2="363.40" y2="192.00" stroke="#5b6379" stroke-width="0.75"/>
<line x1="365.60" y1="34.60" x2="365.60" y2="192.00" stroke="#5b6379" stroke-width="0.75"/>
<line x1="352.00" y1="59.00" x2="387.70" y2="59.00" stroke="#444" stroke-width="0.85"/>
<path d="M387.20,57.50 L390.20,59.00 L387.20,60.50 Z" fill="#444"/>
<rect x="360.20" y="55.10" width="8.30" height="7.80" fill="#454d66"/>
<line x1="352.00" y1="100.60" x2="387.70" y2="100.60" stroke="#444" stroke-width="0.85"/>
<path d="M387.20,99.10 L390.20,100.60 L387.20,102.10 Z" fill="#444"/>
<rect x="360.20" y="96.70" width="8.30" height="7.80" fill="#454d66"/>
<line x1="352.00" y1="183.80" x2="387.70" y2="183.80" stroke="#444" stroke-width="0.85"/>
<path d="M387.20,182.30 L390.20,183.80 L387.20,185.30 Z" fill="#444"/>
<rect x="360.20" y="179.90" width="8.30" height="7.80" fill="#454d66"/>
<text x="395.20" y="61.53" font-size="7.32" fill="#231f20" textLength="16.3" lengthAdjust="spacingAndGlyphs" stroke="#231f20" stroke-width="0.1">Uracil</text>
<text x="392.90" y="103.13" font-size="7.32" fill="#231f20" textLength="20.2" lengthAdjust="spacingAndGlyphs" stroke="#231f20" stroke-width="0.1">Uridine</text>
<text x="391.40" y="186.23" font-size="7.32" fill="#231f20" textLength="23.6" lengthAdjust="spacingAndGlyphs" stroke="#231f20" stroke-width="0.1">Cytidine</text>
<line x1="403.00" y1="78.00" x2="403.00" y2="65.80" stroke="#111" stroke-width="0.8"/>
<path d="M401.50,66.30 L403.00,63.30 L404.50,66.30 Z" fill="#111"/>
<line x1="403.00" y1="78.00" x2="403.00" y2="90.70" stroke="#111" stroke-width="0.8"/>
<path d="M401.50,90.20 L403.00,93.20 L404.50,90.20 Z" fill="#111"/>
<line x1="402.80" y1="178.00" x2="402.80" y2="111.10" stroke="#111" stroke-width="0.8"/>
<path d="M401.30,111.60 L402.80,108.60 L404.30,111.60 Z" fill="#111"/>
<text x="384.60" y="146.03" font-size="7.32" fill="#3d5a9c" textLength="14.2" lengthAdjust="spacingAndGlyphs" stroke="#3d5a9c" stroke-width="0.1">CDA</text>
<line x1="417.80" y1="100.60" x2="434.30" y2="100.60" stroke="#222" stroke-width="0.8"/>
<path d="M433.80,99.10 L436.80,100.60 L433.80,102.10 Z" fill="#222"/>
<line x1="418.50" y1="183.50" x2="434.50" y2="183.50" stroke="#222" stroke-width="0.8"/>
<path d="M434.00,182.00 L437.00,183.50 L434.00,185.00 Z" fill="#222"/>
<text transform="translate(343.60,113.60) rotate(-90)" x="0" y="2.48" font-size="7.20" fill="#231f20" text-anchor="middle" textLength="103.5" lengthAdjust="spacingAndGlyphs" stroke="#231f20" stroke-width="0.1">Pyrimidines derived from metabolism</text>
<text x="366.30" y="200.23" font-size="7.32" fill="#231f20" text-anchor="middle" textLength="31.3" lengthAdjust="spacingAndGlyphs" stroke="#231f20" stroke-width="0.1">Nucleoside</text>
<text x="366.30" y="208.83" font-size="7.32" fill="#231f20" text-anchor="middle" textLength="34.0" lengthAdjust="spacingAndGlyphs" stroke="#231f20" stroke-width="0.1">transporters</text>
<text x="447.00" y="40.83" font-size="7.32" fill="#231f20" text-anchor="middle" textLength="15.6" lengthAdjust="spacingAndGlyphs" stroke="#231f20" stroke-width="0.1">L-Gln</text>
<line x1="447.70" y1="42.50" x2="447.70" y2="50.70" stroke="#111" stroke-width="0.8"/>
<path d="M446.20,50.20 L447.70,53.20 L449.20,50.20 Z" fill="#111"/>
<text x="453.40" y="50.73" font-size="7.32" fill="#3d5a9c" textLength="13.7" lengthAdjust="spacingAndGlyphs" stroke="#3d5a9c" stroke-width="0.1">CAD</text>
<text x="447.30" y="61.33" font-size="7.32" fill="#231f20" text-anchor="middle" textLength="19.5" lengthAdjust="spacingAndGlyphs" stroke="#231f20" stroke-width="0.1">DHOA</text>
<line x1="447.70" y1="63.00" x2="447.70" y2="70.80" stroke="#111" stroke-width="0.8"/>
<path d="M446.20,70.30 L447.70,73.30 L449.20,70.30 Z" fill="#111"/>
<path d="M444.9,64.7 L450.5,70.9 M450.5,64.7 L444.9,70.9" fill="none" stroke="#c0163c" stroke-width="1.15"/>
<text x="453.40" y="70.43" font-size="7.32" fill="#3d5a9c" textLength="24.3" lengthAdjust="spacingAndGlyphs" stroke="#3d5a9c" stroke-width="0.1">DHODH</text>
<line x1="480.20" y1="64.90" x2="480.20" y2="70.70" stroke="#c0163c" stroke-width="1.5"/>
<line x1="480.50" y1="67.80" x2="487.00" y2="67.80" stroke="#c0163c" stroke-width="1.2"/>
<text x="488.30" y="70.43" font-size="7.32" fill="#c42a4f" textLength="24.3" lengthAdjust="spacingAndGlyphs" stroke="#c42a4f" stroke-width="0.1">PTC299</text>
<text x="447.50" y="81.43" font-size="7.32" fill="#231f20" text-anchor="middle" textLength="9.5" lengthAdjust="spacingAndGlyphs" stroke="#231f20" stroke-width="0.1">OA</text>
<line x1="447.70" y1="83.60" x2="447.70" y2="92.10" stroke="#111" stroke-width="0.8"/>
<path d="M446.20,91.60 L447.70,94.60 L449.20,91.60 Z" fill="#111"/>
<text x="453.40" y="90.53" font-size="7.32" fill="#3d5a9c" textLength="19.0" lengthAdjust="spacingAndGlyphs" stroke="#3d5a9c" stroke-width="0.1">UMPS</text>
<text x="447.10" y="102.03" font-size="7.32" fill="#231f20" text-anchor="middle" textLength="13.3" lengthAdjust="spacingAndGlyphs" stroke="#231f20" stroke-width="0.1">UMP</text>
<line x1="447.10" y1="104.60" x2="447.10" y2="112.50" stroke="#111" stroke-width="0.8"/>
<path d="M445.60,112.00 L447.10,115.00 L448.60,112.00 Z" fill="#111"/>
<text x="447.10" y="123.83" font-size="7.32" fill="#231f20" text-anchor="middle" textLength="13.3" lengthAdjust="spacingAndGlyphs" stroke="#231f20" stroke-width="0.1">UDP</text>
<line x1="447.10" y1="125.80" x2="447.10" y2="133.00" stroke="#111" stroke-width="0.8"/>
<path d="M445.60,132.50 L447.10,135.50 L448.60,132.50 Z" fill="#111"/>
<text x="447.10" y="144.33" font-size="7.32" fill="#231f20" text-anchor="middle" textLength="12.6" lengthAdjust="spacingAndGlyphs" stroke="#231f20" stroke-width="0.1">UTP</text>
<line x1="447.10" y1="146.60" x2="447.10" y2="154.10" stroke="#111" stroke-width="0.8"/>
<path d="M445.60,153.60 L447.10,156.60 L448.60,153.60 Z" fill="#111"/>
<text x="447.10" y="164.93" font-size="7.32" fill="#231f20" text-anchor="middle" textLength="12.6" lengthAdjust="spacingAndGlyphs" stroke="#231f20" stroke-width="0.1">CTP</text>
<line x1="447.10" y1="167.20" x2="447.10" y2="175.30" stroke="#111" stroke-width="0.8"/>
<path d="M445.60,174.80 L447.10,177.80 L448.60,174.80 Z" fill="#111"/>
<text x="447.80" y="185.63" font-size="7.32" fill="#231f20" text-anchor="middle" textLength="16.5" lengthAdjust="spacingAndGlyphs" stroke="#231f20" stroke-width="0.1">dCTP</text>
<line x1="457.80" y1="180.00" x2="457.80" y2="184.90" stroke="#c42a4f" stroke-width="0.7"/>
<path d="M456.70,184.40 L457.80,186.60 L458.90,184.40 Z" fill="#c42a4f"/>
<line x1="475.40" y1="163.00" x2="459.00" y2="175.60" stroke="#c0163c" stroke-width="1.15" stroke-dasharray="2.2,1.3"/>
<path d="M460.9,172.3 L456.4,177.3 L462.6,175.4 Z" fill="#c42a4f"/>
<text x="478.80" y="178.23" font-size="7.32" fill="#c42a4f" textLength="14.2" lengthAdjust="spacingAndGlyphs" stroke="#c42a4f" stroke-width="0.1">DAC</text>
<path d="M491.25,123.5 L498.1,127.7 M499.0,130.5 L499.0,138.1 L493.8,141.0 M489.2,141.0 L483.8,137.8 L483.8,130.5 M484.7,127.70000000000002 L491.25,123.5" fill="none" stroke="#1a1a1a" stroke-width="0.8"/>
<path d="M491.55,125.1 L497.0,128.8" fill="none" stroke="#1a1a1a" stroke-width="0.5"/>
<path d="M485.2,137.0 L485.2,130.9" fill="none" stroke="#1a1a1a" stroke-width="0.5"/>
<line x1="491.25" y1="123.50" x2="491.25" y2="117.60" stroke="#1a1a1a" stroke-width="0.8"/>
<text x="488.90" y="115.90" font-size="5.50" fill="#1a1a1a" stroke="#1a1a1a" stroke-width="0.1">NH<tspan dy="1.5" font-size="3.6">2</tspan></text>
<text x="499.00" y="129.89" font-size="4.60" fill="#222" text-anchor="middle" stroke="#222" stroke-width="0.12">N</text>
<text x="483.80" y="129.89" font-size="4.60" fill="#222" text-anchor="middle" stroke="#222" stroke-width="0.12">N</text>
<text x="491.50" y="144.39" font-size="4.60" fill="#222" text-anchor="middle" stroke="#222" stroke-width="0.12">N</text>
<path d="M499.0,138.1 L504.3,141.0 M499.3,136.6 L504.8,139.6" fill="none" stroke="#1a1a1a" stroke-width="0.5"/>
<text x="506.60" y="143.80" font-size="5.50" fill="#1a1a1a" text-anchor="middle" stroke="#1a1a1a" stroke-width="0.1">O</text>
<line x1="491.50" y1="145.10" x2="491.30" y2="151.80" stroke="#1a1a1a" stroke-width="0.8"/>
<text x="485.30" y="149.79" font-size="5.20" fill="#1a1a1a" text-anchor="middle" stroke="#1a1a1a" stroke-width="0.1">O</text>
<path d="M487.1,149.0 L491.3,151.8 L489.6,157.6 L480.3,157.6 L478.8,152.3 L483.5,149.0" fill="none" stroke="#1a1a1a" stroke-width="0.8"/>
<path d="M489.6,157.9 L480.8,157.9" fill="none" stroke="#1a1a1a" stroke-width="1.2"/>
<path d="M478.8,152.3 L477.0,142.2 L472.3,141.9" fill="none" stroke="#1a1a1a" stroke-width="0.8"/>
<text x="467.50" y="143.73" font-size="5.30" fill="#1a1a1a" text-anchor="middle" stroke="#1a1a1a" stroke-width="0.1">HO</text>
<line x1="480.30" y1="157.60" x2="481.10" y2="162.60" stroke="#1a1a1a" stroke-width="1.0"/>
<text x="482.70" y="167.83" font-size="5.30" fill="#1a1a1a" text-anchor="middle" stroke="#1a1a1a" stroke-width="0.1">OH</text>
<text x="375.30" y="224.99" font-size="4.60" fill="#222" text-anchor="middle" textLength="25.2" lengthAdjust="spacingAndGlyphs">Normal State</text>
<rect x="350.30" y="228.60" width="2.30" height="66.20" fill="#3d4660"/>
<rect x="373.20" y="228.60" width="2.30" height="45.80" fill="#3d4660"/>
<line x1="352.60" y1="238.80" x2="355.40" y2="238.80" stroke="#aab" stroke-width="0.4"/>
<line x1="370.40" y1="238.80" x2="373.20" y2="238.80" stroke="#aab" stroke-width="0.4"/>
<path d="M355.4,235.85000000000002 H362.7 L364.9,238.8 L362.7,241.75 H355.4 Z" fill="#5eaee6"/>
<path d="M362.7,235.85000000000002 H370.4 V241.75 H362.7 L364.9,238.8 Z" fill="#e8961c"/>
<text x="359.00" y="239.84" font-size="3.00" fill="#cfe6f8" text-anchor="middle" stroke="#cfe6f8" stroke-width="0.1">G</text>
<text x="367.30" y="239.84" font-size="3.00" fill="#f6d9a8" text-anchor="middle" stroke="#f6d9a8" stroke-width="0.1">C</text>
<line x1="352.60" y1="249.60" x2="355.40" y2="249.60" stroke="#aab" stroke-width="0.4"/>
<line x1="370.40" y1="249.60" x2="373.20" y2="249.60" stroke="#aab" stroke-width="0.4"/>
<path d="M355.9,246.65 H363.2 L361.0,249.6 L363.2,252.54999999999998 H355.9 Z" fill="#1f3a78"/>
<path d="M363.2,246.65 H370.7 V252.54999999999998 H363.2 L361.0,249.6 Z" fill="#cf1289"/>
<text x="358.60" y="250.63" font-size="3.00" fill="#b8c4e0" text-anchor="middle" stroke="#b8c4e0" stroke-width="0.1">T</text>
<text x="367.10" y="250.63" font-size="3.00" fill="#f4c2e0" text-anchor="middle" stroke="#f4c2e0" stroke-width="0.1">A</text>
<line x1="352.60" y1="260.10" x2="355.40" y2="260.10" stroke="#aab" stroke-width="0.4"/>
<line x1="370.40" y1="260.10" x2="373.20" y2="260.10" stroke="#aab" stroke-width="0.4"/>
<path d="M355.4,257.15000000000003 H362.7 L364.9,260.1 L362.7,263.05 H355.4 Z" fill="#5eaee6"/>
<path d="M362.7,257.15000000000003 H370.4 V263.05 H362.7 L364.9,260.1 Z" fill="#e8961c"/>
<text x="359.00" y="261.14" font-size="3.00" fill="#cfe6f8" text-anchor="middle" stroke="#cfe6f8" stroke-width="0.1">G</text>
<text x="367.30" y="261.14" font-size="3.00" fill="#f6d9a8" text-anchor="middle" stroke="#f6d9a8" stroke-width="0.1">C</text>
<line x1="352.60" y1="270.60" x2="355.40" y2="270.60" stroke="#aab" stroke-width="0.4"/>
<line x1="370.40" y1="270.60" x2="373.20" y2="270.60" stroke="#aab" stroke-width="0.4"/>
<path d="M355.9,267.65000000000003 H363.2 L361.0,270.6 L363.2,273.55 H355.9 Z" fill="#1f3a78"/>
<path d="M363.2,267.65000000000003 H370.7 V273.55 H363.2 L361.0,270.6 Z" fill="#cf1289"/>
<text x="358.60" y="271.64" font-size="3.00" fill="#b8c4e0" text-anchor="middle" stroke="#b8c4e0" stroke-width="0.1">T</text>
<text x="367.10" y="271.64" font-size="3.00" fill="#f4c2e0" text-anchor="middle" stroke="#f4c2e0" stroke-width="0.1">A</text>
<line x1="352.60" y1="281.40" x2="355.40" y2="281.40" stroke="#aab" stroke-width="0.4"/>
<path d="M355.4,278.45 H362.7 L364.9,281.4 L362.7,284.34999999999997 H355.4 Z" fill="#5eaee6"/>
<text x="359.00" y="282.44" font-size="3.00" fill="#cfe6f8" text-anchor="middle" stroke="#cfe6f8" stroke-width="0.1">G</text>
<line x1="395.00" y1="240.80" x2="397.20" y2="240.80" stroke="#9aa" stroke-width="0.45"/>
<path d="M387.20000000000005,237.8 H395.0 V243.8 H387.20000000000005 L389.40000000000003,240.8 Z" fill="#e8961c"/>
<text x="391.80" y="241.84" font-size="3.00" fill="#f3d7b0" text-anchor="middle" stroke="#f3d7b0" stroke-width="0.1">C</text>
<line x1="388.30" y1="251.70" x2="390.50" y2="251.70" stroke="#9aa" stroke-width="0.45"/>
<path d="M380.5,248.7 H388.29999999999995 V254.7 H380.5 L382.7,251.7 Z" fill="#b3143c"/>
<text x="385.10" y="252.73" font-size="3.00" fill="#e8a8b8" text-anchor="middle" stroke="#e8a8b8" stroke-width="0.1">D</text>
<line x1="400.90" y1="251.70" x2="403.10" y2="251.70" stroke="#9aa" stroke-width="0.45"/>
<path d="M393.1,248.7 H400.9 V254.7 H393.1 L395.3,251.7 Z" fill="#e8961c"/>
<text x="397.70" y="252.73" font-size="3.00" fill="#f3d7b0" text-anchor="middle" stroke="#f3d7b0" stroke-width="0.1">C</text>
<line x1="397.80" y1="260.10" x2="400.00" y2="260.10" stroke="#9aa" stroke-width="0.45"/>
<path d="M390.0,257.1 H397.79999999999995 V263.1 H390.0 L392.2,260.1 Z" fill="#b3143c"/>
<text x="394.60" y="261.14" font-size="3.00" fill="#e8a8b8" text-anchor="middle" stroke="#e8a8b8" stroke-width="0.1">D</text>
<line x1="388.50" y1="267.70" x2="390.70" y2="267.70" stroke="#9aa" stroke-width="0.45"/>
<path d="M380.70000000000005,264.7 H388.5 V270.7 H380.70000000000005 L382.90000000000003,267.7 Z" fill="#e8961c"/>
<text x="385.30" y="268.74" font-size="3.00" fill="#f3d7b0" text-anchor="middle" stroke="#f3d7b0" stroke-width="0.1">C</text>
<line x1="401.60" y1="269.00" x2="403.80" y2="269.00" stroke="#9aa" stroke-width="0.45"/>
<path d="M393.8,266.0 H401.59999999999997 V272.0 H393.8 L396.0,269.0 Z" fill="#e8961c"/>
<text x="398.40" y="270.04" font-size="3.00" fill="#f3d7b0" text-anchor="middle" stroke="#f3d7b0" stroke-width="0.1">C</text>
<line x1="400.40" y1="279.10" x2="402.60" y2="279.10" stroke="#9aa" stroke-width="0.45"/>
<path d="M392.6,276.1 H400.4 V282.1 H392.6 L394.8,279.1 Z" fill="#b3143c"/>
<text x="397.20" y="280.14" font-size="3.00" fill="#e8a8b8" text-anchor="middle" stroke="#e8a8b8" stroke-width="0.1">D</text>
<text x="441.70" y="223.89" font-size="4.60" fill="#222" text-anchor="middle" textLength="42.3" lengthAdjust="spacingAndGlyphs">Cytidine Starved State</text>
<rect x="418.40" y="228.60" width="2.30" height="66.20" fill="#3d4660"/>
<rect x="441.00" y="228.60" width="2.30" height="45.80" fill="#3d4660"/>
<line x1="420.70" y1="238.80" x2="423.10" y2="238.80" stroke="#aab" stroke-width="0.4"/>
<line x1="438.10" y1="238.80" x2="441.00" y2="238.80" stroke="#aab" stroke-width="0.4"/>
<path d="M423.1,235.85000000000002 H430.40000000000003 L432.6,238.8 L430.40000000000003,241.75 H423.1 Z" fill="#5eaee6"/>
<path d="M430.40000000000003,235.85000000000002 H438.1 V241.75 H430.40000000000003 L432.6,238.8 Z" fill="#e8961c"/>
<text x="426.70" y="239.84" font-size="3.00" fill="#cfe6f8" text-anchor="middle" stroke="#cfe6f8" stroke-width="0.1">G</text>
<text x="435.00" y="239.84" font-size="3.00" fill="#f6d9a8" text-anchor="middle" stroke="#f6d9a8" stroke-width="0.1">C</text>
<line x1="420.70" y1="249.60" x2="423.10" y2="249.60" stroke="#aab" stroke-width="0.4"/>
<line x1="438.10" y1="249.60" x2="441.00" y2="249.60" stroke="#aab" stroke-width="0.4"/>
<path d="M423.6,246.65 H430.90000000000003 L428.70000000000005,249.6 L430.90000000000003,252.54999999999998 H423.6 Z" fill="#1f3a78"/>
<path d="M430.90000000000003,246.65 H438.40000000000003 V252.54999999999998 H430.90000000000003 L428.70000000000005,249.6 Z" fill="#cf1289"/>
<text x="426.30" y="250.63" font-size="3.00" fill="#b8c4e0" text-anchor="middle" stroke="#b8c4e0" stroke-width="0.1">T</text>
<text x="434.80" y="250.63" font-size="3.00" fill="#f4c2e0" text-anchor="middle" stroke="#f4c2e0" stroke-width="0.1">A</text>
<line x1="420.70" y1="260.10" x2="423.10" y2="260.10" stroke="#aab" stroke-width="0.4"/>
<line x1="438.10" y1="260.10" x2="441.00" y2="260.10" stroke="#aab" stroke-width="0.4"/>
<path d="M423.1,257.15000000000003 H430.40000000000003 L432.6,260.1 L430.40000000000003,263.05 H423.1 Z" fill="#5eaee6"/>
<path d="M430.40000000000003,257.15000000000003 H438.1 V263.05 H430.40000000000003 L432.6,260.1 Z" fill="#e8961c"/>
<text x="426.70" y="261.14" font-size="3.00" fill="#cfe6f8" text-anchor="middle" stroke="#cfe6f8" stroke-width="0.1">G</text>
<text x="435.00" y="261.14" font-size="3.00" fill="#f6d9a8" text-anchor="middle" stroke="#f6d9a8" stroke-width="0.1">C</text>
<line x1="420.70" y1="270.60" x2="423.10" y2="270.60" stroke="#aab" stroke-width="0.4"/>
<line x1="438.10" y1="270.60" x2="441.00" y2="270.60" stroke="#aab" stroke-width="0.4"/>
<path d="M423.6,267.65000000000003 H430.90000000000003 L428.70000000000005,270.6 L430.90000000000003,273.55 H423.6 Z" fill="#1f3a78"/>
<path d="M430.90000000000003,267.65000000000003 H438.40000000000003 V273.55 H430.90000000000003 L428.70000000000005,270.6 Z" fill="#cf1289"/>
<text x="426.30" y="271.64" font-size="3.00" fill="#b8c4e0" text-anchor="middle" stroke="#b8c4e0" stroke-width="0.1">T</text>
<text x="434.80" y="271.64" font-size="3.00" fill="#f4c2e0" text-anchor="middle" stroke="#f4c2e0" stroke-width="0.1">A</text>
<line x1="420.70" y1="281.40" x2="423.10" y2="281.40" stroke="#aab" stroke-width="0.4"/>
<path d="M423.1,278.45 H430.40000000000003 L432.6,281.4 L430.40000000000003,284.34999999999997 H423.1 Z" fill="#5eaee6"/>
<text x="426.70" y="282.44" font-size="3.00" fill="#cfe6f8" text-anchor="middle" stroke="#cfe6f8" stroke-width="0.1">G</text>
<line x1="463.00" y1="240.40" x2="465.20" y2="240.40" stroke="#9aa" stroke-width="0.45"/>
<path d="M455.20000000000005,237.4 H463.0 V243.4 H455.20000000000005 L457.40000000000003,240.4 Z" fill="#e8961c"/>
<text x="459.80" y="241.44" font-size="3.00" fill="#f3d7b0" text-anchor="middle" stroke="#f3d7b0" stroke-width="0.1">C</text>
<path d="M454.90000000000003,236.20000000000002 L463.3,244.6 M463.3,236.20000000000002 L454.90000000000003,244.6" fill="none" stroke="#d0202f" stroke-width="1.2"/>
<line x1="455.80" y1="251.40" x2="458.00" y2="251.40" stroke="#9aa" stroke-width="0.45"/>
<path d="M448.0,248.4 H455.79999999999995 V254.4 H448.0 L450.2,251.4 Z" fill="#b3143c"/>
<text x="452.60" y="252.44" font-size="3.00" fill="#e8a8b8" text-anchor="middle" stroke="#e8a8b8" stroke-width="0.1">D</text>
<line x1="468.50" y1="251.40" x2="470.70" y2="251.40" stroke="#9aa" stroke-width="0.45"/>
<path d="M460.70000000000005,248.4 H468.5 V254.4 H460.70000000000005 L462.90000000000003,251.4 Z" fill="#e8961c"/>
<text x="465.30" y="252.44" font-size="3.00" fill="#f3d7b0" text-anchor="middle" stroke="#f3d7b0" stroke-width="0.1">C</text>
<path d="M460.40000000000003,247.20000000000002 L468.8,255.6 M468.8,247.20000000000002 L460.40000000000003,255.6" fill="none" stroke="#d0202f" stroke-width="1.2"/>
<line x1="465.10" y1="259.80" x2="467.30" y2="259.80" stroke="#9aa" stroke-width="0.45"/>
<path d="M457.3,256.8 H465.09999999999997 V262.8 H457.3 L459.5,259.8 Z" fill="#b3143c"/>
<text x="461.90" y="260.84" font-size="3.00" fill="#e8a8b8" text-anchor="middle" stroke="#e8a8b8" stroke-width="0.1">D</text>
<line x1="456.20" y1="267.90" x2="458.40" y2="267.90" stroke="#9aa" stroke-width="0.45"/>
<path d="M448.40000000000003,264.9 H456.2 V270.9 H448.40000000000003 L450.6,267.9 Z" fill="#e8961c"/>
<text x="453.00" y="268.94" font-size="3.00" fill="#f3d7b0" text-anchor="middle" stroke="#f3d7b0" stroke-width="0.1">C</text>
<path d="M448.1,263.7 L456.5,272.09999999999997 M456.5,263.7 L448.1,272.09999999999997" fill="none" stroke="#d0202f" stroke-width="1.2"/>
<line x1="469.30" y1="269.60" x2="471.50" y2="269.60" stroke="#9aa" stroke-width="0.45"/>
<path d="M461.5,266.6 H469.29999999999995 V272.6 H461.5 L463.7,269.6 Z" fill="#e8961c"/>
<text x="466.10" y="270.64" font-size="3.00" fill="#f3d7b0" text-anchor="middle" stroke="#f3d7b0" stroke-width="0.1">C</text>
<path d="M461.2,265.40000000000003 L469.59999999999997,273.8 M469.59999999999997,265.40000000000003 L461.2,273.8" fill="none" stroke="#d0202f" stroke-width="1.2"/>
<line x1="467.80" y1="278.90" x2="470.00" y2="278.90" stroke="#9aa" stroke-width="0.45"/>
<path d="M460.0,275.9 H467.79999999999995 V281.9 H460.0 L462.2,278.9 Z" fill="#b3143c"/>
<text x="464.60" y="279.94" font-size="3.00" fill="#e8a8b8" text-anchor="middle" stroke="#e8a8b8" stroke-width="0.1">D</text>
<path d="M383.2,274.0 C379,277.5 375,279.5 371.6,280.6" fill="none" stroke="#e8961c" stroke-width="1.3"/>
<path d="M373.6,278.0 L368.8,281.4 L374.6,282.4 Z" fill="#e8961c"/>
<line x1="390.80" y1="280.10" x2="377.00" y2="282.90" stroke="#d23040" stroke-width="0.6"/>
<path d="M378.0,281.4 L374.0,283.5 L378.5,284.3 Z" fill="#d23040"/>
<line x1="458.20" y1="278.00" x2="439.00" y2="281.70" stroke="#a3122f" stroke-width="1.1"/>
<path d="M440.2,279.6 L435.0,282.5 L440.9,283.7 Z" fill="#a3122f"/>
<line x1="483.70" y1="227.70" x2="485.90" y2="227.70" stroke="#9aa" stroke-width="0.45"/>
<path d="M475.90000000000003,224.7 H483.7 V230.7 H475.90000000000003 L478.1,227.7 Z" fill="#e8961c"/>
<text x="480.50" y="228.73" font-size="3.00" fill="#f3d7b0" text-anchor="middle" stroke="#f3d7b0" stroke-width="0.1">C</text>
<text x="489.30" y="229.36" font-size="4.80" fill="#222" textLength="10.6" lengthAdjust="spacingAndGlyphs" stroke="#222" stroke-width="0.1">dCTP</text>
<line x1="483.70" y1="236.20" x2="485.90" y2="236.20" stroke="#9aa" stroke-width="0.45"/>
<path d="M475.90000000000003,233.2 H483.7 V239.2 H475.90000000000003 L478.1,236.2 Z" fill="#b3143c"/>
<text x="480.50" y="237.23" font-size="3.00" fill="#e8a8b8" text-anchor="middle" stroke="#e8a8b8" stroke-width="0.1">D</text>
<text x="489.30" y="237.86" font-size="4.80" fill="#222" textLength="11.6" lengthAdjust="spacingAndGlyphs" stroke="#222" stroke-width="0.1">dDAC</text>
<text x="410.10" y="393.43" font-size="8.20" fill="#111" text-anchor="middle" stroke="#111" stroke-width="0.1">MDS-L</text>
<line x1="369.60" y1="398.80" x2="369.60" y2="479.90" stroke="#231f20" stroke-width="0.9"/>
<line x1="369.20" y1="479.50" x2="449.90" y2="479.50" stroke="#231f20" stroke-width="0.9"/>
<line x1="367.20" y1="479.50" x2="369.60" y2="479.50" stroke="#231f20" stroke-width="0.8"/>
<text x="363.60" y="481.67" font-size="6.30" fill="#231f20" text-anchor="end" stroke="#231f20" stroke-width="0.1">0</text>
<line x1="367.20" y1="468.39" x2="369.60" y2="468.39" stroke="#231f20" stroke-width="0.8"/>
<text x="363.60" y="470.56" font-size="6.30" fill="#231f20" text-anchor="end" stroke="#231f20" stroke-width="0.1">100</text>
<line x1="367.20" y1="457.28" x2="369.60" y2="457.28" stroke="#231f20" stroke-width="0.8"/>
<text x="363.60" y="459.45" font-size="6.30" fill="#231f20" text-anchor="end" stroke="#231f20" stroke-width="0.1">200</text>
<line x1="367.20" y1="446.17" x2="369.60" y2="446.17" stroke="#231f20" stroke-width="0.8"/>
<text x="363.60" y="448.34" font-size="6.30" fill="#231f20" text-anchor="end" stroke="#231f20" stroke-width="0.1">300</text>
<line x1="367.20" y1="435.06" x2="369.60" y2="435.06" stroke="#231f20" stroke-width="0.8"/>
<text x="363.60" y="437.23" font-size="6.30" fill="#231f20" text-anchor="end" stroke="#231f20" stroke-width="0.1">400</text>
<line x1="367.20" y1="423.95" x2="369.60" y2="423.95" stroke="#231f20" stroke-width="0.8"/>
<text x="363.60" y="426.12" font-size="6.30" fill="#231f20" text-anchor="end" stroke="#231f20" stroke-width="0.1">500</text>
<line x1="367.20" y1="412.84" x2="369.60" y2="412.84" stroke="#231f20" stroke-width="0.8"/>
<text x="363.60" y="415.01" font-size="6.30" fill="#231f20" text-anchor="end" stroke="#231f20" stroke-width="0.1">600</text>
<line x1="367.20" y1="401.73" x2="369.60" y2="401.73" stroke="#231f20" stroke-width="0.8"/>
<text x="363.60" y="403.90" font-size="6.30" fill="#231f20" text-anchor="end" stroke="#231f20" stroke-width="0.1">700</text>
<line x1="369.60" y1="479.50" x2="369.60" y2="481.90" stroke="#231f20" stroke-width="0.8"/>
<text x="369.60" y="491.37" font-size="6.30" fill="#231f20" text-anchor="middle" stroke="#231f20" stroke-width="0.1">0</text>
<line x1="408.60" y1="479.50" x2="408.60" y2="481.90" stroke="#231f20" stroke-width="0.8"/>
<text x="408.60" y="491.37" font-size="6.30" fill="#231f20" text-anchor="middle" stroke="#231f20" stroke-width="0.1">100</text>
<line x1="447.60" y1="479.50" x2="447.60" y2="481.90" stroke="#231f20" stroke-width="0.8"/>
<text x="447.60" y="491.37" font-size="6.30" fill="#231f20" text-anchor="middle" stroke="#231f20" stroke-width="0.1">200</text>
<text x="410.00" y="503.08" font-size="6.60" fill="#231f20" text-anchor="middle" textLength="26.4" lengthAdjust="spacingAndGlyphs" stroke="#231f20" stroke-width="0.25">DAC (nM)</text>
<text transform="translate(344.20,438.60) rotate(-90)" x="0" y="2.28" font-size="6.60" fill="#231f20" text-anchor="middle" textLength="92.0" lengthAdjust="spacingAndGlyphs" stroke="#231f20" stroke-width="0.25">DAC incorporation (fmol/μg DNA)</text>
<path d="M369.60,479.50 L408.60,438.95 L447.60,407.06" fill="none" stroke="#ab1739" stroke-width="1.1"/>
<path d="M369.60,479.50 L408.60,458.39 L447.60,443.39" fill="none" stroke="#e3911c" stroke-width="1.1"/>
<rect x="406.90" y="437.25" width="3.40" height="3.40" fill="#ab1739"/>
<rect x="445.90" y="405.36" width="3.40" height="3.40" fill="#ab1739"/>
<circle cx="408.60" cy="458.39" r="1.8" fill="#e3911c"/>
<circle cx="447.60" cy="443.39" r="1.8" fill="#e3911c"/>
<path d="M367.6,479.5 L369.6,477.5 L371.6,479.5 L369.6,481.5 Z" fill="#e3911c"/>
<text x="380.40" y="412.59" font-size="5.20" fill="#333" textLength="32.0" lengthAdjust="spacingAndGlyphs" stroke="#333" stroke-width="0.1">PTC299 (nM)</text>
<line x1="379.60" y1="420.00" x2="385.40" y2="420.00" stroke="#e3911c" stroke-width="1.0"/>
<path d="M380.5,420 L382.5,418 L384.5,420 L382.5,422 Z" fill="#e3911c"/>
<text x="389.40" y="421.86" font-size="5.40" fill="#333" stroke="#333" stroke-width="0.1">0</text>
<line x1="379.60" y1="429.00" x2="385.40" y2="429.00" stroke="#ab1739" stroke-width="1.0"/>
<circle cx="382.5" cy="429" r="1.8" fill="#ab1739"/>
<text x="389.40" y="430.86" font-size="5.40" fill="#333" stroke="#333" stroke-width="0.1">30</text>
</svg>
<svg class="b" width="520" height="520" viewBox="0 0 520 520">
<rect x="0.5" y="0.5" width="519" height="519" fill="none" stroke="#000" stroke-width="1"/>
<line x1="1" y1="518.5" x2="519" y2="518.5" stroke="#000" stroke-width="1" opacity="0.35"/>
<line x1="518.5" y1="1" x2="518.5" y2="519" stroke="#000" stroke-width="1" opacity="0.2"/>
<line x1="1" y1="1.5" x2="519" y2="1.5" stroke="#000" stroke-width="1" opacity="0.12"/>
<line x1="1.5" y1="1" x2="1.5" y2="519" stroke="#000" stroke-width="1" opacity="0.12"/>
</svg></div></body></html>
